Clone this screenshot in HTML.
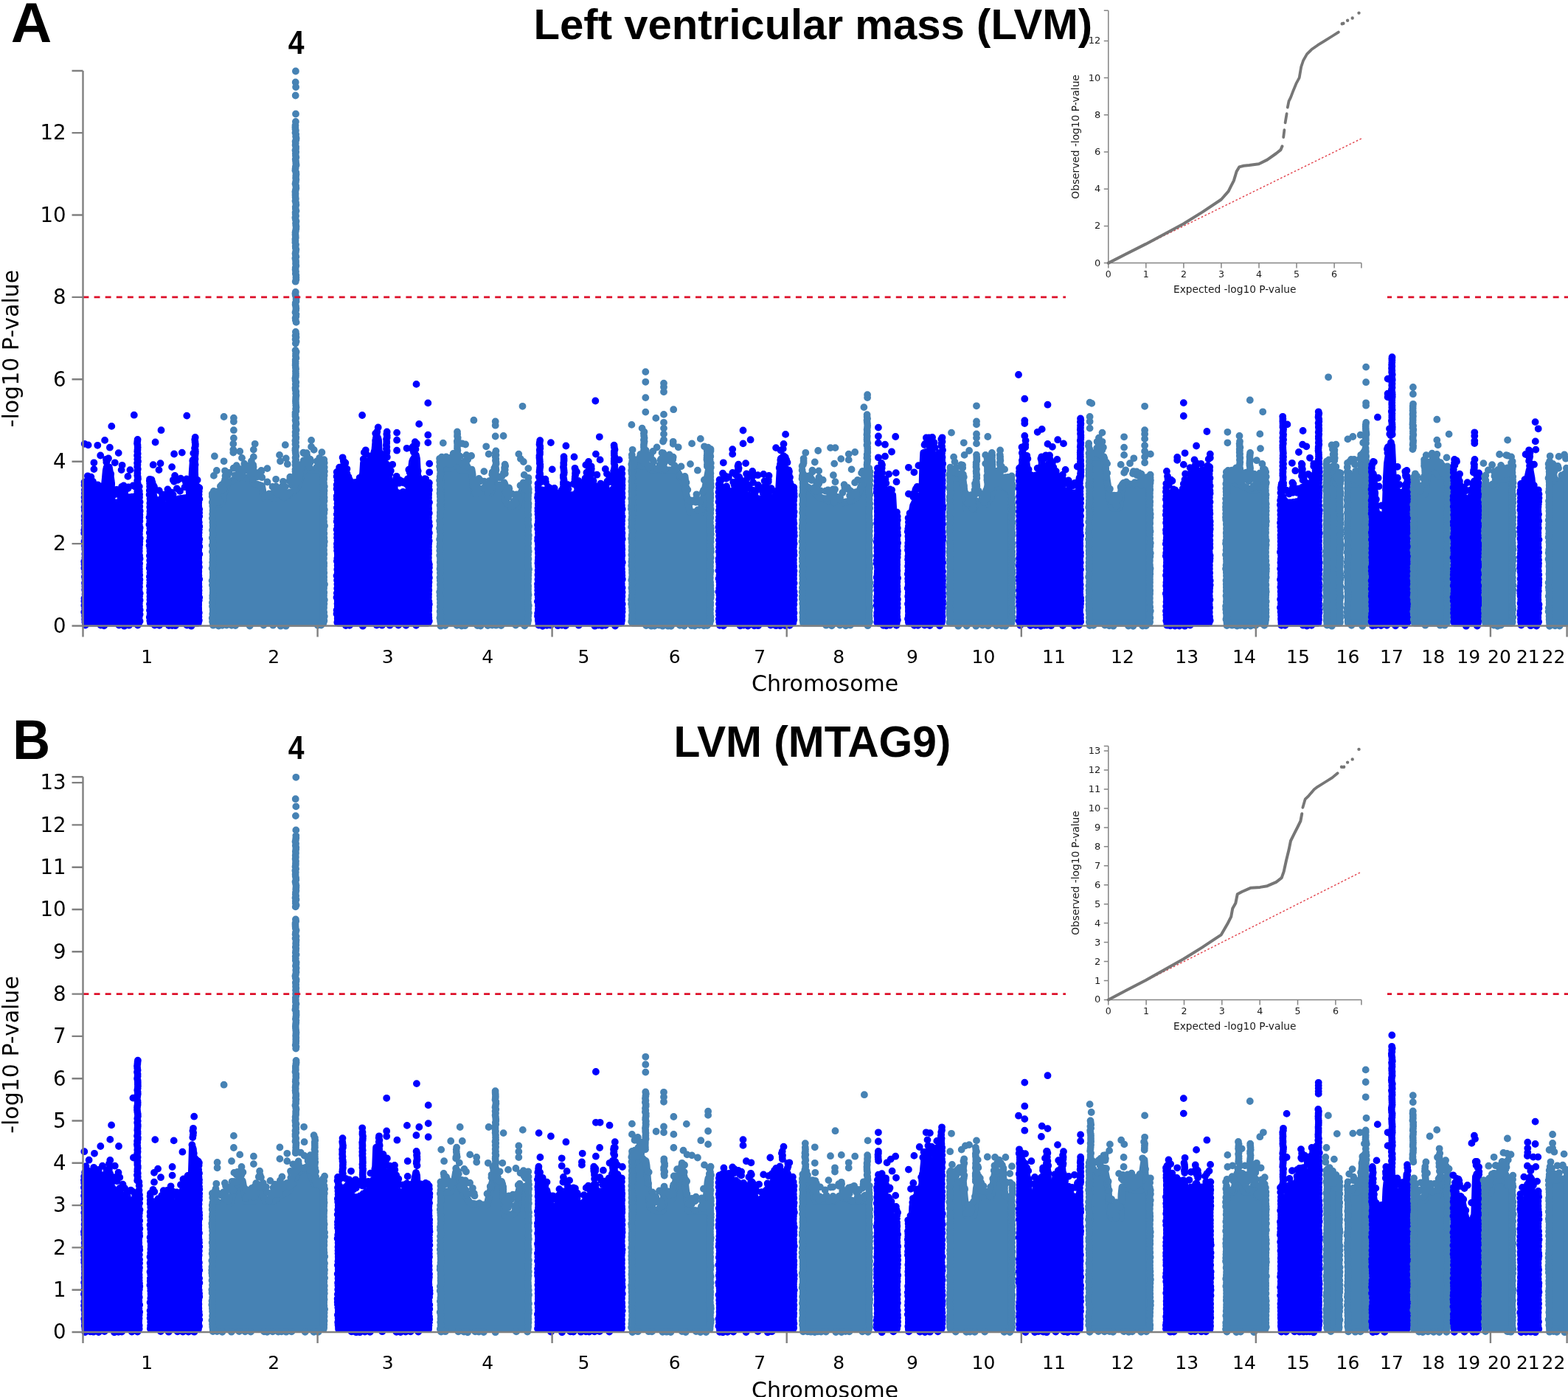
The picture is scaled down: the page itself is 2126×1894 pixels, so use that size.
<!DOCTYPE html>
<html lang="en"><head><meta charset="utf-8"><title>Left ventricular mass (LVM) GWAS Manhattan plots</title>
<style>html,body{margin:0;padding:0;background:#fff}body{width:2126px;height:1894px;overflow:hidden}svg{display:block}</style>
</head><body>
<svg width="2126" height="1894" viewBox="0 0 2126 1894">
<rect width="2126" height="1894" fill="#fff"/>
<g><path d="M115.8 844.6L115.8 666.5L116.8 666.8L117.8 667.1L118.8 667.3L119.8 667.6L120.8 667.9L121.8 668.2L122.8 668.5L123.8 668.8L124.8 669.1L125.8 669.3L126.8 669.6L127.8 669.9L128.8 670.2L129.8 670.5L130.8 670.5L131.8 670.5L132.8 670.5L133.8 670.5L134.8 670.5L135.8 670.5L136.8 670.5L137.8 670.5L138.8 670.5L139.8 670.5L140.8 666.4L141.8 658.4L142.8 648.7L143.8 637.7L144.8 633.4L145.8 633.4L146.8 633.4L147.8 633.4L148.8 639.5L149.8 646.1L150.8 652.8L151.8 685.9L152.8 686.8L153.8 687.3L154.8 687.8L155.8 688L156.8 688L157.8 688L158.8 688L159.8 688L160.8 688L161.8 688L162.8 688L163.8 688L164.8 688L165.8 687.9L166.8 683.9L167.8 682L168.8 682L169.8 682L170.8 682L171.8 682L172.8 682L173.8 682L174.8 682L175.8 682L176.8 680.8L177.8 679.5L178.8 678.3L179.8 677L180.8 675.8L181.8 674.5L182.8 673.3L183.8 672.6L184.8 672.6L185.8 672.6L186.8 672.6L187.8 672.6L188.3 672.6L188.3 844.6Z" fill="#0000ff" stroke="#0000ff" stroke-width="9.8" stroke-linejoin="round"/><path d="M165.2 659.8h0M165.1 662.2h0M165.5 664.7h0M166.1 667.2h0M165.8 669.8h0M165.6 672.2h0M165.4 674.4h0M168.9 675.7h0M129.5 663h0M183.5 660.1h0M175.1 674.1h0M151.7 683.6h0M144.3 626.5h0M165.6 687.7h0M140.6 664.1h0M167 678.8h0M145.1 624.3h0M119.7 655.4h0M120.9 664.3h0M134.3 658.8h0M121.9 666h0M178.9 673.6h0M136.2 659.9h0M137 662.9h0M127.2 662h0M134.9 669.9h0M186.3 666.2h0M133.5 670h0M138.2 661.5h0M115.8 657.9h0M150.2 642.5h0M130.3 663.5h0M116.1 656.3h0M122.3 659.9h0M118.8 653.7h0M137.8 659.7h0M158.2 681.4h0M170.2 663.7h0M167.7 658.4h0M144 622.7h0M187.2 658.8h0M168.3 663.9h0M118.9 645.3h0M180.4 658.4h0M169 660.6h0M125.9 652.6h0M152.3 664.5h0M174.1 660.3h0M158.1 663.9h0M165.3 669.1h0M132.4 657.3h0M125.4 654h0M123.4 646.6h0M156.3 670.1h0M161.2 669.3h0M151.2 655.9h0M173.6 662.1h0M152.2 669.7h0M163.6 674.7h0M169.2 667.6h0M121.2 653.5h0M114.6 653.5h0M114.6 657.7h0M114.9 664.1h0M114.9 668.7h0M114.6 674.3h0M114.7 679.6h0M115.4 683.4h0M114.6 687.6h0M114.8 692h0M115.5 695.6h0M114.7 699.9h0M114.7 705.5h0M114.9 709.8h0M115 714.7h0M114.4 718.6h0M114.3 722.7h0M115.5 729h0M114.5 733.9h0M115 740.3h0M115.3 744.6h0M115.3 750.9h0M115.4 756.2h0M114.3 761.2h0M114.5 765.1h0M114.4 770.2h0M115.3 775.8h0M114.9 782h0M115.6 785.5h0M115 790.5h0M115.4 794.9h0M115.2 799.4h0M115.6 805.5h0M114.5 811.2h0M114.4 815.1h0M114.4 820.7h0M115.1 825.1h0M114.3 829.8h0M115.1 835h0M115.2 839.8h0M115.4 843.5h0M188.8 659.6h0M188.8 665.9h0M189.1 670.2h0M189 674.2h0M189.6 680.6h0M189.3 686.6h0M189.7 692.8h0M189.4 697.9h0M189.4 701.6h0M189.4 706.4h0M188.8 711.9h0M189.7 715.5h0M189.1 719.4h0M188.9 723.9h0M189.7 729.7h0M189.3 733.9h0M189.2 738.3h0M188.7 743h0M188.7 747h0M189.1 753.2h0M189.6 757.4h0M189.1 763.9h0M188.7 767.8h0M188.9 771.6h0M188.8 775.3h0M189.2 779.6h0M189.4 785.8h0M189 790.5h0M189 795.6h0M188.5 800.1h0M189.7 804.4h0M189.1 808.3h0M189.6 813.7h0M188.8 817.8h0M189 822.1h0M189.7 826.9h0M189.6 833h0M188.5 836.5h0M189.6 842.2h0M115.8 847.5h0M136.5 847.6h0M141.1 848.4h0M161.3 847.6h0M168.5 848.7h0M175 847.7h0M186.8 847.6h0M186.6 595.9h0M186.3 598.4h0M186 601.1h0M186.5 603.5h0M186.7 606.6h0M186.5 609.7h0M186.3 612h0M186.7 615.1h0M186.1 617.5h0M186.7 620.1h0M186.3 622.6h0M187 625.4h0M186.1 627.7h0M186.5 630.1h0M186.2 632.9h0M186.8 635.9h0M186.2 638.5h0M186.4 641.6h0M186.3 644.6h0M186.8 646.9h0M187 649.2h0M186.2 651.8h0M186.5 654.1h0M187 656.9h0M186.4 659.1h0M114.7 601.8h0M119.6 603.4h0M132.3 603.8h0M142.1 596.9h0M148.9 606.7h0M151.3 577.9h0M181.8 562.7h0M160.7 614.1h0M127.4 627.3h0M127.4 636.1h0M155.8 627.3h0M165.6 630.8h0M164.6 637.1h0M176.4 637.1h0M173.4 645.9h0M136.2 617.5h0M147 621.4h0" stroke="#0000ff" stroke-width="9.8" stroke-linecap="round" fill="none"/></g>
<g><path d="M203.9 844.6L203.9 662.8L204.9 663.4L205.9 666.1L206.9 668.7L207.9 671.4L208.9 674.1L209.9 676.7L210.9 679.2L211.9 681.2L212.9 683.2L213.9 685.2L214.9 686.2L215.9 686.2L216.9 686.2L217.9 686.2L218.9 686.2L219.9 686.2L220.9 686.2L221.9 686.2L222.9 686.2L223.9 686.2L224.9 685.9L225.9 685.2L226.9 684.4L227.9 683.7L228.9 682.9L229.9 682.2L230.9 681.4L231.9 680.7L232.9 680.2L233.9 679.8L234.9 679.4L235.9 679L236.9 678.6L237.9 678.2L238.9 677.8L239.9 677.4L240.9 677L241.9 676.6L242.9 676.4L243.9 676.2L244.9 676.1L245.9 675.9L246.9 675.8L247.9 675.7L248.9 675.5L249.9 675.4L250.9 675.2L251.9 675.1L252.9 674.9L253.9 674.8L254.9 674.7L255.9 674.1L256.9 670.1L257.9 666.1L258.9 662.1L259.9 655.3L260.9 637.3L261.9 623.6L262.9 623.6L263.9 636.5L264.9 662.5L265.9 674.5L266.9 674.5L267.9 674.5L268.9 674.5L268.9 844.6Z" fill="#0000ff" stroke="#0000ff" stroke-width="9.8" stroke-linejoin="round"/><path d="M267.2 662.5h0M207.2 656.9h0M229.4 681.1h0M261.3 624.5h0M268.7 673.6h0M225.3 674.2h0M264.7 658.9h0M205.9 661.4h0M228.5 674.6h0M225.4 673.9h0M204.1 652.7h0M226.7 683.8h0M211.9 680.7h0M217.4 677.2h0M257.3 665.6h0M232 667.4h0M234.6 670.6h0M263.6 625.2h0M227.6 682.6h0M205.8 657.8h0M256.6 666.8h0M206.5 653.9h0M207.9 670.3h0M220.6 682.6h0M262.3 614.4h0M221.6 685.6h0M244 665.9h0M250.5 660.4h0M221.8 673.1h0M253 649.5h0M245.1 648.7h0M205.5 650.4h0M234.8 650.7h0M265.9 659.1h0M220.2 670.4h0M236 652.8h0M215.8 665.1h0M251.9 653.4h0M254.1 657.1h0M225.2 670.6h0M227.4 663.5h0M209 660h0M252.8 660.5h0M208.1 658.2h0M239.8 662.4h0M267.6 650.8h0M268.1 660h0M209.3 661.9h0M203 649.8h0M203.1 655.4h0M203.1 659.6h0M202.8 665h0M202.6 670.7h0M203.5 676.2h0M203.3 682.2h0M203.2 687.4h0M203.4 693.2h0M203.4 697.4h0M202.5 701.4h0M203.2 706.6h0M202.4 711.3h0M203.4 716.3h0M202.8 722.2h0M203.5 728.7h0M202.6 733.6h0M202.5 739.6h0M203.3 743.3h0M203.4 747.1h0M202.9 753.5h0M203.2 759.8h0M203.1 765.9h0M202.7 770.2h0M203.5 776.5h0M202.9 781.8h0M203.2 786h0M203.4 789.9h0M202.9 794.2h0M203.4 799.6h0M203.2 803.2h0M203.4 808.7h0M203.4 813.1h0M203 819h0M203.5 822.7h0M203 827.4h0M203.6 832.8h0M202.8 836.8h0M203.3 841.5h0M270.3 661.5h0M269.8 666h0M269.6 670.5h0M270.4 676.6h0M269.3 681.2h0M269.3 686.9h0M270.2 690.4h0M270.1 695.2h0M270.2 699.9h0M269.3 704.8h0M269.8 708.3h0M270.3 713.8h0M269.9 717.5h0M269.7 722.1h0M269.4 726.1h0M270.3 731.1h0M269.7 735h0M270.3 740.9h0M269.2 745h0M270.3 751.3h0M269.1 756.3h0M269.6 762.5h0M269.9 768.7h0M269.3 774.7h0M269.4 780.6h0M270.2 785.3h0M269.3 791.3h0M269.6 795.4h0M269.6 800.5h0M269.4 804.4h0M270.2 810h0M269.8 813.7h0M269.1 819.4h0M269.2 825.4h0M269.8 830.7h0M269.5 836.1h0M269.8 840.9h0M209.7 847.5h0M216.1 847.8h0M229 848.1h0M233.5 848.1h0M237.8 848.2h0M253.4 847.6h0M259.4 848.7h0M264.7 593h0M264.2 596h0M264.5 599.2h0M264.9 602.3h0M264.8 604.5h0M264 607.6h0M264.7 610h0M264.9 612.2h0M264.8 614.6h0M264.5 616.7h0M264.2 619.8h0M264.5 622.2h0M264 624.5h0M264.1 626.8h0M264.6 629.9h0M264.1 633h0M264.1 635.9h0M218.5 583.2h0M210.6 599.5h0M253.3 563.6h0M236.1 615.5h0M246.8 613.6h0M207.7 630.2h0M217.5 628.2h0M233.1 633.1h0M215.5 637.1h0M237.1 644.9h0M202.8 651.7h0M241 650.8h0" stroke="#0000ff" stroke-width="9.8" stroke-linecap="round" fill="none"/></g>
<g><path d="M289 844.6L289 682.4L290 682.4L291 682.4L292 682.4L293 682.4L294 682.4L295 682.4L296 682.4L297 682.4L298 682.4L299 682.4L300 682.4L301 680.8L302 674.8L303 669.8L304 667.2L305 664.5L306 661.8L307 659.2L308 656.5L309 654.7L310 654.2L311 653.7L312 653.2L313 652.7L314 652.2L315 651.7L316 651.2L317 650.7L318 650.2L319 649.7L320 649.2L321 649L322 648.9L323 648.8L324 648.7L325 648.6L326 648.5L327 648.4L328 648.3L329 648.2L330 648.1L331 648L332 647.9L333 647.8L334 647.7L335 647.6L336 647.5L337 647.4L338 647.3L339 647.2L340 647.1L341 647.1L342 650.1L343 653.1L344 655.1L345 655.4L346 655.7L347 656.1L348 656.4L349 656.7L350 657.1L351 657.4L352 657.7L353 658.1L354 658.4L355 658.7L356 664L357 672L358 674.5L359 674.5L360 674.5L361 674.5L362 674.5L363 674.5L364 674.5L365 674.5L366 674.5L367 674.5L368 674.4L369 674.3L370 674.1L371 673.9L372 673.8L373 673.9L374 674.2L375 674.5L376 674.5L377 674.5L378 674.5L379 674.5L380 674.5L381 674.5L382 674.5L383 674.5L384 674.5L385 674.5L386 673.9L387 673.3L388 672.7L389 672.1L390 671.5L391 670.9L392 670.3L393 669.7L394 669.1L395 668.5L396 667.7L397 667L398 666.2L399 665.5L400 664.7L401 664L402 663.2L403 661.5L404 658.5L405 655.5L406 652.5L407 649.5L408 646.5L409 643.5L410 640.5L411 638.8L412 638.1L413 637.3L414 636.6L415 635.8L416 635.4L417 635.6L418 635.9L419 636.1L420 636.4L421 636.6L422 636.9L423 637.1L424 637.3L425 637.3L426 637.3L427 637.3L428 637.3L429 637.3L430 637.3L431 637.3L432 637.3L433 637.3L434 637.3L435 637.1L436 636.8L437 636.6L438 636.3L438.5 636.2L438.5 844.6Z" fill="#4682b4" stroke="#4682b4" stroke-width="9.8" stroke-linejoin="round"/><path d="M343.2 630.3h0M343.6 632.9h0M343.2 635.8h0M342.5 639h0M383.2 666h0M408.3 634.7h0M437.1 630.6h0M342.9 649.8h0M355.2 647.2h0M400.2 651.4h0M411.6 628h0M384.6 674.3h0M376.6 669.8h0M335.8 633.6h0M294.1 670.5h0M381.1 666.5h0M365.7 673h0M308.8 644.3h0M386.7 659.9h0M289.4 673.3h0M304.9 655.5h0M322.6 643h0M377.1 663.4h0M382.3 667.1h0M309.2 653.9h0M325.5 636.7h0M303.4 663.4h0M419.3 633.2h0M349.1 646.4h0M290.8 677.4h0M373.1 664.8h0M385.6 666.4h0M429.1 633.6h0M326.2 647.2h0M295.6 675.8h0M349.7 646.2h0M297.8 679.3h0M290.9 676.1h0M429.7 625.3h0M318.9 644.3h0M364.8 669.5h0M410.6 627.7h0M335.3 637.8h0M296.3 680.8h0M406.1 648.5h0M290 680.2h0M400.4 656.8h0M399.9 657h0M322.8 636.3h0M323.8 635.3h0M339.2 643.7h0M393 667.5h0M395.4 657.8h0M371.8 665.9h0M406.9 642.8h0M328.7 643.3h0M433.3 626.3h0M420.6 622.7h0M328 637.6h0M400.3 663.9h0M400.6 654.9h0M420.6 627.1h0M324.8 647.3h0M383.3 670.2h0M388.5 672.1h0M359.2 672.3h0M393.3 646.7h0M354.4 639.1h0M374.3 659.5h0M320.7 631.2h0M300.7 657.3h0M310.7 640.9h0M305 638.3h0M340.6 633.1h0M293.3 669.2h0M392.6 652h0M393.2 650h0M298.9 664.9h0M343.4 633.1h0M411.6 614.4h0M298.9 659.2h0M425.7 609.9h0M305.1 650.3h0M305.8 650h0M415.8 614.1h0M383.9 652.8h0M383.5 659.8h0M304 653.6h0M402.3 649.1h0M336.8 631.7h0M292.2 667.9h0M331.3 628.7h0M344.1 640.1h0M433.2 620.8h0M416.3 617.7h0M293.7 666.7h0M354.3 638h0M340.9 628h0M369.5 659.9h0M417.9 622.4h0M411.6 624.5h0M289.2 668.2h0M403 629.4h0M289.7 666h0M362.5 653.5h0M316.6 634.6h0M340.9 625.2h0M328 620.9h0M331.5 633.8h0M393.6 652.9h0M305.5 645.1h0M301.1 660.1h0M393.3 649h0M382.9 659.3h0M349 641.2h0M287.7 669.4h0M287.7 673.1h0M288.6 676.7h0M287.7 681h0M288.3 686h0M288.5 692.1h0M288.2 697h0M287.9 702.8h0M288.4 708.2h0M288.6 712.7h0M288 718.7h0M288.6 724.5h0M287.8 729.3h0M288.7 734.5h0M287.7 739.4h0M288.6 743.6h0M287.9 748h0M288.6 754.1h0M288.5 758h0M288.2 762.5h0M288.4 766.5h0M287.6 770.6h0M288.7 776.2h0M288.7 782.6h0M287.6 787.3h0M287.9 793.2h0M288.6 798h0M288.7 803.4h0M288.3 807.5h0M288.3 811.1h0M287.9 817h0M288 822h0M288.7 826.9h0M288.3 832.2h0M287.7 837.9h0M288.1 842.7h0M439.3 623.2h0M439.7 627.4h0M439.7 633.5h0M439.9 639.1h0M439.6 644.6h0M439.1 649.5h0M438.9 654.9h0M439.8 659.6h0M439.6 665.3h0M439.3 669.5h0M439.6 674.4h0M439.6 679.1h0M439 685.4h0M439.8 690.9h0M439.4 695.6h0M438.8 702h0M439 707.1h0M440 713h0M438.9 718h0M439.4 723.2h0M439.4 728.9h0M439.8 734.3h0M439.3 739.4h0M439 745.7h0M439.3 751.3h0M438.9 757.1h0M439.2 763.5h0M439.1 767.2h0M438.8 771.9h0M439.3 776.6h0M439.2 782.2h0M439 786.5h0M440 792.2h0M439 797.3h0M439.3 803.2h0M438.9 807.4h0M439.8 813.2h0M439.4 818.6h0M439 823.8h0M439.2 830.2h0M439.8 835.6h0M439.4 841.5h0M289 847.7h0M296.4 848.6h0M301.4 847.8h0M307.2 847.5h0M314 847.8h0M319.2 848.1h0M338.7 848.6h0M357.4 847.5h0M370.2 847.7h0M380.5 848.7h0M387.7 848.7h0M430.8 847.8h0M435.4 847.6h0M303.6 565h0M316.9 566.6h0M316.9 571.5h0M316.9 583.2h0M316.9 594h0M316.3 601.8h0M316.3 609.6h0M316.3 613.6h0M325.2 612h0M290.9 618.5h0M303.6 625.3h0M289.9 644.9h0M293.8 638h0M345.7 601.8h0M343.8 609.6h0M343.8 619.4h0M362.4 635.1h0M386.8 603.2h0M379 616.9h0M380 625.3h0M387.8 621.4h0M389.8 629.2h0M422.1 596.9h0M422.1 605.7h0M411.3 613.6h0M436.4 613.2h0M436.8 623.3h0M436.8 636.1h0M374.1 649.8h0M400.9 96.5h0M400.7 111.5h0M401.1 118h0M400.7 129.5h0M401 154.5h0M400.9 165h0M400.5 170h0M400.4 172.5h0M400.5 174.9h0M400.9 177h0M400.5 179.9h0M401.2 182.1h0M401.1 185h0M401.6 187.4h0M401.4 189.5h0M400.6 191.8h0M400.8 193.9h0M400.6 196.7h0M401.2 199.3h0M401.1 201.7h0M400.5 203.7h0M401.2 205.9h0M400.8 208.3h0M400.9 210.9h0M401.4 213.2h0M400.7 215.9h0M401 218.5h0M401.3 221.4h0M401.6 223.7h0M400.9 225.8h0M400.6 228.5h0M400.4 231h0M401.3 233.7h0M401.5 236.3h0M401.2 238.6h0M401.1 241.2h0M401.4 243.6h0M401 246.6h0M400.5 249.2h0M401.2 251.9h0M401.4 254.9h0M400.9 257.2h0M400.4 259.9h0M400.6 262.4h0M400.5 264.5h0M400.6 267.2h0M400.9 269.5h0M400.5 272.4h0M401.1 274.8h0M401.4 277.7h0M400.7 280.6h0M400.8 283h0M401.5 285.9h0M400.6 288h0M400.7 290.2h0M401.1 292.7h0M400.4 295h0M400.8 297.4h0M401.5 300h0M401 302.7h0M401.2 305.3h0M401.5 307.3h0M401.4 310.1h0M400.9 312.9h0M400.5 315.3h0M400.5 317.9h0M400.7 320h0M400.8 322.2h0M400.4 324.2h0M400.5 326.4h0M400.4 328.7h0M401.1 331.6h0M400.7 333.8h0M400.8 336.1h0M401.4 338.2h0M401 341.2h0M400.5 343.7h0M400.8 345.8h0M401.4 348.1h0M400.4 350.2h0M401 353.2h0M401.1 355.3h0M401 357.4h0M401.4 360.3h0M400.7 363h0M400.6 365.4h0M401 368.2h0M400.8 371h0M401.4 373.2h0M401.4 376.2h0M401.4 379h0M400.7 381.7h0M400.8 396h0M400.4 398h0M400.7 400.3h0M401.5 403h0M401.5 405.4h0M401.5 408.4h0M400.7 410.8h0M400.6 413h0M401.1 415.2h0M401.4 418.1h0M401.2 420.6h0M400.5 423.4h0M401.5 426.1h0M401.3 428.9h0M400.6 431.3h0M400.8 434.1h0M401.6 436.9h0M400.9 450h0M401.3 452.9h0M400.6 455.1h0M401.5 457.3h0M400.6 460.1h0M401.6 462.9h0M400.8 465.6h0M400.6 475h0M401.6 477h0M401 479.7h0M400.9 482.6h0M401.4 485.5h0M400.7 487.7h0M400.7 490h0M400.7 492.6h0M400.6 495h0M400.8 497.9h0M401.1 500.3h0M400.9 503.3h0M401 506.2h0M401 508.7h0M400.9 510.7h0M400.4 512.9h0M400.6 515.7h0M401.3 518.2h0M400.8 520.7h0M401.1 523.3h0M400.5 526h0M400.7 528.6h0M401.3 530.9h0M401.1 533.4h0M401.5 536.1h0M401.1 538.6h0M401 541.1h0M400.9 543.8h0M401 546.3h0M401.2 549.3h0M401.5 552.1h0M401.1 554.4h0M401.4 557.3h0M400.5 559.5h0M400.5 561.9h0M400.5 564.2h0M401.3 566.8h0M400.6 569.7h0M401.2 572.4h0M401.5 574.6h0M400.7 577.5h0M400.9 580.5h0M401.6 583h0M400.6 585.8h0M401 588.3h0M400.6 590.6h0M401.3 592.9h0M401.1 594.9h0M400.4 597.4h0M401.1 599.7h0M400.5 602.2h0M401.3 605.2h0M400.5 608.2h0M400.4 610.4h0M400.7 613.2h0M400.9 615.3h0M401.4 618.3h0M400.6 620.5h0M401.1 623.4h0M400.5 626.1h0M401.2 628.2h0M400.5 630.6h0M401.2 633.6h0M400.5 636.4h0M400.5 639.2h0M400.9 642.1h0M401.1 644.4h0M400.7 647.3h0M401 649.5h0" stroke="#4682b4" stroke-width="9.8" stroke-linecap="round" fill="none"/></g>
<g><path d="M458 844.6L458 653L459 653L460 653L461 653L462 653L463 653L464 651L465 648.6L466 646.2L467 644.1L468 645L469 645.9L470 646.8L471 647.7L472 648.6L473 649.5L474 650.6L475 653.4L476 656.2L477 659L478 661.8L479 664.6L480 667.4L481 667.4L482 667.4L483 667.4L484 667.4L485 667.4L486 667.4L487 667.4L488 667.4L489 667.4L490 667.4L491 659.4L492 643.4L493 627.4L494 626.7L495 626.4L496 626.1L497 625.7L498 625.4L499 625.1L500 624.7L501 624.4L502 624L503 623.6L504 623.2L505 622.8L506 622.4L507 622L508 614.1L509 603.1L510 593.3L511 593.3L512 593.3L513 596.5L514 618.5L515 622.5L516 623.2L517 624L518 624.7L519 625.5L520 626.2L521 627L522 627.7L523 628.5L524 629.2L525 633.1L526 640.4L527 647.8L528 655.1L529 658.8L530 659.8L531 660.8L532 661.8L533 662.8L534 663.8L535 664.8L536 665.8L537 666.8L538 667.8L539 668.6L540 668.6L541 668.6L542 668.6L543 668.6L544 668.6L545 668.6L546 668.6L547 668.6L548 668.6L549 668.6L550 668.6L551 668.6L552 668.6L553 668.6L554 668.4L555 659.9L556 651.4L557 642.9L558 634.4L559 625.9L560 623.2L561 621.7L562 620.2L563 618.7L564 617.2L565 621.9L566 641.9L567 661.9L568 668.5L569 668.5L570 668.5L571 668.5L572 668.5L573 668.5L574 668.5L575 668.5L576 668.5L577 668.5L578 668.4L579 668.1L580 667.8L580.5 667.6L580.5 844.6Z" fill="#0000ff" stroke="#0000ff" stroke-width="9.8" stroke-linejoin="round"/><path d="M465.7 624.7h0M466.2 627.5h0M466.7 630.4h0M466.7 632.6h0M564.8 601.1h0M560.9 613h0M509.3 597h0M467.2 639h0M535.9 652.2h0M532.7 657.8h0M572.1 659.1h0M578.2 661.4h0M517.3 622.9h0M462.1 649h0M534.6 655h0M563.5 609.1h0M516.1 616.6h0M552.4 657.5h0M511.3 585.2h0M525.8 638h0M493.8 624.3h0M507.4 612.6h0M491.3 644.5h0M577.4 663.7h0M555 650.6h0M496.8 615.9h0M529.8 654.6h0M554 655h0M546.5 667h0M524.8 619.8h0M494.8 612.5h0M481.2 666.3h0M532.5 657.5h0M554.6 662.9h0M532.9 657.4h0M534.8 660.5h0M531 656.3h0M484 662.7h0M514.1 615.2h0M470.4 635.8h0M462.5 649.8h0M569.9 663.7h0M503.2 621.1h0M554.3 658.1h0M489.6 657.6h0M509.6 588h0M510.7 588.3h0M572.4 655.3h0M527.5 638h0M472.5 646.4h0M528.4 657.1h0M512.7 579.5h0M505.4 616.9h0M572.8 668.2h0M516.2 615h0M470.5 642.3h0M484 653.6h0M459.9 640h0M541.7 654.9h0M576.3 655h0M564.5 602.9h0M460.1 633.6h0M487.6 647.8h0M480.9 654.1h0M552.8 649.3h0M562.8 599.2h0M468.3 627.5h0M544.9 652.5h0M572.2 654h0M576.1 649.2h0M459.4 639.9h0M537.7 645.8h0M467.7 630.1h0M547.3 654.6h0M563.4 601.6h0M465.3 632.2h0M528.4 642.4h0M540.9 654.8h0M555.6 640.4h0M537 648.8h0M509.2 587.6h0M554.3 636.7h0M554.1 651.3h0M493.8 613.4h0M577.3 649.4h0M559.3 608.9h0M532.2 629.8h0M559.8 605.6h0M495.8 610.3h0M566.8 646.5h0M541.9 651h0M567.7 647.3h0M492.7 622.4h0M490.2 651.7h0M529.8 638.3h0M566.7 638.6h0M456.7 640h0M456.6 645.9h0M457.4 651.1h0M456.7 657.2h0M456.6 662.7h0M457.7 667.3h0M456.7 672.4h0M456.8 676.6h0M457.5 682.8h0M456.9 688.2h0M457.5 693.1h0M456.8 697.3h0M457.2 703.2h0M456.7 707h0M457.5 712.8h0M456.6 718h0M457.1 724.2h0M457 729.1h0M457.5 733.2h0M456.9 737.2h0M457 741.8h0M457.1 746.5h0M457.7 750.5h0M457.3 756.9h0M456.9 760.8h0M457.6 766.6h0M457.3 771.9h0M457.7 777h0M456.5 780.6h0M457.1 786.7h0M457.4 791.9h0M457.2 797.7h0M456.8 804.1h0M456.5 810h0M457.7 814.3h0M457.5 818.4h0M457.7 822.1h0M456.6 827.3h0M456.5 832.2h0M457.7 838.4h0M457.3 843.7h0M581.9 654.6h0M581.4 658.9h0M581.9 664.3h0M581.2 669.9h0M580.9 674.7h0M582 681.1h0M580.7 685.3h0M581.1 689.5h0M581.8 695.7h0M580.7 701.7h0M581.6 707.6h0M582 713h0M580.9 716.7h0M581.9 722.5h0M581.1 728h0M581.7 733.3h0M581.1 737.1h0M580.8 741.4h0M580.9 746.3h0M580.9 750.5h0M580.7 756.1h0M580.9 761.7h0M581.9 765.3h0M581.9 769.5h0M581.8 775.6h0M581.3 779.5h0M581.9 783.3h0M581.5 789.3h0M581.1 794.2h0M581.3 800.1h0M580.9 805.5h0M580.7 809.7h0M581.4 815.3h0M581.8 819.3h0M581.2 823.6h0M581 827.5h0M581.1 833.6h0M581.3 837.6h0M581.8 842h0M468.9 848.1h0M474 847.8h0M491.9 848.7h0M510.7 847.5h0M518 847.7h0M528.6 847.7h0M540.2 847.6h0M550.5 847.8h0M564.2 847.8h0M524.7 585.5h0M524.3 588.5h0M524.7 590.6h0M524.7 593.1h0M524 595.5h0M524.2 598.5h0M524.2 600.7h0M523.8 603.4h0M524.3 606h0M523.9 608.6h0M524.6 611.5h0M524.1 614.5h0M564.5 520.9h0M580.3 546.4h0M491.1 563h0M568.2 574.9h0M538.1 586.6h0M538.1 596.7h0M538.1 610.7h0M580.3 589.7h0M580.3 600.1h0M582.2 628.6h0M582.2 640.3h0M551.6 607.8h0M464.6 620.3h0" stroke="#0000ff" stroke-width="9.8" stroke-linecap="round" fill="none"/></g>
<g><path d="M597.5 844.6L597.5 634.8L598.5 634.8L599.5 634.8L600.5 634.8L601.5 634.8L602.5 634.8L603.5 634.8L604.5 634.8L605.5 634.8L606.5 634.8L607.5 634.8L608.5 634.8L609.5 634.8L610.5 634.8L611.5 634.4L612.5 633.7L613.5 632.9L614.5 632.2L615.5 631.4L616.5 630.7L617.5 629.9L618.5 629.2L619.5 628.4L620.5 627.7L621.5 629.9L622.5 632.5L623.5 635.2L624.5 637.4L625.5 637.4L626.5 637.4L627.5 637.4L628.5 637.4L629.5 637.4L630.5 637.4L631.5 637.4L632.5 637.4L633.5 637.4L634.5 637.4L635.5 637.2L636.5 637.1L637.5 636.9L638.5 636.7L639.5 636.6L640.5 642.6L641.5 655.6L642.5 668.6L643.5 668.6L644.5 668.6L645.5 668.6L646.5 668.6L647.5 668.6L648.5 668.6L649.5 668.6L650.5 668.6L651.5 668.6L652.5 668.6L653.5 668.6L654.5 668.6L655.5 668.6L656.5 668.6L657.5 668.6L658.5 668.6L659.5 668.6L660.5 668.6L661.5 668.6L662.5 668.6L663.5 668.6L664.5 668.6L665.5 668.5L666.5 665.5L667.5 662.5L668.5 659.5L669.5 656.9L670.5 657.4L671.5 657.8L672.5 658L673.5 658L674.5 658L675.5 658L676.5 658L677.5 658L678.5 658L679.5 658L680.5 658L681.5 658L682.5 657.6L683.5 654.3L684.5 656.5L685.5 679.2L686.5 680.4L687.5 681.6L688.5 682.8L689.5 684L690.5 685.2L691.5 686.4L692.5 686.4L693.5 686.4L694.5 686.4L695.5 686.4L696.5 686.4L697.5 686.4L698.5 686.4L699.5 686.4L700.5 686.4L701.5 686.4L702.5 683.9L703.5 679.9L704.5 675.9L705.5 671.9L706.5 667.9L707.5 665.6L708.5 664.9L709.5 664.3L710.5 663.6L711.5 662.9L712.5 662.3L713.5 661.6L714.5 660.9L715.5 660.8L715.5 844.6Z" fill="#4682b4" stroke="#4682b4" stroke-width="9.8" stroke-linejoin="round"/><path d="M667.6 640.1h0M667.2 643.2h0M668.4 646.5h0M667.8 649.3h0M684.6 629.6h0M685.2 631.8h0M684.1 634.3h0M684.2 636.6h0M683.9 639.8h0M684.8 642.1h0M599.6 629.2h0M665.6 661.8h0M680.5 645.5h0M700.1 682.4h0M602.9 622.6h0M655.8 661.6h0M630.5 625.1h0M645.4 656.5h0M667.4 660.5h0M614.9 625.8h0M685.6 667.5h0M695 685.5h0M643.4 660.4h0M696.6 679.7h0M644.2 667.7h0M689.2 674.1h0M625.9 628.1h0M648.9 668.3h0M692.5 685.1h0M693.7 684.2h0M603.9 628.1h0M710.6 662.7h0M627 629.3h0M672.2 649.1h0M660.2 655.5h0M648.6 661.6h0M600 622.8h0M712 659.5h0M708.1 660.1h0M693 684.7h0M701.9 672.3h0M673.2 647.8h0M677.6 647.9h0M661.5 667.5h0M670.8 647.1h0M658.9 660.6h0M709.7 654.3h0M633.6 632.5h0M611.7 628.8h0M710.4 656.8h0M629.2 629.9h0M660.5 656.6h0M612.2 621.9h0M632.2 629.1h0M631.6 626.8h0M607.9 628.5h0M696.6 680.9h0M664.8 663.7h0M621.3 624.5h0M651.9 651.6h0M669.9 641h0M634.2 623h0M623.7 618.6h0M642.8 651.1h0M598.9 619.7h0M699.2 672h0M663.2 652.2h0M631.1 602.5h0M632.4 617h0M616.3 617.7h0M700.4 670.5h0M604.9 619.4h0M649.4 648.9h0M610.4 620.6h0M710.7 643.9h0M615.8 616.4h0M639.1 618h0M670.3 634.7h0M694.4 669.7h0M684.7 636.7h0M687.2 664.7h0M690.2 665.4h0M705.5 658.2h0M700.3 673.3h0M687.9 664.8h0M656.3 639.1h0M665 652.8h0M690 661.3h0M669.2 642.6h0M650.9 652.5h0M682.9 641.2h0M643.6 651.5h0M642.9 653.6h0M690.4 662.7h0M656.5 652.6h0M619.3 614h0M614.6 614.9h0M666.2 653.5h0M596.1 621.8h0M596.2 626.3h0M596.1 632.3h0M596.8 636.4h0M597.3 642.7h0M596.6 646.3h0M596.1 651.3h0M596.6 657.1h0M596.7 663.6h0M596.5 668.7h0M596.9 673.3h0M596.9 678.6h0M596.5 685h0M597.2 690h0M596.8 694.7h0M596.6 699.8h0M596.1 706h0M596.8 710.9h0M596 716.3h0M596.7 720.8h0M597.1 726.8h0M596.1 731.2h0M596.7 737.2h0M596.2 741.1h0M596.3 746.6h0M596.2 753.1h0M597.1 757.9h0M596.7 762.2h0M597.1 767.2h0M596.5 771.3h0M596.9 776.6h0M596.5 783.1h0M596.8 786.7h0M596.9 792.6h0M597.3 798.1h0M596.2 802.6h0M596.5 807.8h0M596.7 811.9h0M597 817.1h0M596.7 822.5h0M596.6 829h0M597.2 833.7h0M596.4 837.7h0M597.2 841.5h0M716.4 647.8h0M716.5 653.7h0M715.8 659.7h0M716.7 663.2h0M716.7 667.7h0M716 672.2h0M715.9 676.5h0M716.5 682.7h0M716.3 687.3h0M715.8 691.9h0M716.5 698.1h0M716.3 704.5h0M716.1 709.9h0M717 713.5h0M716.2 719.6h0M716.8 725.7h0M716.5 730.2h0M716.4 736.5h0M716.1 742.9h0M716.7 747.6h0M716.1 751.7h0M716.4 757.8h0M716.1 763.7h0M716.2 767.7h0M717 771.8h0M716.5 776.2h0M716.4 780h0M716.3 784.7h0M715.9 788.4h0M716.2 794.4h0M716 798.6h0M716 802.9h0M716.6 806.5h0M715.9 811.1h0M715.9 816.7h0M716.8 821h0M716.3 824.9h0M716.8 830.9h0M716.2 834.9h0M716.2 840.5h0M597.5 848.7h0M603.6 848.1h0M619.5 847.8h0M625.9 848.6h0M630.4 848.2h0M647.3 848h0M651.6 848.6h0M661.4 848h0M667.4 847.6h0M672.6 847.7h0M679.5 848h0M699.2 847.5h0M711.3 848.4h0M620 585.5h0M620.2 588.5h0M620 591.3h0M620.7 593.4h0M620.5 596.3h0M619.8 598.3h0M620 600.5h0M620.2 602.9h0M620.1 605h0M620 607.7h0M620.4 610.7h0M620.1 613.6h0M672.4 611.5h0M671.7 613.9h0M672.5 616.9h0M671.7 619.2h0M672.3 622.2h0M671.9 624.3h0M672.5 626.4h0M672.6 628.7h0M671.8 631.6h0M672.1 634.4h0M672.5 637.3h0M671.8 639.7h0M672.1 642.8h0M708.5 550.8h0M642.4 569.7h0M671.7 571.5h0M671.7 576.7h0M671.7 591.5h0M682.6 591h0M600.8 600.6h0M659.2 605.3h0M662.6 615.6h0M703.3 615.6h0M705.9 622.1h0M709.8 626h0M716.3 635.1h0M626.8 601.4h0" stroke="#4682b4" stroke-width="9.8" stroke-linecap="round" fill="none"/></g>
<g><path d="M730.4 844.6L730.4 668.6L731.4 668.6L732.4 668.6L733.4 668.6L734.4 668.6L735.4 668.6L736.4 668.6L737.4 668.6L738.4 668.6L739.4 668.6L740.4 668.6L741.4 668.6L742.4 668.6L743.4 670.5L744.4 672.5L745.4 674.5L746.4 676.5L747.4 678.5L748.4 680.5L749.4 681.5L750.4 681.5L751.4 681.5L752.4 681.5L753.4 681.5L754.4 681.5L755.4 681.5L756.4 681.5L757.4 681.5L758.4 681.5L759.4 680.6L760.4 678.6L761.4 676.6L762.4 674.6L763.4 672.6L764.4 670.6L765.4 670.4L766.4 670.6L767.4 670.7L768.4 670.9L769.4 671.1L770.4 671.1L771.4 671.1L772.4 671.1L773.4 671.1L774.4 671.1L775.4 671.1L776.4 671.1L777.4 671.1L778.4 671.1L779.4 671.1L780.4 671L781.4 670.7L782.4 670.5L783.4 670.2L784.4 670L785.4 669.7L786.4 669.5L787.4 669.2L788.4 669L789.4 668.7L790.4 667.8L791.4 665.5L792.4 663.2L793.4 660.9L794.4 658.7L795.4 656.4L796.4 654.1L797.4 651.8L798.4 649.5L799.4 650.5L800.4 655L801.4 659.5L802.4 664L803.4 668.5L804.4 668.5L805.4 668.5L806.4 668.5L807.4 668.5L808.4 668.5L809.4 668.5L810.4 668.5L811.4 668.5L812.4 668.5L813.4 668.5L814.4 668.4L815.4 668.2L816.4 668.1L817.4 667.9L818.4 667.7L819.4 667.6L820.4 667.4L821.4 667.2L822.4 667.1L823.4 666.9L824.4 666.7L825.4 666.6L826.4 666.4L827.4 666.2L828.4 666.1L829.4 665.4L830.4 664.2L831.4 662.9L832.4 661.6L833.4 660.3L834.4 659.1L835.4 657.8L836.4 656.5L837.4 655.2L838.4 654L839.4 652.7L840.4 651.4L841.4 650.2L842.4 648.9L842.4 844.6Z" fill="#0000ff" stroke="#0000ff" stroke-width="9.8" stroke-linejoin="round"/><path d="M801.6 632.3h0M801.8 635.4h0M801.3 638.3h0M801.6 640.6h0M801.4 643.3h0M744.7 670.1h0M735.3 664.4h0M820.6 657h0M791.6 665.1h0M801.8 655.3h0M758.3 668.3h0M770.4 662.9h0M752.9 671.8h0M745.7 671.3h0M805.4 657.8h0M757.4 674.7h0M780.2 670.1h0M769.7 661.3h0M829.5 653.4h0M793.5 651.6h0M821.7 660.8h0M815.5 656.6h0M805 662.9h0M782 667.3h0M823.5 654.5h0M762.8 664.6h0M753.5 668.3h0M761.8 664.4h0M808.9 660.8h0M743 660h0M782.9 661.4h0M749.2 668.5h0M731.6 668.4h0M814.4 655.6h0M810.7 668.2h0M793.5 648.5h0M785.1 661.8h0M751.6 675.1h0M731.3 667.4h0M802.6 658.8h0M835.1 653.6h0M758.5 670.9h0M745.9 661.8h0M817.1 665.7h0M763.6 661.2h0M801.8 659.6h0M834.2 647.4h0M818.2 665.3h0M813.5 659.1h0M751 679h0M766.2 661.7h0M792.1 655.5h0M823.5 652.5h0M735 651.4h0M800.7 635.7h0M809.4 643.7h0M836.2 640.1h0M786.3 655.6h0M763.9 654.2h0M739.4 649.7h0M748.7 665.5h0M839 639.9h0M734.8 652.7h0M751.7 662h0M730.7 646.4h0M826.2 645.7h0M778 656.4h0M804.5 651.9h0M777.5 656h0M779.5 652.6h0M822.9 642.3h0M748.8 666.7h0M780 654h0M769.4 657h0M739.9 653.6h0M781.9 639.8h0M832.1 638.6h0M839.5 623.4h0M799.8 631.4h0M737.1 649.9h0M798.6 634.7h0M794.3 630.4h0M784.2 651.8h0M763.9 656.5h0M829.5 652.3h0M751.5 662.8h0M780.5 657.5h0M804.3 653.2h0M795.4 640.7h0M729.5 655.6h0M729.7 660.7h0M729.9 664.6h0M729.5 670.8h0M729 674.6h0M730 678.9h0M729.8 684h0M729.4 688.9h0M729.4 693.1h0M729.5 696.9h0M730.1 702.2h0M730.1 706.9h0M729 711.7h0M729.2 716.9h0M730 722.7h0M729.2 729.1h0M729.1 732.9h0M729.9 737.6h0M729.4 744h0M730 749.8h0M730.1 755.7h0M729.7 759.9h0M729.4 763.4h0M729.8 767.6h0M729.6 773.2h0M729.4 779.3h0M729.4 785.5h0M729 791.7h0M729.2 795.7h0M729.2 800.2h0M729.1 805.8h0M729.7 809.6h0M728.9 815.4h0M730.1 821h0M730 826.3h0M729.1 831.5h0M729 835.3h0M729.8 840.8h0M843.1 635.9h0M843.3 641.9h0M842.6 645.7h0M843.6 649.6h0M843.3 653.6h0M843.5 658h0M842.8 662.6h0M843.3 668.8h0M843.6 674.3h0M842.6 680.7h0M842.8 685.2h0M843.7 690.2h0M842.6 696.1h0M843.6 700.2h0M843.1 705.7h0M842.8 710.6h0M843.1 716.7h0M843.4 722.8h0M843 726.5h0M843.7 730.7h0M842.6 735.9h0M843 739.9h0M843.3 744.8h0M843 749.5h0M843.3 753h0M842.6 757.5h0M843.8 762.4h0M842.8 766h0M842.9 771.5h0M843.2 775.9h0M843.3 780.2h0M843.8 785.2h0M842.6 791.7h0M843.6 796.9h0M843.6 803h0M843.4 808.4h0M842.9 813h0M843.7 818.9h0M843.5 825.2h0M843.6 829.6h0M843.2 835.3h0M843 840.7h0M730.4 847.6h0M735.7 848.8h0M741.6 847.8h0M746.6 847.7h0M756.4 848.2h0M761.6 847.6h0M766.8 848.4h0M784.7 847.7h0M806.5 848.7h0M811.6 847.5h0M816.2 848.4h0M821.1 847.8h0M834.1 848.5h0M732.2 597.2h0M731.7 600.2h0M731.5 602.4h0M732.2 605h0M732.3 607.8h0M731.7 610.1h0M732 613h0M732 615.5h0M731.4 617.9h0M731.4 620.4h0M731.7 623.1h0M731.9 625.7h0M731.8 628h0M732.3 630h0M732.3 632.7h0M732 634.8h0M731.7 637.6h0M731.5 639.7h0M732.1 641.9h0M732.2 644h0M731.9 646.5h0M731.9 649.2h0M732 652h0M732.1 654.4h0M764.5 619.2h0M764.6 622.2h0M764.6 624.5h0M764.2 627.7h0M764.3 630h0M763.9 633.2h0M764.3 635.2h0M764.6 638h0M764.8 640.4h0M764.5 642.7h0M763.8 644.8h0M763.8 646.9h0M764.3 649.5h0M764.7 651.8h0M763.9 654.2h0M764.5 656.4h0M779.5 634.8h0M780.1 636.8h0M780.3 639.1h0M780 641.7h0M780.1 644.1h0M779.7 646.7h0M779.5 649.8h0M779.4 652.7h0M779.7 655.4h0M832.6 603.7h0M832.9 606.3h0M833.5 609.4h0M832.8 612.2h0M832.8 614.5h0M832.8 617h0M833.3 619.3h0M832.8 622h0M832.7 625.2h0M832.7 627.9h0M833.4 631h0M833.3 633.3h0M832.8 636.3h0M833 638.7h0M832.7 641.7h0M833.1 644.5h0M833.1 647.1h0M807.3 543.5h0M812.8 592.3h0M746.9 600.1h0M767.4 604.5h0M778.5 619.5h0M748.7 636.4h0M807.9 615.6h0M813.6 623.4h0M820.8 635.9h0M843.4 650.7h0M843.4 662.3h0M798 626h0" stroke="#0000ff" stroke-width="9.8" stroke-linecap="round" fill="none"/></g>
<g><path d="M857.5 844.6L857.5 629.6L858.5 629.7L859.5 629.9L860.5 630L861.5 630.2L862.5 630.3L863.5 630.4L864.5 630.6L865.5 630.7L866.5 630.9L867.5 631L868.5 631.2L869.5 631.3L870.5 631.4L871.5 631.6L872.5 631.7L873.5 631.9L874.5 632L875.5 632.2L876.5 632.5L877.5 633L878.5 633.5L879.5 634L880.5 634.5L881.5 635L882.5 635.5L883.5 636L884.5 636.5L885.5 637L886.5 637.3L887.5 637.3L888.5 637.3L889.5 637.3L890.5 637.3L891.5 637.3L892.5 637.3L893.5 637.3L894.5 637.3L895.5 637.3L896.5 637.3L897.5 635.8L898.5 634.3L899.5 632.8L900.5 634.5L901.5 636.5L902.5 637.4L903.5 637.4L904.5 637.4L905.5 637.4L906.5 637.4L907.5 637.4L908.5 637.4L909.5 637.4L910.5 637.4L911.5 637.4L912.5 637.4L913.5 637.4L914.5 637.4L915.5 637.4L916.5 637.4L917.5 637.4L918.5 639.3L919.5 641.3L920.5 643.3L921.5 645.3L922.5 647.3L923.5 649.3L924.5 651.3L925.5 653.3L926.5 655.3L927.5 657.3L928.5 660.9L929.5 665.5L930.5 670.2L931.5 674.9L932.5 679.5L933.5 684.2L934.5 688.9L935.5 693.5L936.5 694.5L937.5 694.5L938.5 694.5L939.5 694.5L940.5 694.5L941.5 694.5L942.5 694.5L943.5 694.5L944.5 694.5L945.5 694.5L946.5 694.5L947.5 694.5L948.5 694.5L949.5 694.5L950.5 694.5L951.5 690.4L952.5 683.8L953.5 677.1L954.5 670.4L955.5 664.8L956.5 659.6L957.5 654.4L958.5 649.2L959.5 644L960.5 638.8L961.5 634.3L962.5 631.8L962.5 844.6Z" fill="#4682b4" stroke="#4682b4" stroke-width="9.8" stroke-linejoin="round"/><path d="M899.3 614.2h0M899.5 617.5h0M963.5 608.9h0M963.5 611.3h0M962.7 614.7h0M962.4 616.9h0M858.5 628.5h0M873.3 628.2h0M867.7 619.4h0M929.2 650.5h0M893.1 636.2h0M932.7 677.9h0M960.3 625.3h0M882.1 632.3h0M929.9 654.4h0M910.5 626.7h0M902.7 624.9h0M859.6 629.7h0M890.7 635.6h0M870.1 624.2h0M871.7 623.7h0M876.3 628.1h0M873 628.1h0M910.1 625h0M894.6 630.2h0M953.9 664.7h0M880.1 633.8h0M950.2 690.7h0M886.1 625.7h0M885.3 623.9h0M862 623.4h0M900.3 628.3h0M895.6 623.4h0M929.7 663h0M914.6 631.1h0M930 667.6h0M949.3 690.5h0M899.4 623.2h0M901.5 636.1h0M898.1 626.4h0M900.5 622.5h0M962.3 617.8h0M921.3 644.3h0M884.2 630.8h0M897.1 625.9h0M878.3 621.1h0M946 691.5h0M952.9 667.1h0M930.4 660.8h0M925.3 647h0M890.6 606.5h0M857.6 609.8h0M947.1 677.9h0M919.7 606.3h0M882.1 617.3h0M935.5 678.2h0M932.3 664h0M912.7 619.7h0M928.6 645.9h0M923.5 632.4h0M880.9 617h0M885.3 612h0M907.2 618h0M912.3 621.2h0M880.7 620.7h0M954.9 650.7h0M912.5 620.7h0M942.9 680.1h0M875.6 610.5h0M905.8 619.3h0M944.4 670.3h0M948.6 681.3h0M897.5 613.9h0M943.3 680.8h0M873.6 617.4h0M868.3 616h0M941.8 677.8h0M905 624h0M899 598.5h0M930.5 654.2h0M907.7 616.4h0M937.2 680.7h0M928.9 647.9h0M912.2 623.1h0M896.4 622.2h0M856.8 616.6h0M857 620.2h0M857.2 625.4h0M856.3 629.4h0M856.9 633.8h0M856.2 638h0M856.5 641.8h0M857 647.8h0M856.3 652.6h0M856.8 658h0M856.7 661.6h0M856.4 666.2h0M856.8 670.6h0M856.2 676h0M856.8 680.6h0M856.1 685.8h0M856 689.9h0M856.8 695.5h0M856.9 701h0M856.3 704.7h0M856.6 709.4h0M856.1 714.4h0M857.3 720.1h0M856.7 725.4h0M856.2 730.3h0M856.7 735h0M856.7 741.2h0M856.6 746.2h0M856.4 752.2h0M856.8 757.9h0M856.4 761.5h0M856.3 766.7h0M857.1 772.5h0M857.2 776.6h0M857.2 782.6h0M856.3 786.4h0M857.2 791.6h0M856.4 797.1h0M857.2 802h0M856.7 807.6h0M856 812.9h0M856.1 818.8h0M856.8 822.8h0M857.3 827.8h0M856.9 834.3h0M856.9 838.6h0M856.2 842.8h0M963.3 618.8h0M962.7 623.5h0M963.8 627.9h0M963.8 633.8h0M962.9 638.1h0M963.4 641.8h0M963.3 646.4h0M963.4 651.3h0M963.7 655.9h0M963.9 660h0M962.7 665.2h0M963.4 669.7h0M963.4 674.4h0M963 678.9h0M963.1 684.7h0M963.7 690.4h0M963.3 695.7h0M963.3 702h0M962.8 708.1h0M963.5 712.9h0M963.8 716.5h0M963.5 720.3h0M963.9 724.3h0M963.7 729.5h0M963.6 734.5h0M963.1 740h0M963.8 744.1h0M963.9 748.1h0M962.8 752.2h0M963.7 756h0M963.2 762.3h0M963 767.8h0M963.6 774h0M962.8 778h0M962.7 783.6h0M963.1 789.6h0M963.4 793.8h0M963.4 798.2h0M963.9 802.2h0M963.8 806.7h0M963.7 810.6h0M963.2 817.1h0M963.2 820.7h0M963 826.1h0M962.8 831.2h0M963.6 836.1h0M963.6 840.9h0M876.1 848h0M883.1 848.7h0M887.4 848.6h0M893.8 847.6h0M898.4 848.7h0M905.8 848.7h0M909.9 848.8h0M921.9 847.9h0M927.7 848.5h0M937.6 848.2h0M942 848.5h0M948.4 847.5h0M954.4 848.3h0M959 848h0M873.4 585.5h0M872.9 587.7h0M873.1 590.8h0M873.6 593.8h0M872.9 596.4h0M873.6 598.5h0M873.2 600.7h0M872.9 603.3h0M872.9 605.9h0M873.2 608.5h0M872.9 611h0M872.9 613.4h0M873 615.6h0M873.2 618.6h0M958.4 608.9h0M958.8 612h0M958.9 614.9h0M958.6 617.8h0M958.5 620.7h0M958.4 623h0M958.9 625.5h0M959.2 627.8h0M958.9 629.9h0M958.9 632.2h0M875.3 504.1h0M875.3 517.8h0M875.3 539.1h0M875.3 558.6h0M900 519.6h0M900 524.8h0M900 531.3h0M913.2 555.2h0M889.3 566.9h0M900 561.9h0M900 572.8h0M900 580.6h0M900 588.4h0M900 596.2h0M856.4 575.9h0M870.6 580.6h0M912.7 598.8h0M912.7 601.9h0M938.1 601.4h0M949.8 594.9h0M955 605.3h0M960.1 606.6h0M936 629.1h0M945.9 637.7h0" stroke="#4682b4" stroke-width="9.8" stroke-linecap="round" fill="none"/></g>
<g><path d="M975.9 844.6L975.9 663.4L976.9 663.4L977.9 663.4L978.9 663.4L979.9 663.4L980.9 663.4L981.9 663.4L982.9 663.4L983.9 663.4L984.9 663.4L985.9 663.4L986.9 664.4L987.9 665.7L988.9 667.1L989.9 668.4L990.9 668.4L991.9 668.4L992.9 668.4L993.9 668.4L994.9 668.4L995.9 668.4L996.9 668.4L997.9 668.4L998.9 668.4L999.9 668.4L1000.9 651.1L1001.9 646.2L1002.9 648.6L1003.9 651L1004.9 653.4L1005.9 655.8L1006.9 658.2L1007.9 664.2L1008.9 670.2L1009.9 673.8L1010.9 673.9L1011.9 674.1L1012.9 674.2L1013.9 674.4L1014.9 674.5L1015.9 674.7L1016.9 674.8L1017.9 674.9L1018.9 675.1L1019.9 675.2L1020.9 675.4L1021.9 675.5L1022.9 675.7L1023.9 675.8L1024.9 675.9L1025.9 676.1L1026.9 676.2L1027.9 676.3L1028.9 676.3L1029.9 676.3L1030.9 676.3L1031.9 676.3L1032.9 676.3L1033.9 676.3L1034.9 676.3L1035.9 676.3L1036.9 676.3L1037.9 675.7L1038.9 673.2L1039.9 670.7L1040.9 668.2L1041.9 671.1L1042.9 677.1L1043.9 678.2L1044.9 678.2L1045.9 678.2L1046.9 678.2L1047.9 678.2L1048.9 678.2L1049.9 678.2L1050.9 678.2L1051.9 678.2L1052.9 678.2L1053.9 676.2L1054.9 672.2L1055.9 666.9L1056.9 649.9L1057.9 632.9L1058.9 624.4L1059.9 624.2L1060.9 624L1061.9 625.1L1062.9 631.1L1063.9 637.1L1064.9 638.4L1065.9 639.4L1066.9 640.4L1067.9 641.4L1068.9 642.4L1069.9 651.6L1070.9 663.6L1071.9 673.7L1072.9 673.7L1073.9 673.7L1074.9 673.7L1075.4 673.7L1075.4 844.6Z" fill="#0000ff" stroke="#0000ff" stroke-width="9.8" stroke-linejoin="round"/><path d="M1001.2 629.6h0M1000.5 631.9h0M1001.6 634.8h0M1001.1 637.1h0M1041.8 650.4h0M1041.8 653h0M1067.5 627h0M1069.5 637.4h0M1016.4 662h0M1000.3 657.4h0M1043.4 666.3h0M1010.2 661.8h0M995.6 657.5h0M1008.8 669.9h0M1075.1 670.8h0M1023.6 668.7h0M1053.4 676.9h0M1050.7 673.1h0M995.7 663.1h0M1060 621.2h0M985.1 659.4h0M1010.6 662.1h0M1072 669.2h0M1050.1 666.1h0M1058.3 623.6h0M1065.9 635.8h0M1058.7 621.6h0M1034.6 668.4h0M1058 629.9h0M1062.5 618.2h0M1071.5 663h0M1070 639.2h0M1072.3 670.8h0M1001 648.8h0M999 657.2h0M1021.5 664.8h0M1024.9 674.7h0M1044.1 674.1h0M1014.9 671.5h0M1054.9 667.7h0M1069.6 643.2h0M1016.3 662h0M1040.8 665.9h0M1009.7 668.1h0M1059.1 621.5h0M976.3 656.2h0M977.5 650.9h0M1056.7 634.2h0M1036.1 660.2h0M1009.3 659h0M1011.1 651.6h0M1037.5 661.6h0M984.6 648.8h0M1045.7 662.2h0M1041.7 649.9h0M987.9 647h0M980 641.7h0M994.2 653.8h0M1071.2 654.4h0M998.2 644.4h0M1036.6 652.1h0M1015.1 658.1h0M1071 647.1h0M1074.3 659.7h0M1058.5 610.6h0M1028.4 663.3h0M993.3 640.9h0M1021.1 654.1h0M1000.9 635.9h0M985.9 646.3h0M1061.7 608.4h0M1013.4 648.1h0M1064.8 619.9h0M983.4 645.5h0M1020.1 646.4h0M1011.9 655.7h0M1038.8 657.8h0M1027.9 657.7h0M1066.2 623.4h0M1012.1 642.4h0M975.6 650.4h0M974.8 656.4h0M975.1 661.5h0M974.5 667.3h0M974.7 673h0M975.3 676.6h0M974.5 680.5h0M975.5 686.7h0M974.9 691.9h0M975.2 695.6h0M974.9 701.3h0M974.7 705.7h0M975 710h0M974.4 714.8h0M974.6 720.2h0M975.2 725.8h0M974.8 732.2h0M975.3 737.7h0M974.9 741.7h0M974.7 747.7h0M975.5 752.2h0M974.6 757.3h0M974.7 761.3h0M975.3 765.3h0M975.3 768.9h0M974.4 773.6h0M975.5 780h0M974.5 784.4h0M975.3 788.5h0M975.6 793.3h0M975.2 797.6h0M974.4 802.3h0M975.4 806.6h0M975.1 812.8h0M974.9 818.8h0M975.3 824.6h0M974.7 828.6h0M975 833.5h0M974.7 839h0M975.2 843.3h0M1076.3 660.7h0M1076.4 665.1h0M1076.6 669.4h0M1076.7 673h0M1076.1 678.2h0M1075.9 684.5h0M1075.7 688.8h0M1076.6 693.9h0M1076.1 699.4h0M1075.7 705.4h0M1076.4 709.8h0M1076.4 716.2h0M1076.6 721.8h0M1076.8 726.4h0M1076 732.2h0M1076.6 736.9h0M1075.8 741.4h0M1076.3 747.5h0M1076.5 752.6h0M1075.8 758.8h0M1075.7 763.3h0M1076.2 768h0M1076.5 774.1h0M1076.1 779.3h0M1076 784.5h0M1076.6 790.6h0M1075.8 796.6h0M1076.6 802.1h0M1076.8 807.1h0M1076.6 813.3h0M1076.4 819.3h0M1075.8 825.4h0M1076.5 831h0M1076 836.4h0M1076.4 840.1h0M975.9 847.8h0M980.8 848.4h0M1003.7 848.3h0M1008.3 847.6h0M1014.1 848.5h0M1022.7 848.3h0M1028 848.2h0M1045 847.5h0M1052.1 848.2h0M1057.8 848.3h0M1064.7 848h0M1070.7 847.8h0M1007.5 583.5h0M1017.6 596.2h0M1007.5 601.4h0M1065.1 588.9h0M993.2 609.1h0M993.2 615.6h0M980.8 627.3h0M1011.1 628.1h0M1020.2 639h0M1027.5 644.2h0M1035.2 642.9h0M1042.5 644.9h0M1052.1 607.1h0M1062.5 601.9h0" stroke="#0000ff" stroke-width="9.8" stroke-linecap="round" fill="none"/></g>
<g><path d="M1089 844.6L1089 645L1090 651L1091 657L1092 658.6L1093 659.2L1094 659.8L1095 660.4L1096 660.9L1097 661.5L1098 662.1L1099 662.6L1100 663.2L1101 664.1L1102 665.1L1103 666.1L1104 667.1L1105 668.1L1106 669.1L1107 670.1L1108 671.1L1109 672.1L1110 673.1L1111 673.9L1112 674.2L1113 674.6L1114 675L1115 675.4L1116 675.7L1117 676.1L1118 676.5L1119 676.9L1120 677.2L1121 677.6L1122 678L1123 678.4L1124 678.7L1125 679.1L1126 679.5L1127 679.9L1128 680.2L1129 680.6L1130 681L1131 681.4L1132 681.5L1133 681.5L1134 681.5L1135 681.5L1136 681.5L1137 681.5L1138 681.5L1139 681.5L1140 681.5L1141 681.5L1142 681.4L1143 681.2L1144 681L1145 680.8L1146 680.6L1147 680.4L1148 680.2L1149 680L1150 679.8L1151 679.6L1152 679.4L1153 679.2L1154 679L1155 678.5L1156 677.8L1157 677.2L1158 676.5L1159 675.8L1160 675.2L1161 674.5L1162 673.8L1163 671.5L1164 668.8L1165 666.2L1166 663.5L1167 660.8L1168 658.2L1169 655.5L1170 652.9L1171 651.9L1172 650.9L1173 649.9L1174 648.9L1175 647.9L1176 647.8L1177 647.8L1178 647.8L1178 844.6Z" fill="#4682b4" stroke="#4682b4" stroke-width="9.8" stroke-linejoin="round"/><path d="M1089.6 621.8h0M1089.6 625h0M1089.6 627.6h0M1088.9 629.9h0M1129.4 676.4h0M1152.1 671.8h0M1119.4 665.7h0M1124.9 669.1h0M1106.3 665.9h0M1134.9 673.6h0M1106.6 665.4h0M1106.5 659.3h0M1138.9 677.3h0M1175.6 644.3h0M1173.4 648.3h0M1153.3 675.2h0M1094.6 648.9h0M1090.2 649.1h0M1153.3 673.9h0M1112.5 665.4h0M1103.6 661.4h0M1177.2 638.1h0M1092.9 647.7h0M1120.6 676h0M1160.6 667.2h0M1098.1 649.6h0M1102.7 662.5h0M1130.9 681.2h0M1170.1 650.1h0M1131.4 679h0M1100.4 651.1h0M1139.1 674.6h0M1107.6 660.1h0M1090.9 655.7h0M1152.2 678.6h0M1176.3 639.9h0M1154.2 670.4h0M1161.3 672h0M1100.9 650.3h0M1108.1 665.3h0M1122.7 664.3h0M1162.9 650.8h0M1130.3 668h0M1168.1 641.3h0M1095.3 645.7h0M1144.6 657.1h0M1132.1 663.4h0M1107.3 656.2h0M1169.6 638.8h0M1098.3 644.9h0M1100.2 649.1h0M1129.6 663.4h0M1145.6 661.6h0M1128.1 666.9h0M1153.5 665.8h0M1130.9 665.8h0M1148.9 660.8h0M1110.3 655.4h0M1150.6 663.5h0M1101.6 639.6h0M1142.3 668h0M1110.2 638.4h0M1109.4 657.1h0M1159.1 654.2h0M1145.4 660.9h0M1092.4 645.4h0M1175.9 626.7h0M1092.4 645.7h0M1110.4 647.2h0M1108.5 653h0M1087.6 632h0M1087.6 637.4h0M1088.6 641.7h0M1087.8 645.3h0M1087.5 649.1h0M1088.6 654.7h0M1088.6 660.6h0M1088.7 665.7h0M1087.6 671.5h0M1088.8 677.8h0M1088.1 683.8h0M1088.2 689.8h0M1088 695.2h0M1088.7 701.1h0M1088.1 704.7h0M1088.3 709.1h0M1087.8 712.6h0M1087.7 716.2h0M1088.2 722.1h0M1088 726h0M1088.2 730.1h0M1087.5 733.9h0M1088.3 739.1h0M1087.9 742.9h0M1087.7 748.9h0M1088.3 752.7h0M1087.8 757.1h0M1088 761.1h0M1087.8 767.5h0M1088.7 771h0M1087.9 774.9h0M1088.1 780.2h0M1088.3 785h0M1088 790.4h0M1087.9 796.6h0M1087.6 802.5h0M1087.9 808.5h0M1087.9 812.1h0M1088.2 818.2h0M1088.6 824.3h0M1088.2 830.6h0M1088.5 836.2h0M1088.4 840.6h0M1178.3 634.8h0M1179.5 639.6h0M1179.4 645.1h0M1179.3 650.9h0M1179.2 657.4h0M1178.5 661.7h0M1178.2 666.4h0M1179.4 670.6h0M1178.6 676.9h0M1179.2 682.7h0M1179.2 688.9h0M1178.3 694h0M1178.6 699.9h0M1178.7 705.3h0M1179.5 710.4h0M1178.9 714.4h0M1178.9 719.9h0M1178.7 726.2h0M1179.1 732.4h0M1178.3 738.8h0M1178.6 742.9h0M1178.2 749.2h0M1179.1 753.4h0M1178.4 759.9h0M1179.1 764.7h0M1179.2 770.3h0M1178.5 776.1h0M1178.2 780.3h0M1178.5 785.9h0M1179.5 790.2h0M1179 795.6h0M1179 801.1h0M1178.6 806.7h0M1178.3 810.4h0M1178.7 813.9h0M1178.4 817.8h0M1179.5 822.8h0M1178.6 828.4h0M1178.4 834.2h0M1178.6 838h0M1179.1 842.7h0M1120.1 847.7h0M1127.7 848.4h0M1138.8 847.6h0M1146.7 848.3h0M1153 847.6h0M1176.6 848.2h0M1175.6 562.2h0M1175.6 565.1h0M1176.1 567.6h0M1175.5 569.8h0M1175.7 572.1h0M1176 574.5h0M1176.2 577.1h0M1176 579.2h0M1175.6 582.2h0M1175.8 584.2h0M1175.8 586.3h0M1175.4 589.2h0M1175.8 591.3h0M1175.6 593.6h0M1175.5 596.1h0M1175.7 598.2h0M1176.3 600.7h0M1175.4 603.4h0M1176.1 605.7h0M1176.2 608.3h0M1176.2 611.5h0M1176.3 613.6h0M1175.6 616.3h0M1176.2 618.5h0M1175.4 620.7h0M1176.3 623h0M1176.1 625.6h0M1175.8 627.7h0M1175.5 630.1h0M1175.7 632.8h0M1176.1 535.2h0M1176.1 539.1h0M1171.4 552.1h0M1109.2 611h0M1126 607.1h0M1132.5 607.1h0M1092.3 613.8h0M1104.8 626.5h0M1131.2 628.6h0M1140.3 622.1h0M1150.7 615.6h0M1159.2 613h0M1150.7 623.4h0M1154.6 636.4h0M1101.4 637.7h0M1115.7 650.7h0M1129.9 644.2h0M1132.5 653.2h0" stroke="#4682b4" stroke-width="9.8" stroke-linecap="round" fill="none"/></g>
<g><path d="M1190.2 844.6L1190.2 647.8L1191.2 647.8L1192.2 647.8L1193.2 647.8L1194.2 647.8L1195.2 647.8L1196.2 647.8L1197.2 652.7L1198.2 658L1199.2 663.4L1200.2 668.6L1201.2 668.8L1202.2 669.1L1203.2 669.3L1204.2 669.6L1205.2 669.8L1206.2 670.1L1207.2 670.3L1208.2 670.6L1209.2 670.8L1210.2 671.1L1211.2 689.3L1212.2 707.5L1213.2 707.5L1214.2 707.5L1215.2 707.5L1215.7 707.5L1215.7 844.6Z" fill="#0000ff" stroke="#0000ff" stroke-width="9.8" stroke-linejoin="round"/><path d="M1215.3 700.2h0M1194.8 634h0M1206.8 663.4h0M1190.8 640.4h0M1209.1 664.3h0M1196.1 640.8h0M1205.6 665.1h0M1193.9 645.1h0M1214.3 703.8h0M1212 698.6h0M1213.2 693.5h0M1196 630.2h0M1213.2 694h0M1195.7 634.6h0M1201.4 655.1h0M1195.1 627.9h0M1205.1 642.8h0M1200.4 650h0M1190 634.8h0M1189.7 641.1h0M1189.3 646.1h0M1189.3 652.4h0M1189.2 658.9h0M1188.9 663h0M1188.7 667.2h0M1189.7 672h0M1189.6 678.4h0M1189.5 683.1h0M1189.9 688.6h0M1189.8 693.3h0M1190 699.2h0M1189.6 704.6h0M1189.2 709.4h0M1189.8 715.1h0M1189.8 719.3h0M1189.8 725.7h0M1189.3 729.6h0M1188.8 734.8h0M1189.7 738.5h0M1189.2 742.5h0M1189.4 747.3h0M1189.1 753.5h0M1188.7 759.6h0M1188.8 763.9h0M1189.9 768.6h0M1189.8 774.9h0M1189.6 778.4h0M1188.7 782.8h0M1189.4 788.9h0M1188.9 794h0M1189.1 799.9h0M1189.8 804.9h0M1189.1 809.2h0M1188.9 814.4h0M1188.7 820.6h0M1189.9 824.7h0M1189.2 830.9h0M1189.1 834.9h0M1189.7 839.2h0M1189.3 843.8h0M1216 694.5h0M1216.7 700.2h0M1216.8 705.1h0M1215.9 711h0M1216.8 715.9h0M1216.7 721.6h0M1217.1 725.6h0M1216.2 731.5h0M1217.1 736.2h0M1216.4 740.4h0M1217 746.8h0M1216.8 751h0M1216.7 755.5h0M1216 761.3h0M1216.2 765.5h0M1215.9 769.8h0M1216.4 773.7h0M1216 778.5h0M1217.1 783.7h0M1216.3 788.9h0M1216.4 794.6h0M1216.5 798.6h0M1216.8 802.1h0M1216.4 806.1h0M1216.9 812.5h0M1216.7 818.5h0M1216.8 823.9h0M1216.1 830.3h0M1216.3 836.1h0M1216.9 840.4h0M1197.7 847.8h0M1201.7 848.4h0M1206.8 847.5h0M1215.5 847.8h0M1190.9 579.6h0M1190.9 591.5h0M1190.9 600.6h0M1200 602.7h0M1214.2 592h0M1209 612.5h0M1190.9 620.3h0M1200 618.7h0M1214.8 641.1h0M1215.5 653.2h0" stroke="#0000ff" stroke-width="9.8" stroke-linecap="round" fill="none"/></g>
<g><path d="M1232.2 844.6L1232.2 715.3L1233.2 715.3L1234.2 715.3L1235.2 715.3L1236.2 712.9L1237.2 690.9L1238.2 685.1L1239.2 683.1L1240.2 681.1L1241.2 679.1L1242.2 677.1L1243.2 675.9L1244.2 675.3L1245.2 674.6L1246.2 673.9L1247.2 673.3L1248.2 672.6L1249.2 671.9L1250.2 671.3L1251.2 634.2L1252.2 613.9L1253.2 613.6L1254.2 613.3L1255.2 613.1L1256.2 612.8L1257.2 612.5L1258.2 614.1L1259.2 616.8L1260.2 619.4L1261.2 621.8L1262.2 621.8L1263.2 621.8L1264.2 621.8L1265.2 621.8L1266.2 621.8L1267.2 621.8L1268.2 621.8L1269.2 621.8L1270.2 621.8L1271.2 621.8L1272.2 621.1L1273.2 620.5L1274.2 619.8L1275.2 619.1L1276.2 618.5L1276.7 618.1L1276.7 844.6Z" fill="#0000ff" stroke="#0000ff" stroke-width="9.8" stroke-linejoin="round"/><path d="M1277.5 593.3h0M1276.3 595.5h0M1277.5 598.8h0M1276.6 601.2h0M1276.6 604h0M1253.5 603.1h0M1234.7 702.4h0M1239.4 670.4h0M1260 615.2h0M1243.9 672.7h0M1264.6 612.6h0M1254.1 602h0M1273.5 614h0M1234.5 703.4h0M1263 613.2h0M1264.1 611h0M1267.7 619h0M1236.4 707.1h0M1240.7 676h0M1268 618.9h0M1242.5 663.6h0M1261.7 615.7h0M1238.4 673.8h0M1258.1 600.5h0M1260.4 605h0M1243.7 659.8h0M1255.9 593.5h0M1233.6 695.8h0M1242 662.4h0M1260.7 601.9h0M1259.6 593.5h0M1241.3 664.2h0M1261.7 607.3h0M1239.2 668.8h0M1266.5 600h0M1264.1 592.9h0M1267.6 606.9h0M1231.6 702.3h0M1231.9 707.9h0M1231.9 713.2h0M1231.3 716.9h0M1230.8 720.8h0M1231.4 727h0M1231.9 731.1h0M1231.3 736.1h0M1231.1 740.7h0M1231 745.8h0M1231.9 749.6h0M1231.4 754.2h0M1231.1 758.5h0M1231.6 762.7h0M1231.1 767.6h0M1231.5 773.4h0M1230.8 778.2h0M1231.2 784.6h0M1231.4 788.4h0M1231.6 793.8h0M1230.7 797.4h0M1231.8 803.6h0M1231.2 808.5h0M1231.9 812.9h0M1231 818.7h0M1231.9 823.5h0M1231.9 828.2h0M1231.9 834.6h0M1231 838.9h0M1231.9 842.8h0M1277.1 605.1h0M1278 610.2h0M1277.1 614.2h0M1277.5 620h0M1277.1 624.5h0M1278.2 628.8h0M1277.2 632.6h0M1278.1 638.3h0M1277.5 644.6h0M1277.7 650.9h0M1277.5 655.3h0M1277.9 660.9h0M1277.2 664.8h0M1277 671.2h0M1277.3 677.1h0M1277.2 681.4h0M1278.2 686.3h0M1278 690.2h0M1277.1 694.7h0M1277.4 700.4h0M1277.5 704.5h0M1278 710.5h0M1276.9 715.7h0M1277.7 721.5h0M1278.1 727.7h0M1278 732.2h0M1277.3 738.1h0M1277.4 742.7h0M1277.4 747.3h0M1277.2 751.1h0M1277.4 757.3h0M1278.1 762.7h0M1277.2 768.5h0M1278 774.8h0M1277.9 781.2h0M1278 787h0M1277.8 791.3h0M1278 795.9h0M1277.6 799.8h0M1278 804.3h0M1278 808.9h0M1278 814.9h0M1278.1 818.8h0M1277.8 824.5h0M1277 830h0M1277.6 836.1h0M1277.3 841h0M1239.7 847.9h0M1244.7 847.9h0M1253.7 847.6h0M1260.7 848.1h0M1274.1 848.3h0M1231.9 633.8h0M1239.4 640.3h0M1231.9 669.6h0M1245.4 631.2h0" stroke="#0000ff" stroke-width="9.8" stroke-linecap="round" fill="none"/></g>
<g><path d="M1288.8 844.6L1288.8 646.7L1289.8 646.8L1290.8 646.8L1291.8 646.9L1292.8 647L1293.8 647L1294.8 647.1L1295.8 647.2L1296.8 647.2L1297.8 647.3L1298.8 647.4L1299.8 647.4L1300.8 647.5L1301.8 647.6L1302.8 647.6L1303.8 647.7L1304.8 647.8L1305.8 652.1L1306.8 660.1L1307.8 668.1L1308.8 677.1L1309.8 686.1L1310.8 690.6L1311.8 690.6L1312.8 690.6L1313.8 690.6L1314.8 690.6L1315.8 690.6L1316.8 690.6L1317.8 690.6L1318.8 690.6L1319.8 690.6L1320.8 689.8L1321.8 683.8L1322.8 678.7L1323.8 679.9L1324.8 681.1L1325.8 682.3L1326.8 683.5L1327.8 684.1L1328.8 684.1L1329.8 684.1L1330.8 684.1L1331.8 684.1L1332.8 684.1L1333.8 684.1L1334.8 684.1L1335.8 684.1L1336.8 684.1L1337.8 683.3L1338.8 681.7L1339.8 680.1L1340.8 678.5L1341.8 676.9L1342.8 675.3L1343.8 673.7L1344.8 669.7L1345.8 665.7L1346.8 661.7L1347.8 658.2L1348.8 658.2L1349.8 658.2L1350.8 658.2L1351.8 658.2L1352.8 658.2L1353.8 658.2L1354.8 658.2L1355.8 658.2L1356.8 658.2L1357.8 658.5L1358.8 659L1359.8 659.5L1360.8 660L1361.8 660.5L1362.8 661L1363.8 661.5L1364.8 662L1365.8 662.5L1366.8 663L1367.8 663.4L1368.8 663.4L1369.8 663.4L1370.8 663.4L1371.3 663.4L1371.3 844.6Z" fill="#4682b4" stroke="#4682b4" stroke-width="9.8" stroke-linejoin="round"/><path d="M1322 655.8h0M1322.3 659.1h0M1322.5 661.7h0M1321.5 664.5h0M1322.5 667.4h0M1322 670.3h0M1361.4 655.6h0M1305.9 643.2h0M1318.7 690h0M1346.2 651.5h0M1364.2 648.2h0M1337.5 676.2h0M1348 650.2h0M1296.4 640.5h0M1356.4 655.2h0M1318.2 679.7h0M1350.2 655.4h0M1306.8 658.5h0M1370.6 655.4h0M1320.2 686.5h0M1365.5 651.1h0M1313.7 681.2h0M1349.2 646.8h0M1333.9 677.1h0M1343.9 661.7h0M1367.7 663.4h0M1335.1 681.2h0M1303.9 646.4h0M1334.3 680.7h0M1360.4 650.8h0M1365 650.9h0M1290.7 639.9h0M1362.9 659.6h0M1367.5 656.5h0M1365.7 656.3h0M1300.6 642.3h0M1355 650.1h0M1338.4 672.2h0M1311.5 682.4h0M1331.1 676.7h0M1296.4 634.2h0M1316.8 671.2h0M1350.5 643.8h0M1309.8 669.4h0M1303.2 630.1h0M1363.4 647.1h0M1337.1 664.7h0M1350.6 639h0M1347.4 645.1h0M1357.9 632.5h0M1293.1 619.6h0M1325.3 668.3h0M1294.5 626.1h0M1344.7 656h0M1326.7 665.4h0M1371.1 648.3h0M1352 643.8h0M1305.2 634.2h0M1322.6 660.9h0M1313.8 676.7h0M1306.8 646.7h0M1304.7 632.9h0M1330.4 670.1h0M1328.3 668.2h0M1369 647h0M1366.7 646.8h0M1305.1 630.6h0M1288.4 633.7h0M1288.5 637.7h0M1287.3 643.3h0M1288.1 648h0M1288.1 652.8h0M1288.1 658.4h0M1287.4 662.3h0M1288.6 667.5h0M1287.6 673.6h0M1287.7 678.2h0M1288 684.4h0M1288.2 689.2h0M1287.7 694.4h0M1287.3 700.1h0M1288.1 704h0M1287.5 710.1h0M1287.7 715.3h0M1287.3 719.9h0M1288 725h0M1288.4 729.1h0M1287.5 735.3h0M1288.1 738.8h0M1287.9 743.8h0M1287.4 748.4h0M1287.9 752.9h0M1287.7 759.2h0M1288.1 764.1h0M1287.8 768.8h0M1288.2 774.7h0M1288.1 779.3h0M1287.4 783.9h0M1288.2 789h0M1287.5 793.5h0M1287.7 797.4h0M1288.3 801h0M1287.5 804.7h0M1288.3 808.6h0M1288.2 812.3h0M1287.6 818h0M1287.3 824.2h0M1287.4 829.4h0M1287.4 833.2h0M1288.3 838h0M1287.4 843.7h0M1371.6 650.4h0M1372.4 656.5h0M1372.7 661.8h0M1371.5 665.4h0M1371.5 669.3h0M1372.3 674.9h0M1371.7 678.7h0M1372.3 682.8h0M1372.7 688.3h0M1372.7 692.9h0M1372 697.7h0M1371.8 701.9h0M1372.8 708.4h0M1371.7 714h0M1371.7 718h0M1372.4 722.6h0M1372.1 726.2h0M1371.5 731.8h0M1372.5 736.6h0M1372 741.8h0M1372.2 748h0M1372 752.5h0M1372.6 758.8h0M1372.2 765.1h0M1371.7 769h0M1372.4 773.6h0M1372.5 777.1h0M1372.1 783h0M1372.5 786.5h0M1372.3 791.3h0M1372.4 796.5h0M1372.7 801.2h0M1372.7 807.6h0M1371.9 812.9h0M1371.8 817.5h0M1372.5 823.8h0M1372.5 829.6h0M1372.4 836.1h0M1372.4 840.5h0M1299.3 848.7h0M1310.7 848.5h0M1323.3 848.7h0M1332.1 847.6h0M1339.6 848.4h0M1351.2 848.1h0M1358.1 848.4h0M1363.2 848.7h0M1324 616.6h0M1324.2 619.6h0M1324.3 622.2h0M1324.4 624.6h0M1323.6 627.2h0M1323.6 630.1h0M1323.5 632.9h0M1324 636.1h0M1323.6 639h0M1323.8 641.8h0M1324.3 644.1h0M1323.9 646.1h0M1324.3 648.2h0M1323.5 651.3h0M1323.9 653.8h0M1324.2 656.7h0M1324.4 659.1h0M1323.6 661.3h0M1323.6 664.3h0M1324 666.5h0M1344.9 614h0M1345.2 617.2h0M1345 620.1h0M1345 623.2h0M1345.4 626.3h0M1345.5 629.5h0M1345.3 632.2h0M1345.2 635.2h0M1345.7 637.4h0M1345.4 640.3h0M1345 643.2h0M1345.6 645.8h0M1345.7 648.9h0M1345.4 651.1h0M1345.1 653.8h0M1355.8 616.6h0M1356.1 619.2h0M1356 621.5h0M1356.4 624.2h0M1355.8 626.9h0M1356 630h0M1356.6 633.1h0M1356.2 635.3h0M1356 638.4h0M1356 641.1h0M1355.8 643.1h0M1338.5 621.8h0M1338.8 624.6h0M1338.9 627.7h0M1339.2 630.2h0M1338.8 632.9h0M1338.9 636h0M1338.9 638.4h0M1339.2 640.7h0M1339.2 643h0M1338.3 645.1h0M1338.5 647.8h0M1338.4 650.4h0M1338.9 653.4h0M1339.2 656.2h0M1338.9 659.4h0M1338.3 662.3h0M1338.7 664.3h0M1338.6 667.5h0M1290 586.6h0M1324 550.3h0M1324 571.5h0M1324 575.4h0M1324 588.4h0M1324 593.6h0M1324 601.4h0M1339.3 592h0M1306.8 600.3h0M1307.6 616.9h0M1314.1 611h0M1336.2 616.9h0M1336.2 628.6h0M1356.1 610.4h0M1362.1 636.4h0M1371.7 645.5h0" stroke="#4682b4" stroke-width="9.8" stroke-linecap="round" fill="none"/></g>
<g><path d="M1383.2 844.6L1383.2 647.8L1384.2 647.8L1385.2 647.8L1386.2 647.8L1387.2 643.2L1388.2 635.9L1389.2 628.5L1390.2 621.7L1391.2 624.7L1392.2 632.7L1393.2 640.7L1394.2 648.7L1395.2 656.7L1396.2 662.9L1397.2 662.9L1398.2 662.9L1399.2 662.9L1400.2 662.9L1401.2 662.9L1402.2 662.9L1403.2 662.9L1404.2 662.9L1405.2 662.9L1406.2 662.9L1407.2 659.9L1408.2 656.9L1409.2 653.9L1410.2 650.9L1411.2 647.9L1412.2 644.9L1413.2 641.9L1414.2 638.9L1415.2 635.9L1416.2 634.7L1417.2 635.1L1418.2 635.7L1419.2 636.3L1420.2 636.9L1421.2 637.5L1422.2 638.1L1423.2 638.7L1424.2 639.3L1425.2 639.9L1426.2 640.5L1427.2 641.1L1428.2 641.7L1429.2 642.3L1430.2 644.4L1431.2 648.4L1432.2 652.4L1433.2 656.4L1434.2 660.4L1435.2 663.4L1436.2 663.7L1437.2 663.9L1438.2 664.2L1439.2 664.4L1440.2 664.7L1441.2 664.9L1442.2 665.2L1443.2 665.4L1444.2 665.7L1445.2 665.9L1446.2 666.4L1447.2 666.9L1448.2 667.4L1449.2 667.9L1450.2 668.4L1451.2 668.4L1452.2 668.4L1453.2 668.4L1454.2 668.4L1455.2 668.4L1456.2 668.4L1457.2 668.4L1458.2 668.4L1459.2 668.4L1460.2 668.4L1461.2 667.5L1462.2 666L1463.2 664.5L1463.7 663.8L1463.7 844.6Z" fill="#0000ff" stroke="#0000ff" stroke-width="9.8" stroke-linejoin="round"/><path d="M1385.5 606.3h0M1386.8 609h0M1386.6 611.9h0M1385.8 614.1h0M1386.7 616.6h0M1386.8 618.9h0M1386.7 621.4h0M1385.9 624.2h0M1386.1 627.6h0M1385.6 630.6h0M1386.9 633.8h0M1412.3 619.3h0M1411.4 621.8h0M1412.2 624.5h0M1412.6 627.8h0M1412.1 631.2h0M1463.6 647.8h0M1427.6 632.4h0M1455.6 658h0M1394.6 640.9h0M1395.2 651h0M1447.7 655.4h0M1423.7 633h0M1428.3 633.5h0M1426.9 627.3h0M1387.9 631.4h0M1402.2 659.4h0M1402.7 660.4h0M1402.6 650.1h0M1421.6 629.2h0M1410.2 647.6h0M1401.1 658.2h0M1450.4 660.7h0M1423.7 637.9h0M1431.8 638.9h0M1388.8 619.3h0M1409.9 639.6h0M1435.4 655.4h0M1408 650h0M1458.6 657.8h0M1395.6 651h0M1409.3 652.6h0M1440 656.7h0M1396.6 649.5h0M1393 638.6h0M1435.4 651.6h0M1433.5 645.2h0M1424 630h0M1391.4 621.1h0M1440.9 658h0M1396.7 644.3h0M1418.1 617.3h0M1390.6 597.2h0M1383.5 633.5h0M1415.3 621.7h0M1390.3 602.9h0M1463.2 649.5h0M1404.6 644.3h0M1401.1 647.3h0M1438.6 648.5h0M1395.7 647.4h0M1426.9 605.8h0M1457.2 654.9h0M1423.6 622.6h0M1398.8 644.3h0M1423.1 617.4h0M1406.7 634.8h0M1448.8 651.4h0M1394.6 636.4h0M1393.4 621.9h0M1439.3 647.1h0M1461.8 653.5h0M1440.8 643.7h0M1392.3 617.8h0M1387.5 622.2h0M1441.4 649.8h0M1382.1 634.8h0M1382.1 639.4h0M1381.7 643.7h0M1383 648.5h0M1382 652.3h0M1382.2 658.4h0M1381.9 662.4h0M1382.8 668h0M1382.1 672.7h0M1382.9 676.2h0M1381.9 680.7h0M1382.6 687.2h0M1382 693.5h0M1382.2 699.6h0M1382.2 706h0M1382.3 712.3h0M1382.3 716.4h0M1382.6 721.3h0M1382.3 726h0M1382.7 731.2h0M1382.3 735.6h0M1382.4 740.6h0M1382.7 746.1h0M1382.6 751.2h0M1382.1 757h0M1382.3 762.8h0M1381.8 767.1h0M1382.5 772.1h0M1382.5 776.5h0M1381.9 782.1h0M1382 787h0M1382.4 791.2h0M1382.6 795.8h0M1382 800.3h0M1382.7 806h0M1382 810.2h0M1382.1 815.7h0M1382.1 821.1h0M1382.9 825.4h0M1382.9 830h0M1382.3 836.4h0M1381.7 841.9h0M1464.2 650.8h0M1464 655.3h0M1464.8 661.2h0M1464.4 666.1h0M1464.5 670.4h0M1465.1 676.1h0M1465 682.1h0M1464.4 686.9h0M1465.2 691.4h0M1464.1 695.4h0M1465.1 699.8h0M1464.3 705.8h0M1465 711.9h0M1464.1 716.7h0M1464.4 722.5h0M1465.1 726.3h0M1464.4 731.2h0M1464.2 736.4h0M1464.4 740h0M1463.9 744.6h0M1464.9 749.3h0M1464.8 753.8h0M1464.1 759.1h0M1464.8 762.7h0M1464.3 768h0M1465 772.1h0M1464.2 778.4h0M1464.6 783.6h0M1463.9 788.1h0M1464.7 792.6h0M1464.6 797.9h0M1464.2 801.7h0M1464.4 806.2h0M1465.1 810.8h0M1465.2 814.6h0M1465 818.8h0M1464.7 823.1h0M1463.9 827.7h0M1464.9 833.6h0M1464.9 837.9h0M1465.2 842.8h0M1383.2 847.8h0M1397.1 848h0M1404.3 847.8h0M1411.3 848.8h0M1415.6 847.8h0M1419.6 847.6h0M1425.1 848.2h0M1441 848.1h0M1456.8 848.3h0M1463 847.6h0M1465 567.4h0M1465.3 569.5h0M1464.9 572.1h0M1465.4 574.5h0M1465 576.9h0M1465 580.1h0M1464.8 582.6h0M1465.3 585.4h0M1465 587.9h0M1465.4 590.2h0M1465.4 592.7h0M1465.3 595.2h0M1464.8 597.2h0M1465.3 600.4h0M1465.1 603.2h0M1464.8 605.7h0M1465.2 607.9h0M1464.9 610.8h0M1464.7 613.5h0M1464.8 616.3h0M1464.9 618.9h0M1464.7 621.6h0M1465.2 624.1h0M1464.9 626.3h0M1465.1 629.1h0M1465.4 631.8h0M1464.8 634.5h0M1465.4 637.1h0M1465.4 639.7h0M1465 642.2h0M1465.4 645.3h0M1464.7 648.1h0M1390.2 606.3h0M1381 508h0M1389.3 540.7h0M1420.5 548.7h0M1389.3 570.2h0M1389.3 574.1h0M1389.3 591h0M1406.7 585.8h0M1412.7 581.9h0M1420.5 601.9h0M1434.2 596.2h0M1442 601.4h0M1433.4 622.9h0M1444.6 636.9h0M1460.7 632.5h0" stroke="#0000ff" stroke-width="9.8" stroke-linecap="round" fill="none"/></g>
<g><path d="M1477.5 844.6L1477.5 614.1L1478.5 614.3L1479.5 616.3L1480.5 618.3L1481.5 619.3L1482.5 619.3L1483.5 619.3L1484.5 619.3L1485.5 619.3L1486.5 619.3L1487.5 619.3L1488.5 619.3L1489.5 619.3L1490.5 619.3L1491.5 619.3L1492.5 619.3L1493.5 619.3L1494.5 619.3L1495.5 619.3L1496.5 619.3L1497.5 626.2L1498.5 633.5L1499.5 640.9L1500.5 648.2L1501.5 654.8L1502.5 661.5L1503.5 668.2L1504.5 674.4L1505.5 678.4L1506.5 682.4L1507.5 686.4L1508.5 688.4L1509.5 688.4L1510.5 688.4L1511.5 688.4L1512.5 688.4L1513.5 688.4L1514.5 688.4L1515.5 688.4L1516.5 688.4L1517.5 688.4L1518.5 686.1L1519.5 674.1L1520.5 662.1L1521.5 657.3L1522.5 655.9L1523.5 654.7L1524.5 654.9L1525.5 655.1L1526.5 655.3L1527.5 655.5L1528.5 655.7L1529.5 655.9L1530.5 656.1L1531.5 656.3L1532.5 656.5L1533.5 656.7L1534.5 656.9L1535.5 657.1L1536.5 657.3L1537.5 657.5L1538.5 657.7L1539.5 657.9L1540.5 658.1L1541.5 658.1L1542.5 658.1L1543.5 658.1L1544.5 658.1L1545.5 658.1L1546.5 658.1L1547.5 658.1L1548.5 658.1L1549.5 658.1L1550.5 658.1L1551.5 658L1552.5 657.8L1553.5 657.6L1554.5 657.4L1555.5 657.2L1556.5 657L1557.5 656.8L1558.5 656.6L1558.5 844.6Z" fill="#4682b4" stroke="#4682b4" stroke-width="9.8" stroke-linejoin="round"/><path d="M1556.2 653.3h0M1499.1 635h0M1491.8 616.9h0M1519.6 660.3h0M1549.6 650.3h0M1544.7 653.8h0M1520.6 660.1h0M1493.9 617.8h0M1504.9 662.8h0M1504.7 663.3h0M1483.3 614h0M1487.2 607.5h0M1501.2 641.4h0M1552 656.6h0M1547.9 658h0M1513.1 685.5h0M1500.2 647.1h0M1543.1 654.4h0M1495.9 606.5h0M1552.4 651.5h0M1527.1 653.5h0M1489.1 615.1h0M1515 685.4h0M1514.4 677.1h0M1554.9 647.2h0M1537.8 655.3h0M1497.5 621.9h0M1509.5 677.5h0M1495.1 618.6h0M1507.3 679.5h0M1518.1 674.8h0M1538.5 654.2h0M1548.4 649.1h0M1494.4 610.1h0M1536.8 639.1h0M1510.3 671.7h0M1489.9 593.7h0M1515.7 671.9h0M1541.2 644h0M1536 642.1h0M1543.3 644.7h0M1499.8 626.5h0M1516.5 673h0M1524.3 640.7h0M1512.9 675.4h0M1542.1 643.7h0M1544.7 641.1h0M1526.2 637.3h0M1487.6 598.8h0M1501.1 628.6h0M1541.1 639.5h0M1543.5 642.3h0M1532 628.2h0M1492.8 605.7h0M1510.8 671.8h0M1489.5 605h0M1547.6 642.7h0M1489.5 605.3h0M1524.2 640.9h0M1515.9 671.5h0M1513.1 671.9h0M1476.2 601.1h0M1476 604.6h0M1477.2 608.7h0M1476.5 614.5h0M1477 619.6h0M1476.9 625.5h0M1477 631.2h0M1476.4 636.4h0M1476.6 641h0M1476.4 644.7h0M1477.1 650.3h0M1476.3 655.4h0M1476.2 659.2h0M1477.2 665.3h0M1477.1 669.6h0M1477.1 673.8h0M1476.9 678.8h0M1476.7 683.2h0M1476.2 687.8h0M1477.1 693.5h0M1477.2 697.7h0M1477.1 702.1h0M1476.2 707.7h0M1477 714.2h0M1476.3 717.8h0M1476 722.6h0M1476.8 727.2h0M1476 731h0M1476.7 736h0M1476.3 740.8h0M1476.6 746.8h0M1476.7 750.8h0M1476.7 757h0M1476.5 762.5h0M1476.5 767.4h0M1476.5 771.6h0M1477.1 777.7h0M1476.1 782.3h0M1477.2 788.8h0M1476.4 794.1h0M1476.6 800.2h0M1476.9 804.1h0M1476.3 809.7h0M1476.4 813.8h0M1476.4 819.3h0M1476.7 822.8h0M1476.5 827.3h0M1477.1 831.8h0M1476.9 837.3h0M1476.9 843.2h0M1559.7 643.6h0M1559.6 647.5h0M1559.9 651.2h0M1559.6 654.7h0M1558.9 659.3h0M1559.3 664h0M1558.8 668.8h0M1559 673.8h0M1559.2 680.2h0M1558.9 685h0M1559.1 691.5h0M1559.7 696.9h0M1559.6 701.6h0M1558.8 705.9h0M1559.2 709.5h0M1558.9 715.7h0M1559.6 720.5h0M1558.9 724.8h0M1559.2 729.9h0M1559.8 736.2h0M1559.4 740.4h0M1558.7 745.1h0M1559.8 750h0M1559.4 754.4h0M1558.7 760h0M1558.8 766.3h0M1559.6 770.7h0M1559.1 774.3h0M1559.3 778.1h0M1558.8 781.7h0M1558.8 785.8h0M1558.9 789.6h0M1558.8 794.7h0M1559.2 800.6h0M1559 804.9h0M1558.7 810.9h0M1558.8 816.6h0M1559.2 823h0M1559.8 828.3h0M1558.7 832.1h0M1559.4 837.6h0M1559 843.3h0M1477.5 848.1h0M1482.6 847.9h0M1498 847.6h0M1504 848.4h0M1509.5 848.7h0M1530 848.6h0M1536.4 848.8h0M1549.2 848.6h0M1553.9 848.3h0M1477.6 545.6h0M1480.2 546.9h0M1477.6 565h0M1477.6 571.5h0M1477.6 580.6h0M1552.1 550.8h0M1494.5 586.6h0M1552.1 583.2h0M1552.1 588.4h0M1552.1 594.9h0M1552.1 604h0M1524.1 592.3h0M1524.1 606.6h0M1524.1 616.9h0M1537.3 621.3h0M1559.9 615.6h0M1519.7 629.9h0M1494.5 598.8h0M1552.1 611.7h0M1552.1 619.5h0M1552.1 627.3h0" stroke="#4682b4" stroke-width="9.8" stroke-linecap="round" fill="none"/></g>
<g><path d="M1582.3 844.6L1582.3 668.6L1583.3 668.6L1584.3 668.6L1585.3 668.6L1586.3 668.6L1587.3 668.6L1588.3 671.4L1589.3 674.4L1590.3 677.4L1591.3 680.4L1592.3 683.4L1593.3 683.4L1594.3 683.4L1595.3 683.4L1596.3 683.4L1597.3 683.4L1598.3 683.4L1599.3 683.4L1600.3 683.4L1601.3 683.4L1602.3 683.4L1603.3 679L1604.3 672.4L1605.3 665.7L1606.3 659L1607.3 657.9L1608.3 657.5L1609.3 657.1L1610.3 656.8L1611.3 656.4L1612.3 656L1613.3 655.7L1614.3 655.3L1615.3 655L1616.3 654.6L1617.3 654.2L1618.3 653.9L1619.3 653.5L1620.3 653.1L1621.3 651.5L1622.3 649L1623.3 647.8L1624.3 647.8L1625.3 647.8L1626.3 647.8L1627.3 647.8L1628.3 647.8L1629.3 647.8L1630.3 647.8L1631.3 647.8L1632.3 647.6L1633.3 647.4L1634.3 647.2L1635.3 647L1636.3 646.8L1637.3 646.6L1638.3 646.4L1639.3 646.2L1639.3 844.6Z" fill="#0000ff" stroke="#0000ff" stroke-width="9.8" stroke-linejoin="round"/><path d="M1621.5 627.2h0M1620.9 630.3h0M1621 633.3h0M1621.7 636h0M1584.7 657.2h0M1637 638.1h0M1606.5 650.3h0M1621.9 646.6h0M1619.3 645.1h0M1614.7 648.3h0M1593 682.7h0M1637.3 643.4h0M1638.8 638.8h0M1630.1 637.1h0M1624.6 643.8h0M1635.8 644.5h0M1632.4 637.3h0M1627.1 640.4h0M1600.1 674.6h0M1627.8 645.6h0M1630.4 643.1h0M1592 670.1h0M1614.6 644.1h0M1601.4 670.8h0M1591.1 676.5h0M1595 681.3h0M1601 681.3h0M1599.5 668.9h0M1604.8 656h0M1607.1 642.5h0M1583 645.7h0M1603.6 662.7h0M1637 632.4h0M1596.7 670.3h0M1587.9 650.7h0M1615.4 638.4h0M1596.3 668.7h0M1637.6 631.1h0M1638.7 622.4h0M1589.4 652h0M1583.5 649.3h0M1628.4 628.8h0M1613.6 634.1h0M1591.1 663.5h0M1597.4 667.9h0M1593.2 664.3h0M1581.3 655.6h0M1581.2 661.4h0M1580.9 666.7h0M1581.3 672.6h0M1580.9 677.1h0M1581.9 681.7h0M1581.1 686.2h0M1581.2 692.5h0M1580.8 698h0M1581.5 703.8h0M1581.1 708.7h0M1581.9 713.2h0M1581 718.5h0M1581.2 722.8h0M1581.9 729h0M1581.4 732.9h0M1580.8 737.4h0M1581.5 743.9h0M1581.2 749.7h0M1580.8 753.8h0M1582 757.8h0M1582 762.6h0M1581.5 767.6h0M1581.5 773.9h0M1581 780h0M1581.8 785.2h0M1581.4 789.7h0M1581.2 794.3h0M1581.6 799.4h0M1580.8 804.7h0M1581.6 808.8h0M1581.9 812.3h0M1581.5 816h0M1581.2 822h0M1581 828.4h0M1581.3 833.7h0M1581.6 837.2h0M1581.3 841.5h0M1640.2 633.2h0M1640.1 637.8h0M1639.6 642.5h0M1640.5 648.2h0M1639.6 653.5h0M1640.6 658.8h0M1640.4 665.2h0M1640.6 668.9h0M1639.8 674.4h0M1640.5 680.6h0M1639.8 686.8h0M1640 692h0M1640.4 696.4h0M1639.9 701.8h0M1640.7 706.9h0M1640.6 712.1h0M1640.7 717.3h0M1640.1 720.9h0M1640.4 726.1h0M1640.3 732.5h0M1640.3 737.4h0M1640.4 742.5h0M1639.5 748.8h0M1640.6 753.3h0M1640.5 757h0M1640.3 760.6h0M1639.8 766.5h0M1639.8 771.1h0M1640.1 776.7h0M1639.9 782h0M1640.7 787.3h0M1640.7 793.1h0M1640.1 797.4h0M1639.9 802h0M1639.7 808h0M1640.5 813.1h0M1639.5 819.4h0M1640.1 823.7h0M1639.7 830.1h0M1640 836.1h0M1640.7 841.2h0M1582.3 847.7h0M1586.8 848.4h0M1593.1 848.5h0M1599.1 848.6h0M1606.4 848.7h0M1613.7 847.5h0M1604.8 546.1h0M1604.8 564h0M1636.4 585h0M1622.1 604.5h0M1606.6 614.3h0M1640.8 615.6h0M1640.8 620.8h0M1596.2 620h0M1596.2 623.9h0M1581.9 639h0M1604.8 629.9h0M1619.5 623.4h0" stroke="#0000ff" stroke-width="9.8" stroke-linecap="round" fill="none"/></g>
<g><path d="M1663.5 844.6L1663.5 653L1664.5 653L1665.5 653L1666.5 653L1667.5 653L1668.5 653L1669.5 653L1670.5 653L1671.5 653.4L1672.5 653.8L1673.5 654.2L1674.5 654.6L1675.5 655L1676.5 655.4L1677.5 655.8L1678.5 656.2L1679.5 656.6L1680.5 657L1681.5 657.4L1682.5 657.8L1683.5 658.3L1684.5 658.7L1685.5 659.1L1686.5 659.6L1687.5 660L1688.5 660.5L1689.5 660.9L1690.5 661.4L1691.5 661.8L1692.5 662.3L1693.5 662.7L1694.5 663.1L1695.5 663.4L1696.5 663.4L1697.5 663.4L1698.5 663.4L1699.5 663.4L1700.5 663.4L1701.5 663.4L1702.5 663.4L1703.5 663.4L1704.5 663.4L1705.5 662.8L1706.5 661.7L1707.5 660.5L1708.5 659.4L1709.5 658.2L1710.5 657.1L1711.5 655.9L1712.5 654.8L1713.5 653.7L1714.5 653L1715.5 653L1715.5 844.6Z" fill="#4682b4" stroke="#4682b4" stroke-width="9.8" stroke-linejoin="round"/><path d="M1714.7 643.6h0M1706.8 660h0M1679.8 652.4h0M1699 661.2h0M1692.9 652.3h0M1676.5 649h0M1670.5 651.1h0M1709.7 647.6h0M1699.7 658.8h0M1669.8 649.9h0M1703.3 653.7h0M1668.6 642.9h0M1703.6 655.9h0M1705.9 650.5h0M1669 643.9h0M1709.2 646.5h0M1667.3 649.5h0M1668.2 648.3h0M1667.8 642.4h0M1698 661.6h0M1684.7 651.2h0M1665.1 637.9h0M1676 634.5h0M1700.6 642.7h0M1691.1 642.6h0M1670.1 637.6h0M1678.7 641.6h0M1701.9 649.2h0M1680.4 642.4h0M1708.4 641.3h0M1688.5 645.1h0M1711.4 628.9h0M1686.8 642.6h0M1708.3 644.9h0M1676.9 642.1h0M1689.6 640.6h0M1671.6 637.6h0M1715 636.7h0M1662.8 640h0M1662.1 646h0M1663.1 650.6h0M1662.3 656h0M1662.4 662.3h0M1662.6 666.7h0M1662.7 671.1h0M1662.1 676h0M1662.1 682.2h0M1662 687.2h0M1662.1 691.1h0M1662.1 696.5h0M1662 701.2h0M1662.2 704.8h0M1662.8 710.8h0M1663 716.8h0M1662.7 722.5h0M1663 727.2h0M1662.3 733.1h0M1662 736.9h0M1662.8 741.1h0M1662.5 745.8h0M1662 752h0M1662.8 757.4h0M1663.2 761.2h0M1662.5 766.3h0M1662 771.1h0M1662.8 775.9h0M1663 780.6h0M1662.5 786.9h0M1662.7 792.1h0M1662.8 796.3h0M1662.7 801.3h0M1662.5 807.7h0M1663.2 811.8h0M1662.8 815.8h0M1662.1 821.7h0M1662.2 825.9h0M1662.6 830.7h0M1663.2 835.8h0M1662.4 839.5h0M1716.2 640h0M1716.7 646.2h0M1715.7 650.7h0M1716.5 655.8h0M1715.7 660h0M1715.7 664.9h0M1716.5 670.7h0M1716.2 675h0M1715.9 679.2h0M1716.7 683.2h0M1716.6 688.1h0M1716.7 692.6h0M1716.5 697.9h0M1716.4 702.6h0M1716.9 706.7h0M1716.4 712.2h0M1715.8 717.6h0M1716 722.1h0M1715.7 728.1h0M1716.8 733h0M1716.6 738.8h0M1716 743.2h0M1716 748.8h0M1716.1 754.5h0M1716.4 760.3h0M1716.9 766.2h0M1716.9 770.9h0M1716.8 774.4h0M1716.4 778h0M1716.7 782.7h0M1715.9 787.1h0M1716.4 793h0M1716.3 798.7h0M1716.7 802.3h0M1716.3 806.5h0M1716 810h0M1716.7 815.5h0M1716.2 820.9h0M1716.5 826.6h0M1716.4 830.7h0M1716.6 836h0M1716.1 840.1h0M1663.5 848h0M1670.4 847.7h0M1677.3 848.5h0M1681.9 847.8h0M1688 848.6h0M1695.7 848.5h0M1702.5 847.8h0M1714.3 847.9h0M1681 598.5h0M1680.6 601.6h0M1680.8 604.6h0M1681.4 606.6h0M1680.7 608.9h0M1680.9 611h0M1680.7 613.2h0M1681.1 615.5h0M1680.8 618h0M1681.3 620.7h0M1680.9 623.5h0M1681.3 626.6h0M1681 629.3h0M1680.7 631.7h0M1681.1 634.8h0M1681.5 636.9h0M1680.6 639.9h0M1680.8 642.8h0M1695.1 614h0M1694.8 616.5h0M1694.5 619.3h0M1694.7 622h0M1694.5 625.2h0M1694.3 628h0M1694.4 630.4h0M1694.8 632.6h0M1695.1 634.8h0M1694.9 636.9h0M1694.4 639.9h0M1695 642.2h0M1695.2 644.7h0M1694.7 647.1h0M1694.6 650.3h0M1694.8 542.5h0M1712.2 558.3h0M1664.4 585.8h0M1664.4 600.3h0M1708.3 588.4h0M1709 608.1h0M1703.9 624.2h0M1712.9 635.1h0M1716.8 654.5h0M1680.5 591h0" stroke="#4682b4" stroke-width="9.8" stroke-linecap="round" fill="none"/></g>
<g><path d="M1737.4 844.6L1737.4 676L1738.4 677L1739.4 678L1740.4 679L1741.4 680L1742.4 681L1743.4 681.5L1744.4 681.5L1745.4 681.5L1746.4 681.5L1747.4 681.5L1748.4 681.5L1749.4 681.5L1750.4 681.5L1751.4 681.5L1752.4 681.5L1753.4 680.9L1754.4 680.9L1755.4 680.9L1756.4 680.9L1757.4 680.9L1758.4 680.9L1759.4 680.9L1760.4 680.9L1761.4 680.9L1762.4 680.9L1763.4 680.9L1764.4 670.9L1765.4 660.9L1766.4 663L1767.4 663L1768.4 663L1769.4 663L1770.4 663L1771.4 663L1772.4 663L1773.4 663L1774.4 663L1775.4 663L1776.4 663L1777.4 659L1778.4 655L1779.4 651L1780.4 647.8L1781.4 647.8L1782.4 647.8L1783.4 647.8L1784.4 647.8L1785.4 647.8L1786.4 647.8L1787.4 647.8L1787.4 844.6Z" fill="#0000ff" stroke="#0000ff" stroke-width="9.8" stroke-linejoin="round"/><path d="M1737.8 655.6h0M1737.4 658h0M1736.8 661.3h0M1753.5 656.2h0M1753.3 659.3h0M1753.8 661.6h0M1753.5 663.9h0M1752.9 667h0M1765.5 629.6h0M1765 632.7h0M1765.5 636h0M1765.6 639.2h0M1765.4 642.4h0M1765 645.2h0M1741.4 678h0M1771.3 655h0M1786.1 647.1h0M1785.2 635h0M1772.6 659.2h0M1767.7 649.2h0M1783.6 639.9h0M1767.1 660.4h0M1751.2 667.9h0M1783.6 637.6h0M1739.5 665.9h0M1787.1 644.2h0M1747.9 669.5h0M1782.3 643.1h0M1766.5 650.9h0M1758.1 680.2h0M1737.6 667.8h0M1740.2 678.9h0M1742.6 680.3h0M1779.5 647.3h0M1739.5 673.7h0M1762 664.6h0M1744.7 664.9h0M1777.5 645.3h0M1781.2 632.1h0M1750.7 667.1h0M1760.4 662.7h0M1765.9 636h0M1763 664.4h0M1786.8 633.6h0M1738.2 662h0M1753.1 667.8h0M1758.3 667.8h0M1783.4 631.5h0M1781.3 628.8h0M1773.9 642.9h0M1752.5 661.9h0M1736.9 663h0M1736.4 668.1h0M1737 674h0M1736.1 678.5h0M1735.9 684.4h0M1736.9 688.3h0M1736.3 692.1h0M1736.4 697.8h0M1736.5 703.6h0M1736 708.8h0M1736.3 714.3h0M1736.6 719.5h0M1736.5 725.3h0M1736.6 729.2h0M1736.6 734h0M1736.7 739.1h0M1736.6 743.8h0M1735.9 748.4h0M1737.2 752.2h0M1736.7 757.9h0M1736.4 762.7h0M1736.9 767.3h0M1736.1 770.9h0M1736.8 777.2h0M1736.8 782.1h0M1736 785.8h0M1736.9 791.8h0M1736.3 796h0M1736.6 801.9h0M1736.9 806.6h0M1736.1 812.5h0M1737 818.5h0M1735.9 823.8h0M1736.6 829.5h0M1737.1 833.4h0M1737.1 839.1h0M1788.5 634.8h0M1788.8 639.7h0M1788.4 646h0M1788.4 649.8h0M1787.9 654.6h0M1788.5 660.9h0M1787.9 664.7h0M1788.3 669.3h0M1788.2 673.7h0M1787.8 679.7h0M1788 685.3h0M1788.8 691.7h0M1788.4 696.2h0M1788.1 700h0M1788.4 705.4h0M1787.6 709.9h0M1788.3 713.8h0M1788 717.8h0M1788.8 723.1h0M1787.9 728.2h0M1788 733.4h0M1787.8 739.3h0M1788.2 743.6h0M1787.8 749.8h0M1787.8 753.9h0M1788 758h0M1788.6 762.7h0M1788.2 767.4h0M1788.6 772.1h0M1788.1 778.3h0M1787.9 784.6h0M1788.3 791h0M1788.1 796.5h0M1787.8 800.9h0M1788.1 807h0M1788.2 812.6h0M1787.9 817.7h0M1788 821.7h0M1788.3 827.3h0M1788.5 830.8h0M1787.7 835.6h0M1787.9 839.8h0M1737.4 847.9h0M1742.4 847.9h0M1766.9 847.7h0M1772 848.6h0M1778.3 847.8h0M1739.2 564.8h0M1739.4 567.9h0M1739.3 571h0M1739.5 573.7h0M1739.5 576.8h0M1739.4 578.9h0M1740.1 581.9h0M1739.8 584.7h0M1739.4 587h0M1740.1 589.1h0M1739.8 591.2h0M1739.3 593.6h0M1740.1 596.1h0M1739.3 598.4h0M1739.8 601.2h0M1739.3 603.8h0M1739.3 606.8h0M1739.4 609h0M1739.6 611.6h0M1739.9 614.3h0M1739.6 617.4h0M1740 619.4h0M1739.5 621.4h0M1739.8 623.6h0M1739.3 626.6h0M1740 628.9h0M1739.3 631.7h0M1740 634.6h0M1739.3 637.1h0M1739.5 639.8h0M1739.3 642h0M1739.3 644.5h0M1739.7 646.9h0M1739.6 649.6h0M1739.2 652.6h0M1740.1 655h0M1740.1 658h0M1739.7 660.9h0M1739.7 663.9h0M1787.7 558.3h0M1788.3 560.4h0M1787.8 562.8h0M1787.5 565.4h0M1788.2 568.3h0M1788.3 571.2h0M1787.6 573.6h0M1788.1 576.5h0M1787.8 579h0M1788.2 581.1h0M1788.2 583.7h0M1787.7 586.1h0M1788.2 588.7h0M1787.8 591.8h0M1787.8 594.6h0M1788.2 597.6h0M1787.8 600.3h0M1788.3 602.6h0M1787.7 605.6h0M1787.6 607.7h0M1787.5 610.9h0M1787.9 613.8h0M1788 616.5h0M1788 619h0M1788.3 621.1h0M1787.6 623.2h0M1788.1 626h0M1788.1 629h0M1787.5 632.1h0M1787.6 634.1h0M1745.4 575.4h0M1766.6 584h0M1766.1 602.7h0M1771.3 605.3h0M1760.9 613h0M1776 620.8h0M1751.9 627.8h0M1756.3 638.2h0M1764.8 628.6h0M1752.4 654.5h0M1787.9 572.8h0" stroke="#0000ff" stroke-width="9.8" stroke-linecap="round" fill="none"/></g>
<g><path d="M1799.3 844.6L1799.3 638.5L1800.3 638.5L1801.3 638.5L1802.3 638.5L1803.3 638.5L1804.3 638.5L1805.3 638.5L1806.3 638.5L1807.3 638.5L1808.3 638.5L1809.3 637.3L1810.3 647.3L1811.3 654.5L1812.3 654.5L1813.3 654.5L1814.3 654.5L1815.3 654.5L1816.3 654.5L1816.3 844.6Z" fill="#4682b4" stroke="#4682b4" stroke-width="9.8" stroke-linejoin="round"/><path d="M1808.5 607.3h0M1809.4 610.1h0M1809.1 612.5h0M1809.4 615.8h0M1809 618.5h0M1809.7 621h0M1809.3 624.2h0M1811.7 647.3h0M1812.9 645.6h0M1814.3 650.1h0M1806.9 632.3h0M1813 647.9h0M1815.6 640.6h0M1814.5 650.5h0M1807.6 616h0M1801.8 623.4h0M1811.4 632.8h0M1805.6 603.5h0M1810.3 634.1h0M1798.9 625.5h0M1798.3 629.2h0M1798.7 633.7h0M1799 638.5h0M1798 644.7h0M1798.5 649.9h0M1798.3 654.3h0M1797.8 658.9h0M1798.1 665.2h0M1799 671.2h0M1798.6 675.1h0M1798.5 679h0M1798 685.4h0M1798.8 691.8h0M1799.1 696h0M1799 700.3h0M1798.7 705.4h0M1798.4 710.9h0M1798.7 716.2h0M1798.2 721.9h0M1798.5 727.5h0M1798.7 732.4h0M1798.5 736.1h0M1798.8 741.4h0M1797.9 747.5h0M1798 753.5h0M1798.9 758.5h0M1798.1 762.8h0M1798.9 769.3h0M1798.6 772.8h0M1798.3 777.3h0M1798 781.2h0M1797.9 785.7h0M1798.7 790.2h0M1797.8 794.2h0M1798 799.5h0M1798.4 803.2h0M1797.8 808.9h0M1799 815.2h0M1797.8 819.8h0M1797.8 824.9h0M1799.1 829.2h0M1798.7 835.5h0M1798.6 840.7h0M1817.7 641.5h0M1817.6 647.8h0M1817.6 652.1h0M1817 655.6h0M1816.8 662h0M1817.2 666.6h0M1817.4 670.8h0M1816.6 676.2h0M1816.6 682.5h0M1816.9 688.1h0M1816.6 692h0M1817.5 698.5h0M1817.5 703.4h0M1817.7 709.8h0M1816.8 714.9h0M1817.8 720h0M1817.4 725.6h0M1817 731.7h0M1817.6 736.8h0M1817.6 740.9h0M1817.2 744.5h0M1816.7 749.7h0M1817.1 756h0M1817 760.1h0M1817 765.3h0M1816.6 768.8h0M1816.7 774.5h0M1817.5 778.8h0M1817.6 784.8h0M1816.5 788.9h0M1817.3 794.6h0M1816.5 799.2h0M1816.8 804h0M1817.8 809.3h0M1816.6 813.4h0M1816.6 819h0M1817.1 823.2h0M1816.9 829.6h0M1817.1 834.1h0M1817 838.1h0M1816.9 843.7h0M1799.3 847.6h0M1805.8 848.7h0M1801.1 511.3h0M1811.4 602.7h0M1806.9 609.1h0" stroke="#4682b4" stroke-width="9.8" stroke-linecap="round" fill="none"/></g>
<g><path d="M1827.9 844.6L1827.9 640.8L1828.9 640.8L1829.9 642.8L1830.9 646.3L1831.9 649.8L1832.9 653.3L1833.9 656.8L1834.9 656.8L1835.9 656.8L1836.9 656.8L1837.9 656.8L1838.9 656.8L1839.9 656.8L1840.9 656.8L1841.9 656.8L1842.9 656.8L1843.9 656.8L1844.9 639.8L1845.9 622.8L1846.9 616.8L1847.9 615.2L1848.9 613.6L1849.9 612L1850.9 610.4L1851.4 609.6L1851.4 844.6Z" fill="#4682b4" stroke="#4682b4" stroke-width="9.8" stroke-linejoin="round"/><path d="M1836.6 644.6h0M1842.2 653.4h0M1839 649.4h0M1844 651.3h0M1837.8 645.4h0M1838.8 650.5h0M1848.9 613.5h0M1840.9 647.4h0M1833.1 648.1h0M1845.2 616.8h0M1844.1 621.8h0M1837.1 629.8h0M1838.1 638.5h0M1848.2 600.2h0M1836 623h0M1829.4 626.2h0M1827 627.8h0M1826.8 633.5h0M1826.8 639.8h0M1827.6 643.3h0M1827.1 646.9h0M1827 650.5h0M1827.4 655.9h0M1827.1 661.9h0M1827.2 668.3h0M1827 673.7h0M1826.6 678h0M1827.3 681.5h0M1826.5 685.9h0M1827.6 690.9h0M1826.9 695.3h0M1827.5 701.3h0M1827.1 707.1h0M1827.1 712.2h0M1826.4 717h0M1826.5 723.3h0M1826.7 729h0M1827.6 732.9h0M1826.8 738.9h0M1827.3 744.3h0M1826.5 748.6h0M1827.6 753.7h0M1827.2 758.2h0M1826.4 761.9h0M1826.6 768.1h0M1827.1 771.6h0M1826.7 775.4h0M1826.6 781.4h0M1827.5 787.3h0M1827.5 790.8h0M1826.6 796.8h0M1827.4 801.9h0M1827.5 807.9h0M1827.7 812.4h0M1827.1 818.9h0M1826.6 824.7h0M1826.4 829.9h0M1826.5 835.7h0M1827.6 842.1h0M1851.9 596.6h0M1852 601h0M1851.6 607.5h0M1851.7 612.3h0M1852.2 618.8h0M1852.2 624.4h0M1852 630.2h0M1852.5 634.9h0M1852.7 640.5h0M1852.7 645h0M1852.3 650.7h0M1852.3 655.4h0M1851.7 659.1h0M1851.7 663.6h0M1852.5 667.2h0M1852.4 672.9h0M1852.5 677h0M1852.4 683h0M1852.3 687.2h0M1851.9 691.9h0M1852.7 695.8h0M1852.8 701.2h0M1851.9 705.2h0M1851.6 710.3h0M1852.3 714.7h0M1852.7 719.6h0M1852.4 724.9h0M1852.6 730.1h0M1851.6 734.7h0M1852.6 741.1h0M1851.7 745h0M1852.4 749.2h0M1851.6 753.1h0M1851.6 758.1h0M1852.1 762.3h0M1851.6 766.5h0M1851.9 770.7h0M1852.1 775.2h0M1852 779.8h0M1852.6 783.4h0M1852.2 789.1h0M1851.9 792.6h0M1852.2 798.8h0M1852.6 802.9h0M1851.7 809.1h0M1852.3 814.1h0M1852 817.9h0M1852.4 823.3h0M1852.4 828.7h0M1851.6 833.3h0M1852.6 836.8h0M1852.7 842.9h0M1832.5 847.8h0M1847.3 848.7h0M1852.2 572.9h0M1851.8 575.7h0M1851.7 578.2h0M1851.8 581.1h0M1851.9 583.3h0M1852.3 586.1h0M1852.5 588.7h0M1851.8 591.6h0M1851.8 594.2h0M1851.8 596.5h0M1852.1 497.6h0M1852.1 518.2h0M1852.1 546.3h0M1852.1 549.7h0M1827.4 595.4h0M1834.3 592h0M1844.6 589.7h0M1832 622.9h0" stroke="#4682b4" stroke-width="9.8" stroke-linecap="round" fill="none"/></g>
<g><path d="M1861 844.6L1861 643L1862 643L1863 653.9L1864 672.9L1865 688L1866 693.3L1867 698.7L1868 704L1869 704L1870 704L1871 704L1872 704L1873 704L1874 704L1875 704L1876 704L1877 704L1878 704L1879 677.3L1880 645.3L1881 627.9L1882 621.4L1883 614.9L1884 608.4L1885 603.7L1886 603.9L1887 604.1L1888 624.8L1889 659.5L1890 661.1L1891 662.7L1892 664.3L1893 665.9L1894 667.5L1895 667.8L1896 667.8L1897 667.8L1898 667.8L1899 667.8L1900 667.8L1901 667.8L1902 667.8L1903 667.8L1904 667.8L1905 665.3L1906 660.3L1907 659L1907.5 659L1907.5 844.6Z" fill="#0000ff" stroke="#0000ff" stroke-width="9.8" stroke-linejoin="round"/><path d="M1877.3 702.4h0M1891.5 650.7h0M1871.2 698.3h0M1885.6 590.2h0M1865.4 684.6h0M1889 646.6h0M1896.9 657.2h0M1888.4 642.2h0M1876.8 703.2h0M1879.4 653.3h0M1886.1 601.7h0M1906.9 655.8h0M1886 599.9h0M1890.7 661.3h0M1906.1 657h0M1871.1 698h0M1881.4 613.9h0M1897.3 656.9h0M1894 660.4h0M1880.9 608.8h0M1894.7 632.8h0M1907.4 638h0M1873.3 685.5h0M1884 581.3h0M1881.8 606.2h0M1862.2 626.9h0M1885.8 589.1h0M1865.9 677h0M1864.3 668.5h0M1881.6 609.5h0M1884.3 588.4h0M1879.1 663.6h0M1861.9 625.9h0M1906.1 645.7h0M1860.3 630h0M1859.8 634.5h0M1859.8 639.5h0M1860.6 643h0M1860.3 647.1h0M1860.3 651.8h0M1860.2 658.2h0M1859.5 663.4h0M1860 668.9h0M1860.4 674.8h0M1859.6 678.5h0M1860 683.6h0M1859.8 687.3h0M1860 691.9h0M1859.6 696.2h0M1860.4 700.8h0M1860.5 707h0M1860.2 711.3h0M1860.6 717.8h0M1859.8 721.9h0M1860.3 725.6h0M1859.9 731.5h0M1860.6 737.4h0M1860.3 743.5h0M1860.2 749.5h0M1860.2 755.6h0M1860.6 759.9h0M1860.7 764.9h0M1859.7 768.9h0M1859.7 774.1h0M1860.2 778.1h0M1860.7 783h0M1859.6 787.3h0M1860.1 792.9h0M1859.7 798.3h0M1860 804.6h0M1859.7 808.3h0M1860.5 812.3h0M1860.1 816.2h0M1860.2 821.4h0M1860.6 826.3h0M1860.1 832h0M1859.7 836.4h0M1859.6 842.7h0M1907.8 646h0M1908.3 650.7h0M1908.7 655h0M1907.9 661.2h0M1909 666.2h0M1908.3 672.4h0M1908.3 676.2h0M1908.7 681.2h0M1908.1 685.3h0M1907.7 691.8h0M1907.8 697.1h0M1908.3 702.8h0M1908 709.1h0M1908 715.3h0M1907.8 718.9h0M1908.2 722.6h0M1908.2 729h0M1907.7 734.7h0M1908.4 739.7h0M1908.5 743.5h0M1908.1 748.4h0M1908.6 754.4h0M1907.8 758.2h0M1908 761.9h0M1909 767.3h0M1908.8 773.7h0M1908.7 777.6h0M1908.3 783.4h0M1908.5 789.8h0M1908 793.7h0M1908.5 797.6h0M1908.8 803h0M1907.7 806.5h0M1908 812.9h0M1908.8 817.2h0M1908.7 821h0M1908.4 827.2h0M1907.7 832.5h0M1908.5 837.9h0M1908.4 843.7h0M1861 848.3h0M1865.3 847.8h0M1872.5 848h0M1880.4 847.8h0M1892.1 848.3h0M1904.8 847.9h0M1887.5 484.2h0M1887.3 486.2h0M1887.4 488.6h0M1887.3 491.6h0M1887.1 494.4h0M1887.3 496.7h0M1887 499.3h0M1887.3 502.2h0M1887.1 504.6h0M1887.7 507.7h0M1887.1 510.8h0M1887.4 512.9h0M1887.7 514.9h0M1887.2 517.7h0M1887.5 520.2h0M1887.2 522.4h0M1887.5 525.4h0M1886.9 528.1h0M1887.1 530.3h0M1887.5 532.4h0M1887.7 535.1h0M1887.7 537.7h0M1887.3 540.3h0M1887.3 542.6h0M1887.3 545.8h0M1887.2 547.8h0M1887.4 550h0M1887.3 552.6h0M1887.6 555.7h0M1886.8 557.8h0M1887.4 560.7h0M1887.3 563.4h0M1887.3 565.5h0M1887.4 568.5h0M1886.9 570.5h0M1887.4 573.6h0M1887.5 575.8h0M1887.7 578.9h0M1887.6 581.7h0M1887.3 583.8h0M1887.2 586.8h0M1887.7 589h0M1905.3 639.2h0M1905.9 641.3h0M1905.9 644.4h0M1867.9 565.7h0M1881.6 513.6h0M1881.6 533.7h0M1881.6 538.3h0M1862.9 626.3h0M1868.6 648h0M1869.7 659.4h0M1894.9 648h0" stroke="#0000ff" stroke-width="9.8" stroke-linecap="round" fill="none"/></g>
<g><path d="M1917.7 844.6L1917.7 660L1918.7 662.5L1919.7 665L1920.7 667.5L1921.7 670L1922.7 670L1923.7 670L1924.7 670L1925.7 670L1926.7 670L1927.7 670L1928.7 670L1929.7 670L1930.7 670L1931.7 670L1932.7 664.3L1933.7 656.8L1934.7 649.3L1935.7 641.8L1936.7 638.4L1937.7 638.4L1938.7 638.4L1939.7 638.4L1940.7 638.4L1941.7 638.2L1942.7 637.8L1943.7 637.4L1944.7 637L1945.7 638L1946.7 639.2L1947.7 640.5L1948.7 641.7L1949.7 643L1950.7 644.2L1951.7 645.3L1952.7 645.3L1953.7 645.3L1954.7 645.3L1955.7 645.3L1956.7 645.3L1957.7 645.3L1958.7 645.3L1959.7 645.3L1960.7 645.3L1961.7 645.3L1961.7 844.6Z" fill="#4682b4" stroke="#4682b4" stroke-width="9.8" stroke-linejoin="round"/><path d="M1931.1 623.3h0M1931.2 626.2h0M1931.2 628.8h0M1931.1 631.6h0M1931.9 634.5h0M1932.1 637.8h0M1932.2 640.1h0M1932.3 643h0M1931.1 645.8h0M1931.2 648.8h0M1931.7 652.2h0M1931.7 655.5h0M1946.9 621h0M1946.6 624h0M1936.2 634.4h0M1927.7 658.3h0M1939 633.6h0M1920.6 657.3h0M1960.4 635.1h0M1951.6 635.6h0M1921.5 662.9h0M1955.9 642.2h0M1919.8 660.9h0M1945 630.1h0M1946.9 632.5h0M1925.7 665.8h0M1923.4 660.4h0M1955.2 639.3h0M1940.2 634.3h0M1939.4 629.8h0M1942 624.3h0M1933.2 647.1h0M1961.5 620.4h0M1946.5 625.4h0M1955.3 630.7h0M1953.1 627.1h0M1944.3 617.4h0M1929.5 648.1h0M1941.6 618.1h0M1954.6 630.9h0M1935.8 626.5h0M1921.1 645.4h0M1947.9 624.1h0M1941.7 614.6h0M1920.8 652.3h0M1947.9 623.6h0M1916.8 647h0M1917.2 651.3h0M1917 656.8h0M1916.3 663.1h0M1917.1 669.6h0M1917.4 674.6h0M1917.4 679.2h0M1916.2 684.2h0M1917 690h0M1916.3 694.3h0M1916.4 698h0M1917.4 704h0M1916.6 710.4h0M1916.9 715h0M1916.8 720.4h0M1916.3 726.5h0M1917.5 730.9h0M1916.6 736.8h0M1917.4 742.3h0M1916.3 746h0M1916.9 750.6h0M1917.2 757h0M1917.4 762.4h0M1916.5 767.6h0M1916.5 771.6h0M1916.4 778h0M1916.3 783.8h0M1916.8 789.5h0M1916.4 795.5h0M1916.6 800.8h0M1917 804.9h0M1916.4 809.4h0M1917.1 815.2h0M1917.4 821.7h0M1917.1 825.4h0M1916.3 829.1h0M1917 833.7h0M1916.8 839.7h0M1962.5 632.3h0M1963.1 637.2h0M1962.6 641.5h0M1962.1 646.5h0M1962.5 650.4h0M1962.4 656.3h0M1963.1 660h0M1963 663.9h0M1962.7 667.5h0M1962.2 671.5h0M1962.9 676.2h0M1962.4 681h0M1962.6 685.8h0M1963.1 690.1h0M1962.1 694.2h0M1962.3 699.3h0M1961.9 705h0M1962.4 710.5h0M1962.3 716.8h0M1962.3 721.6h0M1962.3 726.7h0M1962.4 732.2h0M1962.3 737.8h0M1962.6 742.7h0M1962.7 748.3h0M1962 753.1h0M1962.1 757h0M1962.1 761h0M1962.3 766.5h0M1962.2 772.7h0M1962.1 777h0M1962.8 780.9h0M1962.2 786.1h0M1962.8 792.1h0M1962.7 796.9h0M1962.5 802.3h0M1962.4 806.1h0M1962.4 812.4h0M1962 817.9h0M1963 823.7h0M1962.4 828.3h0M1962.2 833.3h0M1962.1 837.5h0M1962.5 843h0M1932.5 847.7h0M1952.6 847.7h0M1958.8 847.7h0M1916 547.8h0M1915.7 550.8h0M1915.7 553.5h0M1915.6 556.5h0M1915.9 559.3h0M1915.5 561.7h0M1915.9 564.2h0M1915.6 567.2h0M1915.7 569.5h0M1915.6 572.4h0M1915.4 575.2h0M1916.1 577.3h0M1915.5 579.9h0M1916.3 582.4h0M1915.9 584.9h0M1915.9 587.4h0M1916.3 589.5h0M1915.7 592.2h0M1915.6 594.5h0M1916.2 597.6h0M1916 600.1h0M1915.6 602.7h0M1916.1 604.8h0M1916 607h0M1915.4 609h0M1915.9 525h0M1915.9 534.2h0M1948.3 568.7h0M1964.6 588.6h0M1948.3 596.6h0M1949.7 603.4h0M1948.3 616h0M1933.7 617.1h0M1918.9 642.3h0" stroke="#4682b4" stroke-width="9.8" stroke-linecap="round" fill="none"/></g>
<g><path d="M1971.9 844.6L1971.9 645L1972.9 646L1973.9 647L1974.9 648L1975.9 649L1976.9 650.3L1977.9 653.3L1978.9 656.3L1979.9 659.3L1980.9 662.3L1981.9 665.9L1982.9 669.9L1983.9 673.9L1984.9 677.9L1985.9 681.9L1986.9 681.9L1987.9 681.9L1988.9 681.9L1989.9 681.9L1990.9 681.9L1991.9 681.9L1992.9 681.9L1993.9 681.9L1994.9 681.9L1995.9 681.9L1996.9 671.2L1997.9 660.6L1998.9 652.3L1999.9 654.5L2000.9 654.5L2001.9 654.5L2002.9 654.5L2003.9 654.5L2003.9 844.6Z" fill="#0000ff" stroke="#0000ff" stroke-width="9.8" stroke-linejoin="round"/><path d="M1972 627.8h0M1972.4 630.7h0M1998.4 627.9h0M1999 630.1h0M1998.9 632.9h0M1998.8 635.1h0M1998 637.9h0M1997.8 640.6h0M1978.9 652.2h0M1977.4 647.5h0M1991.6 677.9h0M2002.3 644.6h0M1993.7 673.5h0M2000.5 652h0M1996.3 671h0M1980.2 659.5h0M2002.9 653.8h0M1982.7 667.4h0M1993.6 679.7h0M1997.5 658.3h0M1984.5 673h0M1992.8 665h0M1999.8 641.3h0M1972.3 629.4h0M1975 625.8h0M1974.7 624.4h0M1979.1 642.6h0M1996 663.2h0M1985 660.4h0M1989.6 654.1h0M1988.1 665h0M1971.1 632h0M1970.8 636.8h0M1970.8 640.6h0M1970.7 646.9h0M1971.2 652h0M1971.5 655.8h0M1970.5 660.9h0M1971.4 667h0M1970.6 672.8h0M1970.5 677.7h0M1971.2 681.8h0M1970.7 686.8h0M1971.3 691.7h0M1971.1 697.8h0M1971.4 702.5h0M1970.7 707.5h0M1970.8 712.1h0M1971.6 717h0M1971.3 723.4h0M1970.4 728.6h0M1971.6 732.7h0M1971.5 736.8h0M1971 742.9h0M1971.3 746.5h0M1971.4 751.5h0M1970.5 755.9h0M1971.4 760.8h0M1971.5 766.1h0M1970.8 771.1h0M1970.9 774.9h0M1970.7 779.3h0M1970.5 784.7h0M1971.4 790h0M1970.7 794h0M1971.6 800h0M1971.3 804.7h0M1970.5 809.6h0M1970.7 814.8h0M1971.3 820.6h0M1971.2 826h0M1971 830.9h0M1971.4 836.4h0M1971.4 842.4h0M2005.2 641.5h0M2004.5 647.9h0M2004.1 654.3h0M2004.3 660.6h0M2005 664.3h0M2005 668.2h0M2004.2 671.8h0M2004.2 676.3h0M2004.5 681.2h0M2004.7 687h0M2005.2 693.4h0M2005.2 697.4h0M2004.8 703.6h0M2004.3 708.6h0M2004.3 713.1h0M2004.9 717.2h0M2005.1 721.7h0M2005.1 726.9h0M2005.2 730.6h0M2004.9 735.7h0M2005 739.9h0M2005 744.6h0M2004.2 749.9h0M2005 754.3h0M2004.9 757.8h0M2005 762.9h0M2004.7 767.4h0M2005 772.4h0M2004.7 776.1h0M2004.8 780.4h0M2004.3 784.6h0M2005.2 788.8h0M2005.2 793.4h0M2004.4 799.1h0M2004.1 804.3h0M2004.9 810.6h0M2004.7 814.4h0M2004.9 819.4h0M2005.2 823.8h0M2004.2 829.1h0M2005.2 835.1h0M2005 839.5h0M1987.9 848.7h0M2002.9 848.5h0M1999.3 586.3h0M1999.3 590.9h0M1999.3 597.7h0M1999.3 601.1h0M1972.1 622.9h0M1999.5 622.9h0" stroke="#0000ff" stroke-width="9.8" stroke-linecap="round" fill="none"/></g>
<g><path d="M2014.1 844.6L2014.1 659L2015.1 659L2016.1 659L2017.1 659L2018.1 659L2019.1 659L2020.1 659L2021.1 659L2022.1 659L2023.1 659L2024.1 659L2025.1 659L2026.1 659L2027.1 659L2028.1 657.9L2029.1 653.9L2030.1 649.9L2031.1 649.9L2032.1 649.9L2033.1 649.9L2034.1 649.9L2035.1 649.9L2036.1 649.9L2037.1 649.9L2038.1 649.9L2039.1 649.9L2040.1 649.9L2041.1 649.9L2042.1 647L2043.1 642L2044.1 638.5L2045.1 638.5L2046.1 638.5L2047.1 638.5L2048.1 638.5L2049.1 638.5L2050.1 638.5L2050.1 844.6Z" fill="#4682b4" stroke="#4682b4" stroke-width="9.8" stroke-linejoin="round"/><path d="M2028.6 648.9h0M2032.4 638.9h0M2023.5 656.9h0M2044.6 634.2h0M2038.9 643h0M2034.8 645.2h0M2014.4 651.3h0M2049.1 627.4h0M2031 637h0M2023.3 656.6h0M2015.3 656.2h0M2042.9 642.7h0M2023.4 658.1h0M2027.5 651.3h0M2048.4 632.1h0M2038.7 636.3h0M2014.3 644.5h0M2017.9 637.4h0M2023.1 630.2h0M2038.6 635.8h0M2039.7 635h0M2033.1 636.5h0M2044.1 617.7h0M2035.1 631h0M2026.4 645.4h0M2025.8 639.3h0M2013.2 646h0M2013.6 649.9h0M2013.9 654.9h0M2013.4 658.5h0M2012.8 662.4h0M2013 666.3h0M2013.5 672.2h0M2012.7 677.3h0M2013.4 682.7h0M2013.6 689.1h0M2013.5 695.4h0M2013.5 700.2h0M2012.8 705.7h0M2013.7 711.2h0M2013 717.7h0M2012.8 722.7h0M2013.2 726.5h0M2012.9 732.4h0M2013.9 737.9h0M2013.6 742.9h0M2013.4 748.2h0M2013.2 753.1h0M2012.8 758.3h0M2013.6 762.7h0M2013.8 766.7h0M2012.7 772.8h0M2013.5 776.6h0M2012.8 782.9h0M2012.7 789.3h0M2013.9 793.7h0M2013.3 797.9h0M2013.6 801.5h0M2013.1 806.4h0M2013.8 810.4h0M2013.8 814.9h0M2013.8 818.7h0M2012.8 824.6h0M2012.9 828.3h0M2013.1 834.3h0M2012.9 838.7h0M2013.9 842.4h0M2050.6 625.5h0M2051.3 631.7h0M2050.5 635.4h0M2050.5 640.8h0M2051.2 646.3h0M2051 650.5h0M2051.5 654.6h0M2051.2 660h0M2050.4 665.4h0M2051.4 671.5h0M2051.1 676.6h0M2051.3 681.6h0M2050.7 686.7h0M2050.6 691.7h0M2051 695.2h0M2051.3 701.3h0M2051 705.5h0M2051.1 710.7h0M2051 715.6h0M2051.5 721.2h0M2051.4 726.2h0M2050.5 731.7h0M2050.8 736h0M2051 740.6h0M2051.6 745h0M2050.8 750.7h0M2051.5 756.3h0M2051.2 760.3h0M2050.8 766.6h0M2051.4 772.8h0M2050.5 777.2h0M2050.9 783.1h0M2050.9 787.7h0M2051.5 793.4h0M2051.3 799.6h0M2050.8 803.7h0M2050.6 807.2h0M2050.6 811.7h0M2050.5 816.6h0M2050.9 822.1h0M2051.2 826.3h0M2050.4 830.8h0M2051.3 836.8h0M2050.7 843h0M2025.3 847.6h0M2030.5 848.8h0M2035.1 847.6h0M2044.1 596.6h0M2011.4 628.1h0M2033.1 616h0M2042.3 617.1h0M2049.1 619.4h0" stroke="#4682b4" stroke-width="9.8" stroke-linecap="round" fill="none"/></g>
<g><path d="M2062.6 844.6L2062.6 672.8L2063.6 672.8L2064.6 672.8L2065.6 672.8L2066.6 672.8L2067.6 672.8L2068.6 672.8L2069.6 672.8L2070.6 662.7L2071.6 646.2L2072.6 641.7L2073.6 637.2L2074.6 637.4L2075.6 642.9L2076.6 648.4L2077.6 659.1L2078.6 677.3L2079.6 677.3L2080.6 677.3L2081.6 677.3L2082.6 677.3L2083.6 677.3L2084.6 677.3L2085.1 677.3L2085.1 844.6Z" fill="#0000ff" stroke="#0000ff" stroke-width="9.8" stroke-linejoin="round"/><path d="M2074.4 614h0M2073.7 616.5h0M2074.2 618.7h0M2073.7 621h0M2083.3 674.4h0M2069 672.3h0M2066.2 660.7h0M2071.2 649h0M2064.8 669.8h0M2074.8 634.6h0M2070.2 659.3h0M2064.8 668.9h0M2074 631.6h0M2067.1 658.1h0M2067.4 650.2h0M2078.4 663.5h0M2078.9 664.1h0M2073.1 625h0M2079.8 658h0M2078 656h0M2062.3 659.8h0M2061.5 665.2h0M2061.3 668.7h0M2061.9 674.9h0M2061.6 680h0M2061.6 686.2h0M2061.4 691.3h0M2062.4 696.2h0M2061.9 701.4h0M2061.9 705.9h0M2062 710.1h0M2061.2 715.8h0M2061.3 720.7h0M2061.7 724.5h0M2061.4 730.3h0M2062.2 734.9h0M2061.6 741.3h0M2062 746.8h0M2061.7 750.6h0M2061.2 755.3h0M2061.4 760.8h0M2061.4 766h0M2061.1 769.9h0M2061.6 775.2h0M2062.3 779.2h0M2061.5 784.9h0M2062.1 790.4h0M2061.4 795.3h0M2061.2 800.7h0M2061.4 804.5h0M2061.6 808.1h0M2062.3 813.2h0M2061.5 817.9h0M2062.3 824h0M2061.4 829h0M2061.2 832.9h0M2062 839.2h0M2062.2 843.3h0M2085.8 664.3h0M2086.5 669.9h0M2086.5 675.1h0M2086.2 679.9h0M2085.8 683.4h0M2085.5 687h0M2085.4 692.9h0M2086 697.3h0M2085.3 702.4h0M2086.2 706.2h0M2085.4 710.9h0M2085.8 715.9h0M2085.4 722.4h0M2085.4 726.4h0M2086.5 731.6h0M2085.4 737.4h0M2085.8 742.5h0M2086.2 748.9h0M2085.6 754.2h0M2086 759.1h0M2086 763.7h0M2085.8 767.5h0M2085.8 773.9h0M2086.3 778.9h0M2086.3 784.9h0M2086.2 789.5h0M2086.1 793.6h0M2085.6 797.2h0M2085.8 801.2h0M2085.3 806.9h0M2085.4 813h0M2086.5 819.4h0M2086.4 824.7h0M2085.9 831.1h0M2085.3 837.1h0M2086.1 843h0M2062.6 847.6h0M2075.4 848.2h0M2083.3 848.6h0M2081.6 572.1h0M2085.7 581.3h0M2081.8 598.4h0M2082.3 609.6h0M2068.6 616h0M2073.1 610.3h0M2062.2 656h0M2080 629.7h0" stroke="#0000ff" stroke-width="9.8" stroke-linecap="round" fill="none"/></g>
<g><path d="M2101 844.6L2101 641.9L2102 645.9L2103 648L2104 648.7L2105 649.3L2106 650L2107 650.7L2108 651.3L2109 652L2110 652.1L2111 652.1L2112 652.1L2113 652.1L2114 652.1L2115 652.1L2116 652.1L2117 652.1L2118 652.1L2119 652.1L2120 651.8L2121 651.3L2122 650.8L2123 650.3L2124 649.9L2124 844.6Z" fill="#4682b4" stroke="#4682b4" stroke-width="9.8" stroke-linejoin="round"/><path d="M2101.1 625.5h0M2100.8 628.2h0M2103.9 635.7h0M2107.4 639.4h0M2121.7 642.1h0M2121.1 645.2h0M2121.7 649.6h0M2117.4 644.4h0M2106.6 644.2h0M2108.2 648.9h0M2102 640.8h0M2108.8 636.3h0M2113.5 618.9h0M2123.9 634.7h0M2123 621.7h0M2113.1 634.9h0M2105.5 628.9h0M2112.2 631.9h0M2099.6 628.9h0M2099.9 634.3h0M2100.6 639.4h0M2100.7 644.3h0M2099.5 648.3h0M2100.6 653h0M2100.7 657.8h0M2100.5 663.1h0M2100 667.3h0M2100.8 673.5h0M2100 679.2h0M2100.3 684.1h0M2100.3 687.7h0M2100.4 692.7h0M2100.4 699.2h0M2099.7 705.3h0M2100.2 711.1h0M2099.7 716.1h0M2100.5 720h0M2100.2 723.5h0M2099.6 728.4h0M2100.3 734.7h0M2100.7 739.7h0M2100.1 745.4h0M2099.7 749.4h0M2100.5 753.1h0M2099.5 758h0M2100.5 761.9h0M2100.4 767.8h0M2100.8 774.1h0M2100.4 778.3h0M2100.7 784.3h0M2099.6 789.9h0M2099.8 796.3h0M2100.2 799.9h0M2100.6 804.1h0M2099.8 808.3h0M2100.6 813.5h0M2100.7 817.9h0M2099.8 824.2h0M2099.6 829.1h0M2100.5 835.5h0M2100.6 839.8h0M2125 636.9h0M2125.2 642h0M2124.6 647h0M2125.4 652.5h0M2124.8 656.2h0M2125.2 660.1h0M2125.3 664.9h0M2125.4 670.4h0M2125 675.7h0M2125.2 682.1h0M2124.3 686.6h0M2124.3 692.9h0M2125.4 699.1h0M2125.4 704.6h0M2125.2 709.9h0M2124.5 715.2h0M2125.2 719h0M2124.4 723.8h0M2124.5 729h0M2125.3 733.3h0M2125.2 738.6h0M2124.8 744.6h0M2124.8 749.4h0M2125.2 754h0M2124.6 760.2h0M2124.5 765.8h0M2125.1 769.3h0M2124.6 775.2h0M2125.1 781.6h0M2125.2 786.1h0M2124.4 792.1h0M2124.8 798.4h0M2124.7 802.7h0M2124.9 807.8h0M2124.3 812.2h0M2125.1 817.6h0M2124.7 823.1h0M2124.2 829.2h0M2124.2 833.1h0M2124.9 838.3h0M2124.9 842.4h0M2101 848.8h0M2108.5 848.4h0M2114.6 848.6h0M2121.1 616.5h0M2101.7 618.3h0" stroke="#4682b4" stroke-width="9.8" stroke-linecap="round" fill="none"/></g>
<path d="M112.5 402.9H2126" stroke="#dd0f29" stroke-width="2.6" stroke-dasharray="7.9 7.2" fill="none"/>
<path d="M112.5 96V863.5M97.5 848.5H2126M97.5 96h15M97.5 737.1h15M97.5 625.7h15M97.5 514.3h15M97.5 402.9h15M97.5 291.5h15M97.5 180.1h15M430.6 848.5v15M748.6 848.5v15M1066.7 848.5v15M1384.8 848.5v15M1702.8 848.5v15M2020.9 848.5v15M2124.6 848.5v15" stroke="#808080" stroke-width="2.4" fill="none"/>
<text x="89.6" y="857.8" font-family='"DejaVu Sans", "Liberation Sans", sans-serif' font-size="27.6" font-weight="normal" text-anchor="end" fill="#000">0</text>
<text x="89.6" y="746.4" font-family='"DejaVu Sans", "Liberation Sans", sans-serif' font-size="27.6" font-weight="normal" text-anchor="end" fill="#000">2</text>
<text x="89.6" y="635" font-family='"DejaVu Sans", "Liberation Sans", sans-serif' font-size="27.6" font-weight="normal" text-anchor="end" fill="#000">4</text>
<text x="89.6" y="523.6" font-family='"DejaVu Sans", "Liberation Sans", sans-serif' font-size="27.6" font-weight="normal" text-anchor="end" fill="#000">6</text>
<text x="89.6" y="412.2" font-family='"DejaVu Sans", "Liberation Sans", sans-serif' font-size="27.6" font-weight="normal" text-anchor="end" fill="#000">8</text>
<text x="89.6" y="300.8" font-family='"DejaVu Sans", "Liberation Sans", sans-serif' font-size="27.6" font-weight="normal" text-anchor="end" fill="#000">10</text>
<text x="89.6" y="189.4" font-family='"DejaVu Sans", "Liberation Sans", sans-serif' font-size="27.6" font-weight="normal" text-anchor="end" fill="#000">12</text>
<text x="199.3" y="898.5" font-family='"DejaVu Sans", "Liberation Sans", sans-serif' font-size="25" font-weight="normal" text-anchor="middle" fill="#000">1</text>
<text x="371.2" y="898.5" font-family='"DejaVu Sans", "Liberation Sans", sans-serif' font-size="25" font-weight="normal" text-anchor="middle" fill="#000">2</text>
<text x="525.8" y="898.5" font-family='"DejaVu Sans", "Liberation Sans", sans-serif' font-size="25" font-weight="normal" text-anchor="middle" fill="#000">3</text>
<text x="661.3" y="898.5" font-family='"DejaVu Sans", "Liberation Sans", sans-serif' font-size="25" font-weight="normal" text-anchor="middle" fill="#000">4</text>
<text x="791.4" y="898.5" font-family='"DejaVu Sans", "Liberation Sans", sans-serif' font-size="25" font-weight="normal" text-anchor="middle" fill="#000">5</text>
<text x="914.8" y="898.5" font-family='"DejaVu Sans", "Liberation Sans", sans-serif' font-size="25" font-weight="normal" text-anchor="middle" fill="#000">6</text>
<text x="1030.2" y="898.5" font-family='"DejaVu Sans", "Liberation Sans", sans-serif' font-size="25" font-weight="normal" text-anchor="middle" fill="#000">7</text>
<text x="1137.2" y="898.5" font-family='"DejaVu Sans", "Liberation Sans", sans-serif' font-size="25" font-weight="normal" text-anchor="middle" fill="#000">8</text>
<text x="1236.9" y="898.5" font-family='"DejaVu Sans", "Liberation Sans", sans-serif' font-size="25" font-weight="normal" text-anchor="middle" fill="#000">9</text>
<text x="1333.5" y="898.5" font-family='"DejaVu Sans", "Liberation Sans", sans-serif' font-size="25" font-weight="normal" text-anchor="middle" fill="#000">10</text>
<text x="1428.9" y="898.5" font-family='"DejaVu Sans", "Liberation Sans", sans-serif' font-size="25" font-weight="normal" text-anchor="middle" fill="#000">11</text>
<text x="1522" y="898.5" font-family='"DejaVu Sans", "Liberation Sans", sans-serif' font-size="25" font-weight="normal" text-anchor="middle" fill="#000">12</text>
<text x="1609.2" y="898.5" font-family='"DejaVu Sans", "Liberation Sans", sans-serif' font-size="25" font-weight="normal" text-anchor="middle" fill="#000">13</text>
<text x="1687" y="898.5" font-family='"DejaVu Sans", "Liberation Sans", sans-serif' font-size="25" font-weight="normal" text-anchor="middle" fill="#000">14</text>
<text x="1760" y="898.5" font-family='"DejaVu Sans", "Liberation Sans", sans-serif' font-size="25" font-weight="normal" text-anchor="middle" fill="#000">15</text>
<text x="1827.5" y="898.5" font-family='"DejaVu Sans", "Liberation Sans", sans-serif' font-size="25" font-weight="normal" text-anchor="middle" fill="#000">16</text>
<text x="1886.9" y="898.5" font-family='"DejaVu Sans", "Liberation Sans", sans-serif' font-size="25" font-weight="normal" text-anchor="middle" fill="#000">17</text>
<text x="1943.2" y="898.5" font-family='"DejaVu Sans", "Liberation Sans", sans-serif' font-size="25" font-weight="normal" text-anchor="middle" fill="#000">18</text>
<text x="1991.2" y="898.5" font-family='"DejaVu Sans", "Liberation Sans", sans-serif' font-size="25" font-weight="normal" text-anchor="middle" fill="#000">19</text>
<text x="2032.9" y="898.5" font-family='"DejaVu Sans", "Liberation Sans", sans-serif' font-size="25" font-weight="normal" text-anchor="middle" fill="#000">20</text>
<text x="2071.8" y="898.5" font-family='"DejaVu Sans", "Liberation Sans", sans-serif' font-size="25" font-weight="normal" text-anchor="middle" fill="#000">21</text>
<text x="2106.5" y="898.5" font-family='"DejaVu Sans", "Liberation Sans", sans-serif' font-size="25" font-weight="normal" text-anchor="middle" fill="#000">22</text>
<text x="1118.6" y="937.1" font-family='"DejaVu Sans", "Liberation Sans", sans-serif' font-size="30" font-weight="normal" text-anchor="middle" fill="#000">Chromosome</text>
<text x="25" y="472.6" font-family='"DejaVu Sans", "Liberation Sans", sans-serif' font-size="30" font-weight="normal" text-anchor="middle" fill="#000" transform="rotate(-90 25 472.6)">-log10 P-value</text>
<g><path d="M115.4 1802.1L115.4 1602.5L116.4 1602.5L117.4 1602.5L118.4 1602.5L119.4 1602.5L120.4 1602.5L121.4 1602.5L122.4 1602.5L123.4 1602.5L124.4 1602.5L125.4 1602.5L126.4 1602.5L127.4 1602.5L128.4 1602.5L129.4 1602.5L130.4 1602.5L131.4 1602.5L132.4 1602.5L133.4 1602.5L134.4 1602.5L135.4 1602.5L136.4 1602.5L137.4 1602.5L138.4 1602.5L139.4 1601.8L140.4 1600.8L141.4 1599.8L142.4 1598.8L143.4 1597.8L144.4 1596.8L145.4 1595.8L146.4 1594.8L147.4 1597L148.4 1601.6L149.4 1606.3L150.4 1611L151.4 1613L152.4 1613.2L153.4 1613.4L154.4 1613.6L155.4 1613.9L156.4 1614.1L157.4 1614.3L158.4 1614.5L159.4 1614.8L160.4 1615L161.4 1615.2L162.4 1615.4L163.4 1618.2L164.4 1621.2L165.4 1624.2L166.4 1627.2L167.4 1630.2L168.4 1630.8L169.4 1630.8L170.4 1630.8L171.4 1630.8L172.4 1630.8L173.4 1630.8L174.4 1630.8L175.4 1630.8L176.4 1630.8L177.4 1630.8L178.4 1630.3L179.4 1629.3L180.4 1628.3L181.4 1627.3L182.4 1626.3L183.4 1624.3L184.4 1621.7L185.4 1619L186.4 1616.3L187.4 1615.4L187.9 1615.4L187.9 1802.1Z" fill="#0000ff" stroke="#0000ff" stroke-width="9.8" stroke-linejoin="round"/><path d="M164.6 1620.7h0M140.4 1592.9h0M144.5 1585.8h0M141.1 1597.4h0M129 1595.2h0M136 1596.6h0M171.4 1618.4h0M150.6 1601.5h0M162.2 1610.9h0M131.4 1591.7h0M137.4 1593.1h0M180.1 1627h0M172.8 1622.3h0M148.5 1590.5h0M148.7 1603.3h0M122 1594h0M129.5 1600.3h0M137.2 1595.3h0M119.1 1598.1h0M152.6 1610.5h0M167.7 1627.2h0M134.4 1592h0M158.7 1601.3h0M183.3 1620.4h0M151.2 1604h0M121 1596.2h0M171.4 1618.4h0M122.6 1598.1h0M149.4 1603.4h0M145.2 1595.6h0M178.6 1614.8h0M154.3 1596.2h0M148 1577.8h0M166.5 1605.7h0M133.7 1586h0M154.8 1596.4h0M116.5 1581.1h0M147.9 1585.4h0M177.4 1613.7h0M169.1 1611h0M160.5 1589.7h0M119.4 1587.4h0M127.2 1584.4h0M131.3 1589.3h0M125.3 1588.5h0M154.5 1597.6h0M149.1 1590.9h0M153.7 1599.1h0M122 1589.2h0M126.3 1586.9h0M127.5 1586.4h0M127.2 1582.8h0M178.9 1614.8h0M120.6 1572.7h0M115.1 1589.5h0M114.2 1594.9h0M114 1599.9h0M114.2 1603.8h0M114 1610h0M114.6 1616.1h0M114.1 1621.1h0M114.8 1625.8h0M114.9 1629.3h0M114 1633.3h0M114.7 1637.7h0M114.3 1644.1h0M115 1648.9h0M114.8 1653.5h0M114.6 1659.9h0M114.8 1666.3h0M114 1669.9h0M114.2 1673.6h0M114.8 1678.9h0M114.6 1684.9h0M114.5 1691.4h0M114 1697.7h0M114.3 1702.3h0M114.3 1708h0M114.3 1711.6h0M114.9 1717.4h0M115.1 1721.2h0M115 1726.3h0M114.6 1732.3h0M114.2 1738.8h0M114.9 1743.6h0M114.4 1748.4h0M114 1754.5h0M115.1 1759h0M114.3 1764.5h0M114.1 1769.9h0M114.4 1775.8h0M115 1781.8h0M114.3 1788.1h0M115 1791.9h0M114.8 1797.3h0M188.4 1602.4h0M188.7 1607.4h0M188.5 1613.7h0M189 1619.9h0M189.3 1625.1h0M189.1 1631.3h0M188.1 1636.4h0M188.9 1640.5h0M188.9 1644.4h0M188.6 1648.9h0M189.2 1654.9h0M188.7 1660.7h0M189.4 1665.8h0M188.9 1672h0M189.2 1675.8h0M188.2 1679.4h0M188.3 1684.9h0M189 1690.6h0M189.3 1694.6h0M188.9 1701.1h0M189.1 1707.6h0M189.1 1712.5h0M189 1718.8h0M188.6 1722.6h0M188.6 1728.2h0M188.7 1732.2h0M188.7 1736.1h0M189 1739.9h0M189.3 1744h0M188.9 1747.9h0M188.3 1753.3h0M188.8 1758.7h0M188.3 1764h0M189.2 1769h0M188.4 1774.3h0M189.2 1778.8h0M188.7 1782.5h0M188.6 1787.5h0M188.2 1791h0M188.7 1797h0M188.7 1801.4h0M115.4 1806.1h0M122.4 1805.4h0M126.7 1805.7h0M133.7 1806.1h0M141.7 1805.1h0M155 1806.3h0M160.6 1805.8h0M165.1 1805.5h0M178.8 1805.6h0M186.5 1805.5h0M186.9 1437.7h0M186.6 1439.7h0M186.4 1442.3h0M186 1445.3h0M186.2 1448h0M186.6 1450.9h0M186 1453.4h0M186.6 1456.3h0M186.6 1459h0M186.1 1462.2h0M186.7 1465h0M186.8 1467.3h0M186.8 1469.7h0M186.9 1472.4h0M186.7 1475.4h0M186.3 1477.9h0M186.7 1480.6h0M186.8 1483.1h0M186.4 1485.3h0M186.1 1487.5h0M185.9 1489.9h0M186.5 1492.6h0M186.7 1495h0M186.6 1497.7h0M186.2 1499.8h0M186 1501.8h0M186 1504.8h0M186.3 1507.5h0M186.8 1510.4h0M186.9 1513.3h0M186.3 1516.5h0M186.7 1519.7h0M186.2 1522h0M186.7 1524.7h0M186.8 1526.8h0M186.5 1529.6h0M186.3 1532.1h0M186.6 1534.6h0M186.6 1537.1h0M186 1540.1h0M186.8 1542.2h0M186.7 1544.4h0M186.1 1546.9h0M186.3 1548.9h0M185.9 1551.6h0M186.2 1553.6h0M186.6 1556.7h0M186.3 1559h0M186.6 1561.5h0M186.2 1563.8h0M186.1 1566.4h0M186.6 1569h0M185.9 1571.6h0M186.5 1574h0M186.3 1576.3h0M186.3 1578.9h0M186.8 1581.1h0M186.8 1583.2h0M186.4 1585.3h0M186.3 1588h0M186.8 1590.7h0M185.9 1593.1h0M186.8 1595.4h0M186.6 1598.1h0M186.2 1600.6h0M151.1 1525.4h0M149.3 1544.9h0M136.3 1554h0M161 1554h0M114.3 1561.2h0M128 1563.8h0M180.4 1488.6h0M180.9 1569.5h0M149.3 1572.9h0M138.9 1580.7h0M118.2 1588.5h0M128.5 1589.8h0M155.8 1580.7h0M162.3 1596.2h0M189.5 1640.3h0" stroke="#0000ff" stroke-width="9.8" stroke-linecap="round" fill="none"/></g>
<g><path d="M204.9 1802.1L204.9 1631L205.9 1631L206.9 1631L207.9 1631L208.9 1631L209.9 1631L210.9 1631L211.9 1631L212.9 1631L213.9 1631L214.9 1631L215.9 1631L216.9 1631L217.9 1631L218.9 1631L219.9 1631L220.9 1631L221.9 1631L222.9 1631L223.9 1631L224.9 1631L225.9 1631L226.9 1631L227.9 1631L228.9 1631L229.9 1631L230.9 1631L231.9 1631L232.9 1631L233.9 1631L234.9 1631L235.9 1631L236.9 1631L237.9 1631L238.9 1631L239.9 1631L240.9 1628.7L241.9 1626.3L242.9 1623.9L243.9 1621.5L244.9 1619.1L245.9 1616.7L246.9 1614.8L247.9 1613.4L248.9 1612.1L249.9 1610.8L250.9 1610.3L251.9 1610.3L252.9 1610.3L253.9 1610.3L254.9 1610.3L255.9 1610.3L256.9 1610.3L257.9 1610.3L258.9 1610.3L259.9 1588.4L260.9 1555.2L261.9 1558L262.9 1576L263.9 1589.5L264.9 1589.5L265.9 1589.5L266.9 1589.5L267.9 1589.5L268.9 1589.5L268.9 1802.1Z" fill="#0000ff" stroke="#0000ff" stroke-width="9.8" stroke-linejoin="round"/><path d="M262 1529.8h0M261.4 1533.1h0M262.1 1535.7h0M261.8 1539h0M261.3 1542.1h0M225.9 1626.7h0M223.9 1619.6h0M222.1 1627.1h0M250.5 1609h0M231.4 1617.9h0M256.6 1599.8h0M250.8 1603.1h0M233.3 1617.4h0M219.4 1627.5h0M234.3 1629.3h0M256.5 1603.7h0M267.8 1575.5h0M230.5 1624.5h0M208.3 1629.2h0M214.5 1625.1h0M222.2 1622.3h0M234.7 1621.1h0M215.8 1626.3h0M245 1606.2h0M267.2 1577h0M219.2 1620.9h0M228.2 1623.9h0M262.7 1563.5h0M241.6 1622.2h0M221.4 1622h0M233.4 1629.4h0M254.6 1594h0M209.3 1615.8h0M257.1 1594.4h0M229.9 1612.9h0M207.5 1612.8h0M248.8 1598.5h0M231.6 1608.3h0M221.7 1614.2h0M227 1614h0M229.9 1615.9h0M264.1 1570.6h0M268.8 1574.5h0M234.7 1615.7h0M260.4 1552.1h0M248.4 1598.8h0M239.6 1616.4h0M263.4 1569.8h0M265.9 1572.3h0M226.7 1614h0M264.5 1570.6h0M257.6 1593.1h0M203.9 1618h0M203.6 1621.9h0M203.8 1627.3h0M203.7 1631.8h0M204.3 1636.8h0M203.7 1643.3h0M203.6 1648.8h0M204.2 1654.4h0M203.5 1660.8h0M204.1 1666.3h0M204.6 1671.3h0M203.6 1677.5h0M204.1 1682.8h0M204.7 1688.7h0M204.4 1693.4h0M204.2 1698.7h0M203.5 1704h0M204.5 1708.8h0M203.6 1712.3h0M204.1 1717.2h0M204.5 1720.8h0M203.5 1724.3h0M204.3 1727.9h0M203.9 1732.9h0M203.8 1737h0M203.4 1742.4h0M204.3 1746.2h0M204.3 1750h0M204.6 1754.2h0M204.3 1760.1h0M203.6 1765.8h0M204.6 1771.7h0M203.6 1777h0M203.9 1782.4h0M203.6 1787.1h0M204.2 1792.3h0M204.1 1797.2h0M203.8 1801.3h0M269.9 1576.5h0M269.6 1580h0M269.2 1585.8h0M270 1590.8h0M269.5 1595.9h0M270 1599.5h0M269.9 1603.5h0M270 1608.6h0M270.3 1612.4h0M270.2 1618.1h0M270 1622.2h0M270 1626.8h0M269.6 1632.4h0M269.6 1638.8h0M270 1643.7h0M270.2 1647.6h0M270.2 1652.1h0M269.2 1656.1h0M269.4 1661.3h0M269.3 1666.2h0M270 1671.8h0M269.3 1677.4h0M269.8 1681h0M270 1684.8h0M270.3 1689.9h0M269.9 1695.9h0M269.7 1701.8h0M269.2 1706.2h0M269.9 1711.8h0M269.7 1717.2h0M270.3 1722.1h0M269.3 1726.7h0M270.1 1733.1h0M270.4 1739.3h0M269.3 1744.1h0M269.7 1749.1h0M270.1 1753.7h0M270.3 1758h0M269.4 1762.1h0M269.4 1768.1h0M269.4 1773.8h0M269.7 1778.5h0M270.1 1782.7h0M270.3 1789.1h0M269.1 1793h0M270 1797.9h0M217.9 1805.1h0M228.7 1805.7h0M240.7 1805.3h0M248 1805.6h0M255.5 1805.6h0M263.4 1805.7h0M263.2 1513.7h0M210.3 1545.1h0M235.7 1546.4h0M247.4 1561.7h0M233.6 1582h0M214.1 1584.6h0M209 1589.8h0M218 1596.2h0M233.6 1593.6h0M209 1602.7h0" stroke="#0000ff" stroke-width="9.8" stroke-linecap="round" fill="none"/></g>
<g><path d="M288.7 1802.1L288.7 1631L289.7 1631L290.7 1631L291.7 1631L292.7 1631L293.7 1631L294.7 1631L295.7 1631L296.7 1631L297.7 1631L298.7 1631L299.7 1631L300.7 1631L301.7 1631L302.7 1631L303.7 1631L304.7 1631L305.7 1631L306.7 1631L307.7 1631L308.7 1631L309.7 1631L310.7 1631L311.7 1631L312.7 1630.5L313.7 1626.5L314.7 1622.5L315.7 1618.5L316.7 1614.5L317.7 1610.5L318.7 1609L319.7 1607.7L320.7 1606.3L321.7 1605L322.7 1603.7L323.7 1602.3L324.7 1601L325.7 1599.9L326.7 1599.9L327.7 1599.9L328.7 1600.9L329.7 1606.4L330.7 1611.9L331.7 1617.4L332.7 1622.9L333.7 1628.4L334.7 1628.4L335.7 1628.4L336.7 1628.4L337.7 1628.4L338.7 1628.4L339.7 1628.4L340.7 1628.4L341.7 1628.4L342.7 1628.4L343.7 1628.4L344.7 1624.9L345.7 1621.4L346.7 1617.9L347.7 1614.4L348.7 1610.9L349.7 1609.8L350.7 1609.3L351.7 1609.6L352.7 1609.8L353.7 1610.1L354.7 1611.1L355.7 1614.6L356.7 1618.1L357.7 1621.6L358.7 1625.1L359.7 1628.4L360.7 1628.4L361.7 1628.4L362.7 1628.4L363.7 1628.4L364.7 1628.4L365.7 1628.4L366.7 1628.4L367.7 1628.4L368.7 1628.4L369.7 1628.4L370.7 1627.6L371.7 1626.9L372.7 1626.1L373.7 1625.4L374.7 1624.6L375.7 1623.9L376.7 1623.1L377.7 1622.4L378.7 1621.6L379.7 1620.9L380.7 1620.3L381.7 1619.8L382.7 1619.3L383.7 1618.8L384.7 1618.3L385.7 1617.8L386.7 1617.3L387.7 1616.8L388.7 1616.3L389.7 1615.8L390.7 1615L391.7 1613.5L392.7 1612L393.7 1610.5L394.7 1609L395.7 1607.4L396.7 1605L397.7 1602.7L398.7 1600.4L399.7 1598L400.7 1595.7L401.7 1593.4L402.7 1591L403.7 1589.3L404.7 1588.7L405.7 1588.1L406.7 1587.5L407.7 1586.9L408.7 1586.3L409.7 1585.7L410.7 1585.1L411.7 1584.5L412.7 1583.9L413.7 1583.3L414.7 1582.7L415.7 1582.1L416.7 1581.6L417.7 1581.9L418.7 1584.8L419.7 1587.7L420.7 1590.5L421.7 1593.4L422.7 1596.2L423.7 1599.1L424.7 1601.9L425.7 1604.8L426.7 1605.3L427.7 1605.6L428.7 1605.9L429.7 1606.2L430.7 1606.5L431.7 1606.7L432.7 1607L433.7 1607.3L434.7 1607.6L435.7 1607.7L436.7 1607.7L437.7 1607.7L438.7 1607.7L438.7 1802.1Z" fill="#4682b4" stroke="#4682b4" stroke-width="9.8" stroke-linejoin="round"/><path d="M420.7 1566.1h0M420.8 1569.1h0M421 1572.3h0M421 1575.3h0M347.2 1604.2h0M343.2 1619h0M290.8 1627.8h0M367.4 1621.1h0M394.3 1596.7h0M307.5 1627h0M294.8 1629.2h0M364.9 1627.9h0M417.5 1573.7h0M340.2 1620.5h0M404.1 1581.5h0M396.7 1604.9h0M401 1587.7h0M400 1589.8h0M375.8 1615.7h0M429 1605.9h0M373.9 1619.2h0M304.1 1624.9h0M428.1 1595.1h0M404.9 1578.3h0M395.7 1597.3h0M378 1618.8h0M293.5 1628.8h0M367.2 1617.8h0M334.8 1622.2h0M399.8 1586.5h0M299.2 1620.2h0M383.8 1610.4h0M403.1 1586.1h0M343.8 1622.7h0M310.5 1625.5h0M385.8 1607.1h0M388.6 1604.2h0M434.5 1601.3h0M427 1600.8h0M320.9 1602.6h0M380.9 1611.6h0M392.6 1608.6h0M390.6 1604h0M433.5 1606.1h0M353.8 1609h0M437.7 1598.5h0M317.3 1601.9h0M362.1 1616.4h0M324.3 1597.9h0M291.5 1625.6h0M349.9 1605.8h0M327.5 1592.6h0M320.6 1592.5h0M418.3 1574.5h0M332.9 1624.8h0M344.2 1620.2h0M309.8 1622.8h0M420 1586.6h0M411.4 1583.6h0M323.3 1589.7h0M308.2 1626.1h0M370.5 1618.8h0M395.5 1596.5h0M379.9 1612.7h0M309.6 1627.9h0M316.3 1613.7h0M402.8 1583.2h0M356.7 1604h0M309.6 1612h0M344.3 1609.5h0M343.9 1613.9h0M313.1 1608.3h0M353.6 1596.2h0M419.7 1573.8h0M323.1 1589.1h0M372.6 1605.6h0M293.3 1605.1h0M394 1587.8h0M352 1593.8h0M302.8 1616.5h0M419.3 1571.5h0M423.8 1577.1h0M426.8 1591.6h0M352.1 1587.7h0M335.4 1614h0M291.8 1614.2h0M371.2 1613.1h0M327.5 1581.9h0M314.6 1601.8h0M419.5 1571.9h0M308.2 1613.8h0M333 1612.1h0M395.1 1591.1h0M329.4 1589.3h0M397.3 1578.5h0M341.4 1611h0M321.8 1588.9h0M375.7 1609h0M379.4 1604.3h0M295.2 1617.4h0M350.8 1595.5h0M370.6 1610.1h0M382.4 1595.5h0M379.9 1600.5h0M306 1607.7h0M428.1 1588.3h0M412.8 1566.9h0M353.9 1596.2h0M360.8 1609.1h0M407.8 1562.7h0M366.4 1600.9h0M344.5 1611.8h0M352.6 1592.9h0M404.6 1574.4h0M292.5 1611.6h0M317.4 1589.9h0M373.6 1611.6h0M287.8 1618h0M288.2 1623.8h0M288.4 1630.2h0M287.7 1634.1h0M287.7 1639.7h0M288.2 1645.9h0M287.8 1649.6h0M288 1654.1h0M287.3 1658.8h0M287.6 1663.2h0M288.1 1668.4h0M288.1 1674.6h0M288.2 1679h0M287.6 1684.6h0M288.3 1689.2h0M288 1694.5h0M287.6 1699.6h0M288.4 1703.1h0M287.3 1709.1h0M288.2 1712.9h0M287.4 1717.6h0M287.2 1722.1h0M287.3 1725.8h0M287.7 1729.5h0M287.5 1735.9h0M288 1742.2h0M287.3 1748.5h0M287.5 1752.9h0M288.2 1759.1h0M287.5 1763.8h0M287.3 1769h0M287.9 1773.8h0M288.1 1777.8h0M288.1 1783.9h0M287.4 1790.1h0M288.1 1795.3h0M288.3 1798.8h0M440.1 1594.7h0M439.2 1601h0M439.4 1607.4h0M440.1 1612h0M439.8 1617.9h0M439 1622.3h0M439.2 1626.3h0M439.6 1630.4h0M439.2 1634.8h0M439.4 1641h0M438.9 1644.5h0M438.9 1649.6h0M438.9 1654.8h0M439.7 1659.7h0M439.2 1664.8h0M440.1 1670.9h0M440.1 1676.8h0M439.4 1683.2h0M439.4 1688.3h0M439.1 1694.2h0M439.5 1698.4h0M440.2 1703.5h0M438.9 1708h0M440 1712.7h0M439.5 1716.5h0M440 1721.8h0M439.7 1726.3h0M440.1 1732.6h0M439.3 1737.8h0M439.8 1743.3h0M439.7 1748.8h0M439.8 1753.4h0M439.2 1758h0M439.6 1761.8h0M439.2 1765.8h0M439.4 1770.2h0M440.1 1775h0M439.6 1780h0M439.6 1784.7h0M439.6 1790.7h0M439.3 1795.7h0M439.1 1799.8h0M288.7 1805.1h0M294.3 1805.1h0M301.4 1805.8h0M313.8 1805.7h0M324.3 1805h0M332.3 1805.3h0M340 1805.5h0M358.1 1805.3h0M362.2 1805.8h0M369.7 1805.3h0M377.3 1805.5h0M381.6 1805.3h0M388 1805.7h0M395.3 1805.4h0M413.7 1805.8h0M425.6 1805.9h0M431.5 1805.9h0M426.9 1542.8h0M427.2 1545.9h0M426.7 1548.6h0M426.8 1550.8h0M426.8 1553.3h0M426.9 1555.6h0M426.5 1558.3h0M427.1 1561.1h0M426.6 1563.4h0M426.8 1565.4h0M426.8 1568.2h0M427 1570.9h0M426.4 1573h0M427.3 1575.6h0M426.8 1578.4h0M426.5 1580.7h0M427.1 1583.5h0M426.5 1586h0M427.1 1588.3h0M426.8 1591.2h0M303.6 1470.7h0M412.1 1527.8h0M316.9 1539.9h0M316.9 1556h0M412.6 1548.2h0M379.4 1555.5h0M379.4 1571.1h0M389.3 1563.8h0M389.3 1574.2h0M325.2 1565.4h0M343.9 1567.7h0M343.9 1578.1h0M294.6 1576h0M294.6 1583.3h0M314 1574.2h0M293.3 1604.8h0M304.9 1604h0M425.6 1539.2h0M401.3 1053.8h0M400.7 1083.2h0M401.3 1093.4h0M400.9 1106.1h0M401.3 1125.4h0M401.3 1133h0M401.3 1136h0M401 1138.4h0M400.5 1141.1h0M401.1 1143.7h0M400.8 1146.4h0M401.3 1149h0M401.2 1151.4h0M400.8 1154.3h0M401 1156.8h0M400.7 1159.7h0M400.9 1161.9h0M400.6 1164.6h0M401 1167.6h0M400.9 1170.3h0M400.9 1172.3h0M400.5 1174.9h0M401.1 1177.9h0M400.4 1180.3h0M400.8 1182.6h0M400.6 1185.2h0M400.7 1187.7h0M401.2 1190.3h0M401.3 1192.8h0M400.5 1195.4h0M401 1198.1h0M401.5 1200.8h0M401.4 1203.2h0M401.2 1205.4h0M401.4 1207.4h0M400.9 1209.9h0M400.8 1212.4h0M401.2 1214.6h0M400.5 1217.2h0M401.5 1219.5h0M400.8 1221.8h0M400.8 1224.4h0M401.6 1227.3h0M400.7 1229.4h0M400.9 1246.5h0M401.2 1248.8h0M400.5 1251.7h0M400.5 1253.7h0M400.6 1256h0M400.8 1258.4h0M401.6 1261.2h0M400.9 1264.1h0M400.6 1266.8h0M401.5 1269.4h0M400.6 1272.3h0M401.5 1274.4h0M401.3 1277.1h0M401.1 1279.2h0M401.3 1281.2h0M400.8 1284h0M401.3 1286h0M401.1 1289h0M400.8 1291.4h0M401.6 1294.2h0M400.7 1296.6h0M400.9 1299.6h0M400.8 1302h0M401.6 1304.7h0M401.4 1307.2h0M400.9 1309.6h0M401.6 1312.4h0M401.2 1315.2h0M401.5 1318h0M401 1320.9h0M400.4 1323.3h0M400.8 1325.9h0M401.6 1327.9h0M401.5 1330.2h0M400.8 1332.2h0M401.2 1335h0M401 1337.6h0M401.4 1339.7h0M401 1342.5h0M401.4 1345.1h0M401 1347.5h0M401.3 1350h0M400.8 1352.8h0M400.9 1355.5h0M400.9 1358.2h0M401.5 1361.1h0M400.9 1363.9h0M400.9 1366.2h0M400.4 1368.9h0M401.5 1371.4h0M401.5 1373.5h0M401.6 1376h0M401.3 1378.8h0M400.9 1381.5h0M401.4 1383.6h0M401.3 1386.5h0M401 1388.7h0M400.8 1391.2h0M400.9 1393.7h0M401.2 1396.7h0M401.5 1399.7h0M401.3 1401.9h0M401.1 1404.2h0M401.3 1406.8h0M401.2 1409.1h0M401.3 1411.5h0M401.2 1414h0M400.7 1417h0M401.5 1419h0M401.2 1421.5h0M401.5 1438h0M401.6 1440.4h0M401.3 1442.8h0M400.8 1445.6h0M400.8 1448h0M400.9 1450.4h0M400.5 1453.2h0M401.3 1456.2h0M401.2 1458.8h0M401.3 1461.1h0M400.9 1463.9h0M400.7 1466.4h0M401.4 1468.7h0M400.9 1471.3h0M400.6 1474h0M400.8 1476h0M400.6 1478.6h0M400.8 1481.1h0M401.3 1483.4h0M401.3 1485.7h0M400.9 1488.5h0M401.4 1490.5h0M401.1 1493h0M401.1 1495.7h0M400.4 1498.6h0M401.1 1501.6h0M401.5 1504h0M401.1 1506.9h0M401.1 1508.9h0M401.1 1511.3h0M400.6 1514.2h0M400.8 1517h0M400.4 1519.3h0M400.7 1521.4h0M401.5 1523.9h0M400.7 1526.1h0M401.2 1528.4h0M401.2 1530.8h0M400.5 1532.9h0M401.3 1535.5h0M400.5 1537.7h0M400.5 1540.3h0M401.2 1543.3h0M400.9 1545.4h0M400.5 1547.5h0M401.5 1549.8h0M401.3 1552.7h0M401.1 1555.4h0M401.2 1557.9h0M400.9 1560.4h0M400.8 1563.2h0" stroke="#4682b4" stroke-width="9.8" stroke-linecap="round" fill="none"/></g>
<g><path d="M459.1 1802.1L459.1 1609L460.1 1609.3L461.1 1609.6L462.1 1609.9L463.1 1610.2L464.1 1610.5L465.1 1610.8L466.1 1611.2L467.1 1611.5L468.1 1611.8L469.1 1612.2L470.1 1612.5L471.1 1612.8L472.1 1614.1L473.1 1615.4L474.1 1616.8L475.1 1618.1L476.1 1619.4L477.1 1620.8L478.1 1622.1L479.1 1623.1L480.1 1623.1L481.1 1623.1L482.1 1623.1L483.1 1623.1L484.1 1623.1L485.1 1623.1L486.1 1623.1L487.1 1623.1L488.1 1623.1L489.1 1623.1L490.1 1622.5L491.1 1621.9L492.1 1621.3L493.1 1620.7L494.1 1620.1L495.1 1619.5L496.1 1618.9L497.1 1618.3L498.1 1617.7L499.1 1617.1L500.1 1616.5L501.1 1615.9L502.1 1615.4L503.1 1615.4L504.1 1615.4L505.1 1615.4L506.1 1615.4L507.1 1615.4L508.1 1615.4L509.1 1582.8L510.1 1555.7L511.1 1567.7L512.1 1581.7L513.1 1589.4L514.1 1589.4L515.1 1589.4L516.1 1589.4L517.1 1589.4L518.1 1589.4L519.1 1589.4L520.1 1589.4L521.1 1589.4L522.1 1589.4L523.1 1589.4L524.1 1589.2L525.1 1589L526.1 1588.8L527.1 1589.1L528.1 1590.6L529.1 1592.1L530.1 1593.6L531.1 1595.1L532.1 1596.6L533.1 1598.1L534.1 1599.6L535.1 1601.1L536.1 1602.8L537.1 1606.8L538.1 1610.8L539.1 1614.8L540.1 1618.8L541.1 1622.8L542.1 1622.8L543.1 1622.8L544.1 1622.8L545.1 1622.8L546.1 1622.8L547.1 1622.8L548.1 1622.8L549.1 1622.8L550.1 1622.8L551.1 1622.8L552.1 1622.3L553.1 1621.3L554.1 1620.3L555.1 1619.3L556.1 1618.3L557.1 1617.3L558.1 1616.3L559.1 1614.8L560.1 1609.8L561.1 1604.8L562.1 1599.8L563.1 1594.8L564.1 1589.8L565.1 1594L566.1 1620.6L567.1 1620.6L568.1 1620.6L569.1 1620.6L570.1 1620.6L571.1 1620.6L572.1 1620.6L573.1 1620.6L574.1 1620.6L575.1 1620.6L576.1 1620.6L577.1 1620.6L578.1 1620.6L579.1 1620.6L580.1 1620.6L581.1 1620.6L581.1 1802.1Z" fill="#0000ff" stroke="#0000ff" stroke-width="9.8" stroke-linejoin="round"/><path d="M514 1540.3h0M513.7 1542.5h0M514.4 1545.8h0M513.8 1548.1h0M514.1 1550.8h0M514.7 1553h0M513.8 1555.8h0M514.2 1558.1h0M514.4 1561.4h0M514.6 1564.6h0M513.5 1567.6h0M514.2 1570.2h0M513.7 1572.9h0M514.6 1575.2h0M564.6 1560.9h0M565.4 1563.7h0M565 1566.1h0M565.4 1568.5h0M565.5 1571.7h0M564.9 1574.4h0M564.7 1577h0M565.5 1580.3h0M569.9 1613.5h0M539.7 1615.6h0M511.7 1573.5h0M556.4 1607.8h0M503 1611.1h0M479.1 1612.7h0M482.7 1610.6h0M569.9 1620.6h0M559.2 1607.9h0M550.1 1618.5h0M513 1582.7h0M474.7 1606.8h0M501.1 1606.9h0M539.5 1606.2h0M488.1 1621.4h0M554.5 1618.9h0M554.1 1609h0M518.6 1587.1h0M557.5 1606h0M518 1583.7h0M460.5 1598.9h0M549.6 1618.2h0M513.7 1583.4h0M523.5 1580.1h0M469.5 1608.7h0M553.4 1612.9h0M553 1618.9h0M543.5 1620.2h0M577 1607.2h0M574 1613h0M554 1616.6h0M471.1 1607h0M470 1608.7h0M500.4 1607.5h0M492.4 1618.4h0M537.3 1597h0M549.5 1611.4h0M557 1611.8h0M552.6 1616.4h0M579.3 1616.4h0M515.7 1583.7h0M528.3 1580.6h0M496.5 1615.8h0M558.9 1614.3h0M542.8 1615.9h0M507.3 1611.3h0M538.3 1610h0M550.3 1614.2h0M493.1 1607.4h0M554.3 1612.3h0M507.2 1602.2h0M519.5 1565h0M492.9 1600.9h0M551.7 1604.4h0M531.8 1581.4h0M541.4 1605.4h0M577.1 1604h0M502.4 1590.6h0M535.3 1586h0M538.4 1599h0M482.1 1599.3h0M515.6 1568.3h0M485.3 1606.9h0M488 1602h0M532 1581.1h0M506 1601.3h0M484.8 1604.3h0M497.2 1604.8h0M506.2 1599.4h0M579.7 1605.2h0M508.3 1584.6h0M547.1 1606.8h0M507.7 1601.2h0M477.7 1605.2h0M537.2 1593.3h0M517.2 1575.5h0M532.5 1582.2h0M540.3 1598.2h0M508.5 1590.4h0M468.7 1597.8h0M535 1579.9h0M476 1587.8h0M570.6 1605.4h0M524.9 1570.4h0M499.3 1601.8h0M547.2 1606.5h0M512.4 1571.5h0M473.3 1599.3h0M495 1605.6h0M523.1 1570.4h0M523.3 1573h0M458 1596h0M457.6 1600.8h0M458.9 1604.9h0M458 1610.1h0M458.4 1614.8h0M458.6 1619.3h0M457.8 1625.2h0M458.2 1629.5h0M458.7 1634.4h0M458.2 1640.1h0M457.7 1646.6h0M458.6 1652.8h0M457.9 1656.6h0M458 1660.4h0M458 1664.5h0M458.8 1668.1h0M458.2 1674.2h0M457.6 1679.1h0M458.6 1684.9h0M458.4 1690.6h0M458.5 1695.5h0M458.5 1699.6h0M458.7 1704h0M458.4 1710.1h0M457.9 1715.3h0M458.7 1720.8h0M457.7 1727.1h0M458.5 1733.2h0M458.1 1739.2h0M458.4 1742.8h0M458.2 1748.3h0M457.9 1754.7h0M457.6 1760.7h0M457.7 1765.2h0M457.9 1768.7h0M458.3 1772.5h0M458.8 1777.3h0M457.9 1782.7h0M458.6 1786.9h0M458.2 1792.7h0M458.5 1796.3h0M581.7 1607.6h0M581.9 1612h0M582.4 1618.2h0M582.2 1622.8h0M581.4 1626.4h0M582.1 1631h0M581.4 1634.9h0M581.6 1641h0M581.4 1644.7h0M581.7 1648.4h0M582.2 1653.6h0M582 1658h0M582.1 1662.5h0M582.1 1666.3h0M582.5 1669.8h0M582 1673.9h0M581.9 1678h0M582.1 1682.3h0M582.4 1688.1h0M581.9 1694.6h0M581.8 1699.7h0M582 1704.1h0M581.4 1710.5h0M581.7 1716.2h0M581.7 1721.5h0M582 1727.2h0M581.9 1731.6h0M581.4 1735.1h0M581.4 1741.3h0M582.2 1746h0M582.5 1749.7h0M582.6 1753.8h0M582.1 1758.6h0M581.4 1763.9h0M582.3 1768.9h0M582.3 1774.8h0M581.5 1780.3h0M582 1785h0M582.3 1788.7h0M582 1792.5h0M581.5 1796.8h0M476.6 1805.3h0M482.9 1806.2h0M487.9 1806.2h0M494.8 1805.5h0M501.7 1805.9h0M518.3 1805.2h0M537.5 1805.9h0M543.1 1806.1h0M550 1805.6h0M556.7 1805.3h0M567.2 1805.6h0M464.2 1548h0M464.5 1550.1h0M465 1553.3h0M464.9 1555.8h0M464.1 1558.6h0M464.3 1561.7h0M464.1 1564.8h0M464.5 1567.9h0M464.2 1570.5h0M464.7 1573.1h0M465 1575.8h0M464.9 1578.4h0M464.7 1580.6h0M464.9 1583.3h0M464.5 1585.7h0M464.2 1588.7h0M464.8 1591.1h0M464.5 1593.9h0M464.8 1595.9h0M491.5 1535h0M491.4 1537.5h0M492 1540.5h0M491.9 1543.6h0M491.7 1545.8h0M491.2 1549h0M491.4 1551.4h0M491.5 1553.6h0M491.3 1556.4h0M491.7 1559.4h0M491.3 1561.6h0M491.6 1564.2h0M491.3 1566.8h0M491.7 1569.3h0M491.7 1571.4h0M491.8 1574.4h0M491.9 1576.5h0M491.4 1578.6h0M491.8 1580.6h0M491.5 1582.9h0M492.1 1585h0M491.9 1587.2h0M491.7 1590.1h0M491.6 1592.8h0M491.9 1595.8h0M491.9 1597.9h0M491.7 1600.1h0M491.7 1602.3h0M492 1605.1h0M491.3 1607.5h0M564.9 1469.1h0M524.2 1488.8h0M580.7 1498.4h0M580.7 1523.1h0M551.9 1525.9h0M568.3 1528h0M491.2 1529.3h0M524.2 1533.5h0M524.2 1540.5h0M538.4 1545.7h0M580.7 1541.5h0M464.5 1543.1h0M464.5 1574.2h0M564.4 1539.2h0M552.7 1574.2h0M552.7 1594.9h0M472.3 1610.5h0M481.4 1600.1h0" stroke="#0000ff" stroke-width="9.8" stroke-linecap="round" fill="none"/></g>
<g><path d="M598.1 1802.1L598.1 1615.4L599.1 1615.4L600.1 1615.4L601.1 1615.4L602.1 1615.4L603.1 1615.4L604.1 1615.4L605.1 1615.4L606.1 1615.4L607.1 1615.4L608.1 1615.4L609.1 1615.4L610.1 1615.4L611.1 1615.4L612.1 1612.4L613.1 1609.4L614.1 1606.4L615.1 1603.4L616.1 1600.4L617.1 1594.8L618.1 1588.8L619.1 1588.4L620.1 1596.4L621.1 1601.2L622.1 1603.6L623.1 1606L624.1 1608.4L625.1 1610.8L626.1 1613.2L627.1 1615.6L628.1 1617.1L629.1 1618.6L630.1 1620.1L631.1 1621.6L632.1 1623.1L633.1 1624.6L634.1 1626.1L635.1 1627.6L636.1 1629.1L637.1 1630.6L638.1 1631.1L639.1 1631.3L640.1 1631.5L641.1 1631.7L642.1 1631.9L643.1 1632.1L644.1 1632.3L645.1 1632.5L646.1 1632.7L647.1 1632.9L648.1 1633.1L649.1 1633.3L650.1 1633.5L651.1 1633.5L652.1 1633.5L653.1 1633.5L654.1 1633.5L655.1 1633.5L656.1 1633.5L657.1 1633.5L658.1 1633.5L659.1 1633.5L660.1 1633.5L661.1 1630.4L662.1 1626.1L663.1 1621.7L664.1 1617.4L665.1 1613.1L666.1 1608.7L667.1 1604.4L668.1 1600.1L669.1 1599.9L670.1 1599.9L671.1 1599.9L672.1 1599.9L673.1 1600.3L674.1 1600.8L675.1 1601.4L676.1 1602L677.1 1602.6L678.1 1603.1L679.1 1603.7L680.1 1604.3L681.1 1604.8L682.1 1614.8L683.1 1630.8L684.1 1646.6L685.1 1646.6L686.1 1646.6L687.1 1646.6L688.1 1646.6L689.1 1646.6L690.1 1646.6L691.1 1646.6L692.1 1646.6L693.1 1646.6L694.1 1646.6L695.1 1645.8L696.1 1645L697.1 1644.2L698.1 1643.4L699.1 1642.6L700.1 1641.8L701.1 1637.2L702.1 1629.2L703.1 1621.2L704.1 1613.2L705.1 1610.1L706.1 1610L707.1 1609.8L708.1 1609.6L709.1 1609.5L710.1 1609.3L711.1 1609.1L712.1 1609L713.1 1608.8L714.1 1608.6L715.1 1608.5L715.6 1608.4L715.6 1802.1Z" fill="#4682b4" stroke="#4682b4" stroke-width="9.8" stroke-linejoin="round"/><path d="M619.1 1555.7h0M618.7 1558.6h0M618.8 1561.7h0M619.2 1565.1h0M619 1568.1h0M618.2 1570.5h0M666.3 1606.8h0M689 1637.2h0M618.2 1584h0M611.1 1608.3h0M630.5 1612.4h0M674.9 1596.3h0M670.6 1586.7h0M703.1 1617h0M704.6 1604.8h0M674 1599.3h0M685.7 1641.4h0M602.8 1601.8h0M682.3 1612.6h0M643.5 1621.2h0M649.9 1631.3h0M686.8 1634.4h0M621.8 1591.4h0M685.6 1636.1h0M702.5 1616.9h0M620.7 1591.9h0M614.5 1603.2h0M600.8 1607.3h0M642.6 1618.6h0M624.1 1608.3h0M699 1634.4h0M700.7 1639.9h0M698.8 1638.7h0M664.7 1608.4h0M682.2 1609.2h0M712.4 1597.4h0M703.6 1613.7h0M650.1 1631.4h0M631.7 1613.8h0M665.8 1608.3h0M626.6 1612.3h0M675.3 1600.3h0M633.3 1619.9h0M702.5 1623.5h0M680.1 1602h0M672.6 1593.7h0M620.7 1593.3h0M712.8 1608.1h0M603 1605.7h0M626.2 1611h0M619.4 1589.2h0M621.1 1592h0M712.3 1596.6h0M666.4 1596.4h0M686.9 1633.5h0M677.6 1588.3h0M710.5 1594.2h0M676.7 1589.1h0M708.4 1591.5h0M705.5 1590.3h0M605.1 1595.6h0M642.8 1617.9h0M702.7 1606.7h0M639.1 1618h0M674.3 1587.8h0M626.2 1600h0M618.3 1568.9h0M629.5 1584.9h0M630.9 1600.5h0M684.5 1628.4h0M669.1 1586.1h0M695.4 1619.6h0M660.5 1618.5h0M608.2 1601h0M712.3 1594.1h0M631 1604.8h0M602.1 1594.6h0M689.7 1631.7h0M601.6 1590.9h0M693.2 1626.3h0M622.8 1576.4h0M673.4 1587.4h0M713.4 1589.7h0M619.7 1568.4h0M668.2 1582h0M601.3 1601.2h0M691.1 1633.5h0M620.8 1587.9h0M666.5 1592.8h0M690.2 1630.6h0M690 1621.3h0M712.2 1594.9h0M640.9 1610.8h0M637.1 1603.7h0M597.4 1602.4h0M597.5 1607.8h0M597.5 1613.5h0M596.9 1618.3h0M597.7 1624.2h0M597.6 1628.3h0M597 1634.1h0M596.8 1639.7h0M597.2 1643.9h0M597.4 1647.4h0M597.5 1652.7h0M597.6 1658.6h0M597 1663.4h0M597 1667.6h0M597.8 1672.3h0M597 1676.1h0M597 1682.1h0M597 1688.2h0M596.8 1694h0M597.2 1699.3h0M597.6 1703.3h0M597.7 1707h0M597.5 1711.7h0M596.8 1716.9h0M596.7 1721.2h0M597.6 1727.2h0M597.6 1732.5h0M597.6 1736.2h0M597.9 1740.3h0M596.8 1743.9h0M596.7 1750h0M597.8 1753.7h0M597.4 1759.8h0M596.9 1764.3h0M597.4 1769.4h0M597.7 1773.3h0M596.7 1779h0M597.6 1782.6h0M597.5 1787.7h0M597.2 1792.6h0M597.7 1796.9h0M596.8 1801.7h0M716.5 1595.4h0M716.5 1601.3h0M717 1605.9h0M717.1 1611.7h0M716.4 1616.1h0M716.9 1621h0M716.5 1626.3h0M716.9 1631.4h0M715.9 1635.9h0M716.1 1640h0M717 1643.7h0M716.8 1648.9h0M716.4 1653.8h0M716.9 1657.9h0M716.3 1662.7h0M716.9 1668.4h0M716.4 1674.9h0M716.8 1679.7h0M716 1684.5h0M716.2 1689.4h0M716.8 1693.7h0M716.6 1698.2h0M715.9 1702.6h0M716.8 1708.5h0M716.6 1714.1h0M716.4 1718.1h0M716.8 1724.1h0M716.6 1729.4h0M715.8 1733.4h0M715.8 1739.4h0M716.3 1743.7h0M716.7 1749.3h0M717 1755.4h0M716.1 1759.7h0M716.2 1763.6h0M717 1767.4h0M716.4 1772.6h0M716.9 1776.3h0M716.8 1780.5h0M716.1 1784.6h0M716.5 1788.5h0M716.5 1792.9h0M716.1 1798.5h0M598.1 1805.5h0M603.8 1805.2h0M621.4 1805.3h0M629.1 1805.6h0M634.1 1806.3h0M644.3 1805.4h0M649.2 1805.5h0M655.8 1806.1h0M671.7 1806.2h0M700 1805.4h0M715.1 1805.5h0M671.6 1479.2h0M671.6 1481.4h0M671.8 1483.8h0M671.9 1486.2h0M671.8 1488.3h0M671.5 1490.9h0M672.3 1493.5h0M672.4 1496.2h0M671.9 1499.3h0M671.5 1501.3h0M672.3 1504h0M671.6 1506.4h0M672 1509.3h0M671.6 1511.9h0M672 1514.5h0M672.3 1517.4h0M672.3 1519.5h0M671.8 1521.9h0M672.2 1524.3h0M671.5 1526.8h0M671.6 1529.4h0M671.5 1531.4h0M671.9 1533.8h0M671.6 1535.8h0M672 1538.9h0M672 1542.1h0M672.1 1545.3h0M671.5 1547.7h0M672.2 1549.9h0M671.7 1552.7h0M672.1 1554.9h0M671.7 1558h0M672 1561.2h0M671.6 1563.4h0M672.4 1566.3h0M671.7 1568.5h0M671.6 1570.7h0M671.8 1573h0M672.1 1575.3h0M671.7 1577.6h0M671.6 1580.1h0M671.5 1582.1h0M672.1 1584.1h0M671.9 1586.2h0M623.7 1528h0M662.6 1528h0M682.6 1536.1h0M708.8 1531.9h0M703.3 1553.4h0M703.3 1561.2h0M703.3 1569h0M598.2 1558.6h0M602.1 1574.2h0M611.2 1547h0M626.8 1547h0M637.2 1565.4h0M646.2 1569h0M646.2 1575.5h0M632 1588.5h0M661.8 1576.8h0M681.3 1576.8h0M689 1585.9h0M699.4 1584h0M709.8 1587.2h0M716.3 1588.5h0" stroke="#4682b4" stroke-width="9.8" stroke-linecap="round" fill="none"/></g>
<g><path d="M730.4 1802.1L730.4 1602.4L731.4 1605.9L732.4 1609.4L733.4 1612.8L734.4 1612.8L735.4 1612.8L736.4 1612.8L737.4 1612.8L738.4 1612.8L739.4 1612.8L740.4 1612.8L741.4 1614L742.4 1618.5L743.4 1623L744.4 1627.5L745.4 1632L746.4 1636L747.4 1636L748.4 1636L749.4 1636L750.4 1636L751.4 1636L752.4 1636L753.4 1636L754.4 1636L755.4 1636L756.4 1636L757.4 1633.4L758.4 1630.7L759.4 1628L760.4 1625.4L761.4 1622.7L762.4 1620L763.4 1617.4L764.4 1615.4L765.4 1615.4L766.4 1615.4L767.4 1615.4L768.4 1615.4L769.4 1615.4L770.4 1615.4L771.4 1615.4L772.4 1615.7L773.4 1618L774.4 1620.4L775.4 1622.7L776.4 1625L777.4 1627.4L778.4 1629.7L779.4 1632L780.4 1633.2L781.4 1633.2L782.4 1633.2L783.4 1633.2L784.4 1633.2L785.4 1633.2L786.4 1633.2L787.4 1633.2L788.4 1633.2L789.4 1633.2L790.4 1633.1L791.4 1631.7L792.4 1630.3L793.4 1628.9L794.4 1627.5L795.4 1626.1L796.4 1624.7L797.4 1623.3L798.4 1621.9L799.4 1620.5L800.4 1619.1L801.4 1617.7L802.4 1616.3L803.4 1614L804.4 1610L805.4 1606L806.4 1606.6L807.4 1610.6L808.4 1614.6L809.4 1615.4L810.4 1615.4L811.4 1615.4L812.4 1615.4L813.4 1615.4L814.4 1615.4L815.4 1615.4L816.4 1615.4L817.4 1615.4L818.4 1615.4L819.4 1615.2L820.4 1615L821.4 1614.7L822.4 1614.5L823.4 1614.2L824.4 1614L825.4 1613.7L826.4 1613.5L827.4 1613.2L828.4 1613L829.4 1608.2L830.4 1597.2L831.4 1586.2L832.4 1579.4L833.4 1591.9L834.4 1607.9L835.4 1610.3L836.4 1610.3L837.4 1610.3L838.4 1610.3L839.4 1610.3L840.4 1610.3L841.4 1610.3L842.4 1610.3L842.4 1802.1Z" fill="#0000ff" stroke="#0000ff" stroke-width="9.8" stroke-linejoin="round"/><path d="M730.4 1581.7h0M730.1 1584.3h0M730 1587h0M729.8 1589.2h0M805.2 1581.7h0M805.1 1584.3h0M805.2 1587.2h0M805.9 1590h0M806 1592.8h0M832.5 1555.7h0M832 1558.2h0M832.4 1561.2h0M832 1563.8h0M833.2 1566.2h0M825.2 1611.6h0M758.2 1619.9h0M829.7 1592h0M797.4 1622.4h0M782.5 1625.2h0M837.6 1608.3h0M834.2 1603.8h0M755.5 1622.7h0M732.8 1610.1h0M791.2 1630.1h0M837.6 1599.6h0M839 1600.1h0M750.4 1625.8h0M841.9 1609.4h0M769.8 1608.2h0M822.6 1611.6h0M830.9 1582.8h0M756.4 1629.2h0M835 1604.8h0M828 1601.9h0M787.2 1632h0M794.3 1624.6h0M820.8 1607.1h0M807.6 1606.3h0M779.6 1625.3h0M821.1 1613.2h0M840.9 1601.4h0M806.1 1598.3h0M825.8 1603h0M782.7 1622.8h0M820.3 1610.9h0M731.1 1591.7h0M746.2 1630.3h0M817.2 1606.2h0M739.3 1607h0M799.2 1612.6h0M760.7 1614.9h0M756.4 1633.4h0M773.1 1612.9h0M791.9 1620.2h0M761.7 1616.8h0M827 1612.2h0M747.6 1625.7h0M741.5 1602.6h0M773.7 1615.3h0M833 1578.2h0M746.7 1627.3h0M746.5 1621.4h0M794.7 1610.4h0M749.6 1621.4h0M830.7 1573.8h0M797.7 1607.7h0M763.9 1595.9h0M732.1 1589.4h0M837.5 1592.2h0M735.8 1599.7h0M818.3 1601.3h0M777.6 1610.3h0M806 1589.9h0M806.8 1583.4h0M782.8 1617.7h0M807.2 1587.3h0M807.3 1584.5h0M817.9 1586.7h0M758.4 1612.1h0M753.8 1622.4h0M768.6 1587.9h0M763.4 1602.5h0M834.2 1574.9h0M815.2 1600.2h0M822.6 1601.2h0M731.5 1592.6h0M767.9 1601.1h0M826.6 1597.5h0M825.7 1597.3h0M772.1 1600.4h0M735.7 1596.8h0M836.9 1579.4h0M834.7 1596.7h0M779.9 1611.2h0M747.6 1622.7h0M753.4 1622.6h0M813.3 1596.1h0M841.1 1597h0M729.3 1589.4h0M729.9 1595.3h0M728.9 1599.1h0M730.1 1604.9h0M729.3 1609h0M729.6 1613h0M730 1617h0M729.5 1621.9h0M730.2 1628h0M730.1 1632.5h0M730 1637.7h0M728.9 1642.2h0M729.3 1647.6h0M729.9 1652.9h0M728.9 1658.5h0M729.1 1662.3h0M729.9 1666.8h0M729.1 1672.3h0M729.9 1676.3h0M729.9 1681.3h0M728.9 1686.3h0M729.6 1689.9h0M729.9 1694h0M728.9 1699.2h0M729.4 1704.1h0M729 1709.7h0M729.7 1716.1h0M729 1720.2h0M729 1725.5h0M729.1 1729.4h0M730 1733.3h0M729.7 1737.1h0M729.3 1741.9h0M729.6 1748.2h0M729.6 1753.4h0M729.8 1758.1h0M729.8 1761.6h0M729.1 1767.3h0M729.6 1772.8h0M729.9 1777.6h0M728.9 1781.8h0M729.6 1787h0M729.5 1792.2h0M729.6 1796.5h0M729 1801.3h0M842.9 1597.3h0M842.9 1602.1h0M842.7 1608.5h0M842.6 1613.4h0M843.2 1618.3h0M842.8 1621.8h0M843.2 1626.8h0M842.6 1631.3h0M843 1635.7h0M843.3 1639.5h0M843.3 1643.7h0M842.6 1649.3h0M843.4 1654.3h0M843.5 1660.5h0M843.4 1666.5h0M843.6 1670.7h0M843.2 1676.5h0M842.6 1682.7h0M843 1689h0M843.6 1694.1h0M843.2 1698.1h0M842.6 1701.6h0M842.9 1708h0M842.7 1712.8h0M843.2 1719.1h0M842.9 1725.1h0M842.9 1730h0M843.5 1735.3h0M843.3 1740.5h0M843.8 1745h0M842.8 1748.5h0M843.8 1754h0M842.9 1760.1h0M843.2 1766.4h0M843.4 1771.6h0M843.7 1776.9h0M843 1783.1h0M843 1789.3h0M842.8 1794.9h0M843 1800.3h0M747 1805.6h0M762 1806.2h0M773.4 1805.4h0M777.5 1805.6h0M787.6 1805.7h0M794.4 1805.3h0M798.9 1805.5h0M806.1 1805.4h0M813 1805.1h0M826.2 1805.6h0M807.9 1453h0M807.9 1521.8h0M813.6 1521.8h0M826.5 1525.7h0M730.6 1536.1h0M746.9 1540.5h0M767.4 1548.2h0M813.1 1556h0M789.7 1563.8h0M732.4 1569h0M761.7 1570.3h0M761.7 1580.7h0M788.9 1575.5h0M807.9 1567.7h0M788.9 1579.4h0M826.5 1576.8h0M843.9 1582h0M833.8 1548.2h0M833.8 1556h0" stroke="#0000ff" stroke-width="9.8" stroke-linecap="round" fill="none"/></g>
<g><path d="M857.5 1802.1L857.5 1573.9L858.5 1573.9L859.5 1573.9L860.5 1573.9L861.5 1573.9L862.5 1573.9L863.5 1573.5L864.5 1573L865.5 1572.5L866.5 1572L867.5 1571.5L868.5 1571L869.5 1571.3L870.5 1571.7L871.5 1572.1L872.5 1572.5L873.5 1572.9L874.5 1573.3L875.5 1573.7L876.5 1579.5L877.5 1591.5L878.5 1603.5L879.5 1615.5L880.5 1627.5L881.5 1636.4L882.5 1637L883.5 1637.7L884.5 1638.4L885.5 1639L886.5 1639.7L887.5 1640.4L888.5 1641L889.5 1641.4L890.5 1641.4L891.5 1641.4L892.5 1641.4L893.5 1641.4L894.5 1641.4L895.5 1641.4L896.5 1641.4L897.5 1641.4L898.5 1641.4L899.5 1630.6L900.5 1608.6L901.5 1618.2L902.5 1625.7L903.5 1625.7L904.5 1625.7L905.5 1625.7L906.5 1625.7L907.5 1625.7L908.5 1625.7L909.5 1625.7L910.5 1625.7L911.5 1625.7L912.5 1622.7L913.5 1616.7L914.5 1610.7L915.5 1604.7L916.5 1598.7L917.5 1594.7L918.5 1594.7L919.5 1594.7L920.5 1594.7L921.5 1594.7L922.5 1594.7L923.5 1594.7L924.5 1594.7L925.5 1594.7L926.5 1594.7L927.5 1594.7L928.5 1599.9L929.5 1608.9L930.5 1617.9L931.5 1626.9L932.5 1635.9L933.5 1641.4L934.5 1641.4L935.5 1641.4L936.5 1641.4L937.5 1641.4L938.5 1641.4L939.5 1641.4L940.5 1641.4L941.5 1641.4L942.5 1641.4L943.5 1641.4L944.5 1641.4L945.5 1641.4L946.5 1641.4L947.5 1641.4L948.5 1641.4L949.5 1641.4L950.5 1641.4L951.5 1641.4L952.5 1641.4L953.5 1641.4L954.5 1641.4L955.5 1641.4L956.5 1636.6L957.5 1625.3L958.5 1614L959.5 1602.6L960.5 1597.2L961.5 1596.9L962.5 1596.7L962.5 1802.1Z" fill="#4682b4" stroke="#4682b4" stroke-width="9.8" stroke-linejoin="round"/><path d="M868.7 1555.8h0M900.3 1571.3h0M900.3 1574.3h0M901.1 1577.7h0M901.1 1580.4h0M900.1 1582.9h0M900.1 1585.8h0M901.2 1588.5h0M900.4 1591.4h0M900.8 1593.8h0M963.6 1581.7h0M906.4 1618h0M897.1 1630h0M897.7 1635h0M877.9 1588h0M912.8 1618.8h0M908.2 1616.5h0M861.1 1567.2h0M893.6 1629h0M907.3 1620.3h0M894.4 1637.7h0M923.8 1581.6h0M862.7 1567.3h0M921 1588.5h0M881.6 1627.2h0M932.8 1631.9h0M913 1608.9h0M923.5 1587.4h0M857.8 1570.5h0M941.8 1641.2h0M956.4 1632.5h0M906.5 1615.4h0M931.4 1618.8h0M891.4 1629h0M921.1 1590.6h0M938.3 1629.5h0M879 1604.4h0M871.1 1570.3h0M954.9 1636.2h0M884.9 1632.6h0M937.9 1632.2h0M925.7 1589.1h0M952.9 1638.2h0M927.7 1589h0M950.9 1635.8h0M929.8 1603.7h0M868.8 1564.9h0M880.8 1633.1h0M880.7 1626h0M892.5 1630.1h0M918.1 1585.2h0M961.8 1591.5h0M868.1 1561.6h0M869.2 1564h0M912.9 1610.1h0M928.1 1579.5h0M943.6 1622.7h0M884.6 1616.5h0M860.6 1559.6h0M860.5 1545.8h0M913.7 1594.5h0M961.4 1583.5h0M952 1628.3h0M931.1 1601.5h0M897.9 1617.3h0M938 1624.9h0M887 1626.2h0M865.5 1555.6h0M912.6 1608.7h0M913.2 1606.3h0M889.2 1622.8h0M873.4 1556.2h0M871.5 1548.4h0M879.7 1589.1h0M953.9 1611.7h0M887.1 1621.3h0M864.8 1541.9h0M930.2 1600.2h0M872 1558.8h0M894 1614.5h0M940.3 1626.4h0M942.5 1628.3h0M914.7 1595.2h0M865.4 1546.9h0M926.5 1559.7h0M924.7 1576.8h0M870.9 1555.7h0M951.6 1624.3h0M924.5 1578.6h0M895.1 1628.3h0M857 1560.9h0M857.2 1565h0M856.3 1568.7h0M856.4 1575.1h0M857 1581.1h0M856.8 1587.2h0M857 1593.2h0M856.6 1597.6h0M856.9 1601.8h0M856.3 1607.5h0M856.4 1613.9h0M856.7 1618.5h0M856.5 1623.7h0M856.5 1630h0M856.7 1636.4h0M857.2 1641.2h0M856.7 1645.7h0M856.7 1649.2h0M856.9 1653.1h0M856.1 1659.2h0M856.5 1663.1h0M857.2 1668h0M856.6 1672.4h0M856.5 1677.2h0M856.5 1680.9h0M857 1686.2h0M856.1 1691.4h0M856.5 1697.6h0M856.3 1702.7h0M856.4 1707.5h0M856.6 1712.2h0M856.5 1717.9h0M856.8 1723.2h0M856.4 1727.7h0M856.7 1732.5h0M856.9 1737.2h0M856.1 1742.6h0M856.4 1746.6h0M856.5 1751.7h0M856.8 1757.2h0M856.8 1760.8h0M856.5 1765.8h0M856.4 1772.1h0M856.8 1777.6h0M857.1 1783.5h0M856.6 1789.6h0M856.4 1794.5h0M856 1799.6h0M962.8 1583.7h0M963 1589h0M964 1593.2h0M963.1 1598.3h0M963 1602.9h0M962.9 1607.1h0M963.6 1613.6h0M962.8 1618.1h0M963.8 1624.6h0M963.8 1628.3h0M964 1633.5h0M963.2 1638.3h0M963.4 1641.8h0M963.8 1646.1h0M963.8 1650.2h0M963.7 1654.7h0M963.9 1660.4h0M963.2 1665.6h0M963 1669.9h0M963.1 1673.7h0M963.8 1678.1h0M963.3 1681.7h0M962.9 1686.7h0M963 1692.3h0M962.9 1698h0M963.1 1704.1h0M962.9 1707.9h0M962.9 1712h0M963.9 1716.5h0M963.2 1721.1h0M962.8 1726.9h0M963.8 1730.6h0M962.9 1735.1h0M963.7 1739.2h0M963.2 1745.6h0M963.3 1751.2h0M963.1 1755.3h0M963 1759.8h0M962.8 1765.7h0M963.6 1770.4h0M963.9 1774h0M963.5 1779.3h0M962.9 1783.4h0M964 1789.4h0M963.7 1793h0M962.8 1797.1h0M857.5 1806.1h0M864.9 1805.2h0M879.6 1805.2h0M883.9 1805.4h0M898.4 1805.8h0M903.8 1805.7h0M909.4 1806.1h0M924.8 1805.1h0M929.7 1806h0M943.8 1805.1h0M949.7 1806.1h0M957.3 1806h0M875.3 1480.5h0M875.8 1483h0M875.4 1486h0M875 1489.2h0M875.4 1492.1h0M874.9 1494.5h0M875.7 1497.2h0M875.7 1499.4h0M875 1502.6h0M875.3 1505.2h0M874.9 1507.6h0M875.8 1510h0M875.8 1513h0M875.3 1515.6h0M875.2 1517.7h0M875.8 1520.3h0M875.5 1522.4h0M875.8 1524.5h0M875.5 1526.7h0M875 1529.5h0M875.2 1532h0M875.2 1534.3h0M875.5 1536.3h0M875.4 1539.5h0M875.3 1542h0M875.6 1544.1h0M874.9 1547h0M874.9 1549.4h0M874.8 1552.3h0M874.9 1555.3h0M875 1558.3h0M875.3 1432.8h0M875.3 1443.2h0M875.3 1453.6h0M900 1480.8h0M900 1487.3h0M900 1493.8h0M900 1527.5h0M900 1535.3h0M913.4 1514h0M913.4 1537.9h0M913.4 1556h0M960.1 1506.7h0M960.1 1511.9h0M856.9 1523.6h0M856.9 1537.9h0M889.6 1534h0M930.8 1523.9h0M960.1 1533.5h0M950.3 1546.2h0M960.1 1551.4h0M931.6 1565.4h0M938.1 1566.4h0M945.9 1569.5h0M955 1579.4h0" stroke="#4682b4" stroke-width="9.8" stroke-linecap="round" fill="none"/></g>
<g><path d="M975.9 1802.1L975.9 1606.4L976.9 1606.5L977.9 1606.7L978.9 1606.9L979.9 1607L980.9 1607.2L981.9 1607.4L982.9 1607.5L983.9 1607.6L984.9 1607.6L985.9 1607.6L986.9 1607.6L987.9 1607.6L988.9 1607.6L989.9 1607.6L990.9 1607.6L991.9 1607.6L992.9 1607.6L993.9 1607.1L994.9 1605.6L995.9 1604.1L996.9 1603.4L997.9 1603.8L998.9 1604.2L999.9 1604.7L1000.9 1605.1L1001.9 1605.5L1002.9 1605.9L1003.9 1606.4L1004.9 1606.8L1005.9 1607.2L1006.9 1607.7L1007.9 1608.1L1008.9 1608.5L1009.9 1608.9L1010.9 1609.3L1011.9 1609.7L1012.9 1610.1L1013.9 1610.5L1014.9 1610.9L1015.9 1611.3L1016.9 1611.7L1017.9 1612.1L1018.9 1612.5L1019.9 1613L1020.9 1615.6L1021.9 1618.3L1022.9 1621L1023.9 1623.6L1024.9 1626.3L1025.9 1629L1026.9 1631.6L1027.9 1633L1028.9 1633L1029.9 1633L1030.9 1633L1031.9 1633L1032.9 1633L1033.9 1633L1034.9 1633L1035.9 1633L1036.9 1633L1037.9 1632.4L1038.9 1627.9L1039.9 1623.4L1040.9 1618.9L1041.9 1614.4L1042.9 1610.1L1043.9 1608.6L1044.9 1607.1L1045.9 1605.6L1046.9 1604.1L1047.9 1602.6L1048.9 1602.2L1049.9 1602L1050.9 1601.7L1051.9 1601.5L1052.9 1601.2L1053.9 1601L1054.9 1600.7L1055.9 1600.5L1056.9 1600.2L1057.9 1600L1058.9 1596.5L1059.9 1589.9L1060.9 1590.9L1061.9 1594.7L1062.9 1594.7L1063.9 1594.7L1064.9 1594.7L1065.9 1594.7L1066.9 1596.5L1067.9 1601.9L1068.9 1607.2L1069.9 1612.5L1070.9 1615.4L1071.9 1615.4L1072.9 1615.4L1073.9 1615.4L1074.9 1615.4L1075.4 1615.4L1075.4 1802.1Z" fill="#0000ff" stroke="#0000ff" stroke-width="9.8" stroke-linejoin="round"/><path d="M995.2 1586.9h0M995.4 1590.3h0M1060.7 1560.9h0M1059.9 1563.6h0M1061 1566.4h0M1060.7 1568.6h0M1060.9 1571.5h0M1000.7 1603h0M986.7 1603.3h0M1005.1 1593.6h0M992.6 1605.5h0M991.5 1606.5h0M990.6 1606.6h0M981.1 1602.4h0M1029 1627.3h0M1068 1591h0M1074.7 1609.4h0M1056.4 1589.9h0M1075.1 1611.5h0M1022.8 1610h0M1063.3 1588.5h0M1074.3 1613.8h0M1050.4 1598h0M992.6 1605.3h0M1047 1591.5h0M982.8 1595h0M997.7 1600.5h0M1052.3 1597.1h0M1012.6 1609h0M991 1596.8h0M1019.8 1602.6h0M1049.1 1599.9h0M1049.9 1592.5h0M1033.6 1623.4h0M1030.5 1626.4h0M991.1 1605.5h0M1056.7 1597.1h0M985 1596.9h0M1050.5 1599.2h0M1037.3 1632h0M1018.3 1601.4h0M1023.1 1611.2h0M1013.8 1607.4h0M1008.1 1604h0M1034.9 1619.3h0M1026.7 1629.8h0M1040.3 1619.1h0M1039.5 1625.6h0M979.8 1591.3h0M995.6 1584.8h0M1005.2 1588.6h0M1041.1 1605.9h0M1037 1618h0M1001.1 1586.9h0M1038.8 1613.7h0M1046.6 1591.5h0M981.4 1583.4h0M1068.3 1576.8h0M1074.9 1595.7h0M1032.5 1616.2h0M1029.1 1605.6h0M1072.1 1599.6h0M996 1587.3h0M1018 1590.8h0M1067.6 1584h0M984.1 1590.8h0M988.7 1590.8h0M1057.4 1581.5h0M1022.4 1605.8h0M1068.5 1581.3h0M1024.5 1611.7h0M1043.2 1593.8h0M1015.4 1595.7h0M1003.3 1592.4h0M1040.6 1604.5h0M1018.8 1592.5h0M1025.9 1615.1h0M1002.6 1588.6h0M1042.2 1594.2h0M1050.1 1586.8h0M1052.2 1584h0M975.4 1593.4h0M974.9 1597.3h0M974.5 1603.3h0M974.6 1609.3h0M975.4 1614.5h0M974.6 1618.9h0M975.1 1623.2h0M975.7 1628.4h0M975.4 1632.2h0M974.7 1638.1h0M975.5 1641.9h0M975.5 1648.3h0M974.9 1654.2h0M974.7 1660.3h0M974.7 1664.1h0M975.6 1669.8h0M975.3 1676.1h0M975 1681h0M975 1686.2h0M974.6 1689.9h0M975.6 1694.9h0M975.4 1699.9h0M974.8 1704.7h0M975.5 1710.5h0M974.4 1714.9h0M975.5 1720.2h0M975.4 1725.6h0M974.8 1729.3h0M975.5 1733.1h0M974.4 1738.7h0M974.7 1742.4h0M975.6 1746.3h0M975.7 1749.8h0M974.5 1755.5h0M975.5 1759.1h0M975.2 1762.7h0M975.4 1767.2h0M975.6 1773.1h0M975.5 1778.5h0M975.5 1784h0M974.4 1788.1h0M975.1 1792.4h0M974.4 1797.9h0M1075.7 1602.4h0M1076.5 1607.9h0M1076.1 1613.2h0M1075.7 1619.2h0M1076.3 1624.3h0M1076.6 1630.6h0M1076.1 1634.8h0M1076.1 1640.1h0M1076.9 1643.7h0M1075.8 1648.6h0M1075.6 1652.6h0M1075.8 1658.8h0M1076.8 1664h0M1076.4 1669.8h0M1076.5 1674.1h0M1075.9 1680.1h0M1076.1 1684.3h0M1076.8 1689.5h0M1075.9 1694.8h0M1075.8 1700.5h0M1075.6 1704.3h0M1076.3 1709.5h0M1076.3 1714.4h0M1075.9 1718.5h0M1076.1 1723.8h0M1076.8 1728.8h0M1076.6 1733.7h0M1076.2 1737.3h0M1075.9 1741h0M1076.1 1745.1h0M1076.8 1749h0M1076 1753.4h0M1076.1 1757.2h0M1076.3 1763h0M1076.4 1769.2h0M1076.2 1774.6h0M1076.2 1780.6h0M1075.9 1784.6h0M1075.7 1790.4h0M1076.4 1794.5h0M1076.2 1800h0M975.9 1805.8h0M980.1 1806.3h0M986.4 1805.8h0M994.3 1805.5h0M1011.6 1806h0M1027.6 1805h0M1040.9 1806.3h0M1046.5 1805.2h0M1007.5 1545.1h0M1007.5 1552.9h0M1044.3 1569.5h0M1011.9 1574.2h0M1018.4 1576.3h0M993.2 1582.5h0M1070.3 1576.3h0M1062.5 1554.7h0M1074.1 1597.5h0M1035.2 1592.4h0" stroke="#0000ff" stroke-width="9.8" stroke-linecap="round" fill="none"/></g>
<g><path d="M1089 1802.1L1089 1605.1L1090 1605.1L1091 1605.1L1092 1605.3L1093 1605.6L1094 1605.9L1095 1606.1L1096 1606.4L1097 1606.7L1098 1607L1099 1607.3L1100 1607.6L1101 1610.6L1102 1614.6L1103 1618.6L1104 1622.6L1105 1626.6L1106 1628.4L1107 1628.4L1108 1628.4L1109 1628.4L1110 1628.4L1111 1628.4L1112 1628.4L1113 1628.4L1114 1628.4L1115 1628.4L1116 1628.4L1117 1628.4L1118 1628.4L1119 1628.4L1120 1628.4L1121 1628.4L1122 1628.4L1123 1628.4L1124 1628.4L1125 1628.4L1126 1628.4L1127 1628.4L1128 1628.4L1129 1628.4L1130 1628.4L1131 1628.4L1132 1627.4L1133 1626.4L1134 1625.4L1135 1624.4L1136 1623.4L1137 1622.4L1138 1621.4L1139 1621.8L1140 1622.3L1141 1622.8L1142 1623.3L1143 1623.6L1144 1624L1145 1624.3L1146 1624.6L1147 1625L1148 1625.3L1149 1625.6L1150 1626L1151 1626.3L1152 1626.6L1153 1627L1154 1627.3L1155 1627.6L1156 1628L1157 1628.3L1158 1628.3L1159 1628.3L1160 1628.3L1161 1628.3L1162 1628.3L1163 1628.3L1164 1628.3L1165 1628.3L1166 1628.3L1167 1628.3L1168 1627.4L1169 1625.9L1170 1624.4L1171 1622.9L1172 1621.4L1173 1620.6L1174 1620.6L1175 1620.6L1176 1620.6L1177 1620.6L1178 1620.6L1178 1802.1Z" fill="#4682b4" stroke="#4682b4" stroke-width="9.8" stroke-linejoin="round"/><path d="M1137.2 1605.1h0M1137.5 1607.8h0M1109 1623.9h0M1177.4 1608.2h0M1148.2 1618.3h0M1092.4 1593.7h0M1116.2 1624.1h0M1100.8 1601.8h0M1144.2 1620.5h0M1177.6 1618.4h0M1106 1622.2h0M1142.9 1617.4h0M1142.2 1614.7h0M1110.2 1623.8h0M1166.7 1623.8h0M1147.6 1624.5h0M1111.6 1622.5h0M1162.6 1623.4h0M1089.1 1598.2h0M1161.7 1617.1h0M1124.1 1628.2h0M1129.4 1622h0M1142.2 1621.2h0M1129.6 1627h0M1151.8 1618.1h0M1143.7 1614h0M1093.6 1598.5h0M1093.1 1595.8h0M1164.1 1627.9h0M1106.6 1616.7h0M1120.4 1620.7h0M1101.6 1609.9h0M1103 1612.1h0M1113.2 1623.5h0M1099.3 1600.4h0M1164.5 1614.5h0M1106.2 1615.4h0M1163.4 1623.7h0M1110.6 1627h0M1104.4 1608.2h0M1154 1609.7h0M1094.9 1592.9h0M1105.4 1600.8h0M1169 1611.1h0M1093.3 1587.7h0M1106.7 1604.3h0M1170.8 1602.3h0M1158.1 1607.8h0M1163 1612.9h0M1153.3 1614.1h0M1150.8 1610.4h0M1176.6 1599.9h0M1129.3 1609.3h0M1141.1 1605h0M1089.7 1590.8h0M1111.9 1609.3h0M1170.5 1605.7h0M1156.5 1610.1h0M1102 1600.1h0M1140.8 1602.8h0M1126.3 1609.5h0M1118.7 1613.5h0M1104 1606.9h0M1140.6 1609h0M1171.8 1608.4h0M1154.1 1612.2h0M1172.5 1606h0M1091.3 1586.3h0M1088.3 1592.1h0M1087.9 1598h0M1087.9 1602.8h0M1088.4 1608.4h0M1088 1612.5h0M1088.7 1617.7h0M1088.2 1621.7h0M1088.1 1625.4h0M1088.4 1630.1h0M1087.8 1635.9h0M1088 1639.6h0M1088 1646h0M1088.5 1652.5h0M1088.4 1656.7h0M1088.6 1660.9h0M1088.2 1665.1h0M1087.8 1671.1h0M1087.8 1674.7h0M1088.5 1680.1h0M1087.7 1683.6h0M1088.5 1687.5h0M1087.8 1691.9h0M1087.6 1698.3h0M1087.7 1704.3h0M1088.7 1709.2h0M1088.6 1713.4h0M1088.6 1717.3h0M1088.7 1721.7h0M1087.7 1726.1h0M1088.1 1730.4h0M1088.8 1736.4h0M1088.1 1742.1h0M1087.6 1745.7h0M1088.7 1751.6h0M1088.1 1758h0M1088.5 1763.4h0M1087.9 1767h0M1088.6 1772.6h0M1088.1 1776.2h0M1088.4 1780.6h0M1088.1 1786.7h0M1087.9 1790.6h0M1088.1 1796.2h0M1178.8 1607.6h0M1178.3 1613.1h0M1178.6 1617.5h0M1178.9 1622.3h0M1179.1 1626.1h0M1178.5 1629.8h0M1178.2 1635h0M1179.3 1639.5h0M1178.7 1645.2h0M1179.2 1649.2h0M1178.3 1655.3h0M1178.9 1660.1h0M1178.5 1665.7h0M1179 1671.6h0M1179.4 1677.5h0M1179.1 1683.1h0M1178.6 1687.5h0M1179.3 1692.1h0M1178.6 1697.4h0M1178.9 1703.6h0M1179.1 1710h0M1178.7 1715.7h0M1178.8 1722.2h0M1178.7 1727.7h0M1178.4 1732.8h0M1178.7 1737.4h0M1178.4 1743.1h0M1179 1747.2h0M1179.4 1752.1h0M1178.8 1755.7h0M1179.2 1761.7h0M1178.9 1766.2h0M1178.2 1770.9h0M1178.5 1774.7h0M1178.5 1780.8h0M1178.9 1785.2h0M1179 1790.7h0M1178.6 1795.2h0M1179.2 1798.7h0M1089 1805.3h0M1095 1805.4h0M1099.4 1805.7h0M1104.7 1806.1h0M1108.9 1805.4h0M1113.2 1805.6h0M1119.9 1805.5h0M1133.3 1806h0M1141 1806.1h0M1146.5 1805h0M1151.5 1805.3h0M1169.3 1805.3h0M1176.9 1805.8h0M1091.8 1555.7h0M1092 1558.3h0M1091.9 1560.9h0M1091.4 1563.3h0M1092.3 1565.5h0M1091.3 1568.2h0M1091.9 1570.5h0M1092.3 1573.1h0M1091.4 1576.2h0M1092.3 1579.1h0M1092.2 1582h0M1091.9 1584.5h0M1092.1 1587.3h0M1092.1 1590.2h0M1176.1 1566.1h0M1176.3 1568.8h0M1176 1571.2h0M1176.1 1574.3h0M1175.5 1577.1h0M1175.7 1579.3h0M1175.4 1582.1h0M1175.5 1584.9h0M1175.6 1587.1h0M1176.1 1589.7h0M1175.6 1592.9h0M1176.2 1595h0M1176.3 1597.7h0M1175.5 1600.6h0M1175.6 1603h0M1175.6 1605.5h0M1171.9 1484.2h0M1132.5 1533.2h0M1176.6 1546.4h0M1091.8 1550.1h0M1104.8 1555.3h0M1126 1567.2h0M1140.8 1565.9h0M1159.2 1567.7h0M1150.7 1576.3h0M1150.7 1583.3h0M1104.8 1576.8h0M1132 1583.3h0M1132 1588.5h0M1123.4 1600.1h0M1105.3 1589.8h0" stroke="#4682b4" stroke-width="9.8" stroke-linecap="round" fill="none"/></g>
<g><path d="M1190.2 1802.1L1190.2 1612.8L1191.2 1612.8L1192.2 1612.8L1193.2 1612.8L1194.2 1612.8L1195.2 1612.8L1196.2 1612.8L1197.2 1614.5L1198.2 1619.2L1199.2 1623.9L1200.2 1628.5L1201.2 1630.5L1202.2 1632.5L1203.2 1634.5L1204.2 1636.5L1205.2 1638.5L1206.2 1640.5L1207.2 1643.5L1208.2 1647.5L1209.2 1651.5L1210.2 1655.5L1211.2 1656.9L1212.2 1656.9L1213.2 1656.9L1214.2 1656.9L1215.2 1656.9L1215.7 1656.9L1215.7 1802.1Z" fill="#0000ff" stroke="#0000ff" stroke-width="9.8" stroke-linejoin="round"/><path d="M1201 1597.3h0M1201.1 1599.7h0M1200.3 1603.1h0M1201.1 1606.3h0M1200.2 1609.4h0M1200.8 1612.3h0M1200.4 1615h0M1194.2 1610h0M1198 1615h0M1201.1 1626.4h0M1197.5 1604.1h0M1207.2 1633.1h0M1195.4 1605.3h0M1202.8 1631.9h0M1208 1639.6h0M1201.4 1624.9h0M1193.5 1603h0M1205.6 1612.4h0M1205.5 1625.3h0M1214.9 1636h0M1195.9 1597.5h0M1191 1592.7h0M1195.7 1591.1h0M1208.5 1629h0M1204.6 1623.1h0M1189.9 1599.8h0M1190 1605.1h0M1189 1610.2h0M1189.4 1614.1h0M1189.8 1619.2h0M1189.2 1623.3h0M1189.8 1627.4h0M1188.8 1631.5h0M1189.8 1637.7h0M1189.4 1642.9h0M1189.7 1646.5h0M1190 1652h0M1189.6 1658.3h0M1188.7 1662.9h0M1189.8 1666.8h0M1189.6 1671.7h0M1189.2 1676.2h0M1189.4 1682.5h0M1189.5 1686.2h0M1189.4 1692.2h0M1189.7 1695.9h0M1189.5 1700.1h0M1189.1 1704.5h0M1189.9 1710.2h0M1188.9 1714.1h0M1189 1720.3h0M1189.1 1724.3h0M1189.1 1728h0M1188.9 1732.2h0M1189.4 1738.2h0M1188.8 1743.9h0M1189.1 1750.1h0M1189.5 1755.4h0M1189.8 1761h0M1189.9 1765.8h0M1189.1 1769.6h0M1189.7 1774.4h0M1189.6 1780.7h0M1189.3 1785.9h0M1188.7 1789.9h0M1188.8 1795.7h0M1188.8 1800.1h0M1217.1 1643.9h0M1216.1 1648h0M1216 1651.7h0M1215.9 1657.3h0M1216.3 1662.2h0M1215.9 1667.9h0M1217.1 1673.6h0M1216.4 1678h0M1216.3 1683.7h0M1217.2 1689.7h0M1216.5 1693.9h0M1216.6 1697.8h0M1217.1 1702.5h0M1217.2 1708.2h0M1217 1714.1h0M1216.7 1718.8h0M1216.3 1722.6h0M1217.2 1728.9h0M1216.5 1732.9h0M1216.7 1737.6h0M1216.2 1742.9h0M1216.5 1749h0M1216.8 1754.9h0M1216.5 1761.3h0M1216.9 1766.6h0M1215.9 1770.8h0M1216.8 1776.7h0M1216.9 1782.4h0M1217 1786.5h0M1217.1 1792h0M1217 1797.1h0M1216.1 1800.8h0M1195.7 1806.2h0M1211.3 1805.4h0M1190.9 1560.9h0M1190.9 1563.3h0M1190.5 1565.6h0M1190.6 1568.4h0M1190.8 1571.6h0M1191.1 1573.9h0M1190.9 1535.3h0M1190.9 1547.5h0M1214.2 1567.7h0M1207.7 1571.6h0M1202.6 1576.3h0M1209.6 1587.7h0M1215 1596.8h0M1206.5 1610.5h0M1214.2 1620.9h0M1215.5 1640.3h0" stroke="#0000ff" stroke-width="9.8" stroke-linecap="round" fill="none"/></g>
<g><path d="M1232.2 1802.1L1232.2 1667.3L1233.2 1667.3L1234.2 1667.3L1235.2 1667.3L1236.2 1664.3L1237.2 1636.3L1238.2 1630.2L1239.2 1629.2L1240.2 1628.2L1241.2 1627.2L1242.2 1626.2L1243.2 1625.2L1244.2 1624.2L1245.2 1623.1L1246.2 1619.6L1247.2 1616.1L1248.2 1612.6L1249.2 1609.1L1250.2 1605.6L1251.2 1595L1252.2 1583L1253.2 1573.2L1254.2 1570.2L1255.2 1567.2L1256.2 1564.2L1257.2 1561.2L1258.2 1564.2L1259.2 1570.2L1260.2 1573.6L1261.2 1573.6L1262.2 1573.6L1263.2 1573.6L1264.2 1573.6L1265.2 1573.6L1266.2 1573.6L1267.2 1573.6L1268.2 1573.6L1269.2 1573.6L1270.2 1573.6L1271.2 1572.8L1272.2 1572L1273.2 1571.2L1274.2 1570.4L1275.2 1569.6L1276.2 1568.8L1276.2 1802.1Z" fill="#0000ff" stroke="#0000ff" stroke-width="9.8" stroke-linejoin="round"/><path d="M1257.5 1545.4h0M1276.2 1535h0M1276.2 1538.4h0M1275.8 1540.6h0M1276.6 1543.5h0M1276.3 1546h0M1276.3 1548.7h0M1276.5 1551.1h0M1275.8 1554.1h0M1243.6 1617.3h0M1241.8 1622.1h0M1250.1 1599.8h0M1250.2 1598.7h0M1236 1664h0M1250.9 1591.6h0M1269.5 1563.7h0M1267 1565.6h0M1237.3 1630.3h0M1244.5 1612.5h0M1275.8 1568.3h0M1253 1574.3h0M1261.7 1563.9h0M1237.9 1624.8h0M1240.6 1624.3h0M1258.4 1553.3h0M1266.4 1573.2h0M1253.3 1572.8h0M1252 1569.9h0M1252.5 1561.8h0M1272.6 1554.9h0M1274.5 1556.1h0M1249.1 1596h0M1234.5 1648.1h0M1233.7 1653.1h0M1251.3 1569.3h0M1242.6 1612.7h0M1263.1 1554.7h0M1238.3 1604h0M1270.3 1546.9h0M1268.5 1556.7h0M1263.1 1560h0M1231.2 1654.3h0M1231.6 1658.9h0M1231.9 1663.3h0M1231 1669.3h0M1231.3 1672.8h0M1231.3 1676.4h0M1230.8 1680.4h0M1231.3 1684.8h0M1230.8 1689.1h0M1231.6 1692.6h0M1231 1696.8h0M1230.9 1701.4h0M1231.8 1705.9h0M1231.9 1710.8h0M1231.3 1714.7h0M1231.7 1719.9h0M1231.3 1724h0M1231.4 1728.8h0M1231.8 1734.3h0M1231.9 1737.9h0M1231.1 1743.8h0M1231.6 1747.7h0M1230.8 1752.1h0M1231.1 1756.9h0M1232 1760.6h0M1231.2 1764.8h0M1230.9 1769.6h0M1231.1 1775.6h0M1230.8 1782.1h0M1231.9 1788.3h0M1231.8 1793h0M1231.3 1798.3h0M1231.9 1802.1h0M1277.2 1555.8h0M1277 1560.5h0M1277.3 1565.9h0M1276.9 1571.6h0M1277.5 1575.6h0M1276.7 1579.2h0M1277.2 1583.3h0M1276.5 1588.6h0M1277.2 1593.7h0M1276.5 1599.2h0M1276.8 1604.9h0M1276.6 1609.6h0M1277.2 1615.6h0M1277.1 1621.5h0M1276.9 1625.4h0M1276.5 1629.1h0M1276.4 1635h0M1276.5 1639.7h0M1277.7 1645.5h0M1276.9 1649.1h0M1276.7 1655.5h0M1277.7 1659.9h0M1276.9 1666.2h0M1277.4 1671.7h0M1276.4 1676.3h0M1277.3 1680.9h0M1277 1687.3h0M1276.9 1692h0M1276.4 1697.4h0M1277.6 1703.6h0M1276.4 1707.2h0M1276.6 1711.6h0M1277.5 1717.4h0M1277.6 1722.6h0M1276.7 1726.8h0M1277 1731.4h0M1277.6 1735.5h0M1276.8 1741.3h0M1276.8 1745.4h0M1277.3 1750.1h0M1277.6 1756h0M1276.7 1759.7h0M1277.6 1764.3h0M1277.3 1769.2h0M1277 1775.2h0M1277.4 1779.8h0M1277.7 1785.2h0M1277.6 1789.6h0M1277.5 1794.5h0M1277.1 1799.9h0M1232.2 1805.4h0M1247.3 1805.6h0M1254.1 1806.1h0M1260.9 1805.7h0M1271.7 1805.3h0M1277 1528.3h0M1277 1532.2h0M1255.7 1535.3h0M1260.9 1536.1h0M1239.4 1566.9h0M1231.9 1585.6h0M1246.7 1555h0M1235 1611.8h0" stroke="#0000ff" stroke-width="9.8" stroke-linecap="round" fill="none"/></g>
<g><path d="M1288.8 1802.1L1288.8 1602.5L1289.8 1602.5L1290.8 1602.5L1291.8 1602.5L1292.8 1602.5L1293.8 1602.5L1294.8 1602.5L1295.8 1602.5L1296.8 1602.5L1297.8 1602.5L1298.8 1602.5L1299.8 1602.4L1300.8 1602.1L1301.8 1601.8L1302.8 1601.4L1303.8 1601.1L1304.8 1600.8L1305.8 1600.4L1306.8 1612.7L1307.8 1622.7L1308.8 1632.7L1309.8 1642.7L1310.8 1647.7L1311.8 1647.7L1312.8 1647.7L1313.8 1647.7L1314.8 1647.7L1315.8 1647.7L1316.8 1647.7L1317.8 1647.7L1318.8 1647.7L1319.8 1647.7L1320.8 1645.2L1321.8 1633.9L1322.8 1622.5L1323.8 1611.2L1324.8 1606.4L1325.8 1607.4L1326.8 1608.4L1327.8 1609.4L1328.8 1610.7L1329.8 1613.2L1330.8 1615.7L1331.8 1618.2L1332.8 1620.7L1333.8 1623.2L1334.8 1623.2L1335.8 1623.2L1336.8 1623.2L1337.8 1623.2L1338.8 1623.2L1339.8 1623.2L1340.8 1623.2L1341.8 1623.2L1342.8 1623.2L1343.8 1623.2L1344.8 1616.7L1345.8 1610.2L1346.8 1603.7L1347.8 1597.2L1348.8 1590.7L1349.8 1589.5L1350.8 1589.5L1351.8 1589.5L1352.8 1589.5L1353.8 1589.5L1354.8 1589.5L1355.8 1589.5L1356.8 1589.5L1357.8 1589.5L1358.8 1589.5L1359.8 1590.2L1360.8 1602.2L1361.8 1614.2L1362.8 1620.9L1363.8 1621.4L1364.8 1621.9L1365.8 1622.4L1366.8 1622.9L1367.8 1623.2L1368.8 1623.2L1369.8 1623.2L1370.8 1623.2L1371.3 1623.2L1371.3 1802.1Z" fill="#4682b4" stroke="#4682b4" stroke-width="9.8" stroke-linejoin="round"/><path d="M1307.2 1571.3h0M1306.4 1574.3h0M1307.3 1577h0M1306.4 1580.4h0M1306.1 1583.7h0M1306.5 1587.1h0M1306.1 1590.5h0M1307.4 1593.5h0M1306.9 1596.7h0M1306.4 1599.1h0M1360.3 1585.3h0M1317.1 1642.3h0M1313.8 1636.7h0M1360.4 1583.8h0M1341 1614.9h0M1327.6 1607.6h0M1350.3 1586.3h0M1290.1 1599.8h0M1354.2 1575.5h0M1307.4 1613.9h0M1360.5 1589.8h0M1362.1 1607.4h0M1310.2 1645.2h0M1354.2 1578.6h0M1335.7 1615.3h0M1349.7 1581.1h0M1315.1 1644.3h0M1346.2 1598h0M1347.7 1586.9h0M1330.1 1603.1h0M1317.1 1639.5h0M1296 1592.8h0M1317.8 1638.2h0M1330.6 1614.3h0M1358.9 1579.6h0M1299.9 1589.7h0M1361.8 1610.9h0M1349.7 1588.2h0M1321.9 1622.3h0M1296.3 1594.1h0M1352.1 1576.7h0M1324.9 1593.6h0M1306.4 1598.8h0M1342.4 1622.4h0M1315.2 1633.3h0M1293.8 1588.4h0M1291.6 1589.5h0M1298.3 1585.6h0M1326.4 1583.1h0M1328.8 1597.3h0M1300.8 1583.1h0M1369.6 1603.3h0M1308.1 1612.5h0M1324.8 1590.6h0M1312.1 1633.8h0M1290.9 1578.9h0M1369.2 1591.1h0M1320.1 1628.9h0M1305.8 1586.8h0M1289 1587.4h0M1354.6 1572.7h0M1308 1611.4h0M1333.4 1607.9h0M1325.7 1581.2h0M1325.7 1572.4h0M1348.4 1580.3h0M1364.5 1603h0M1325.3 1592.9h0M1343.1 1609.2h0M1326.8 1594.6h0M1322.9 1592.4h0M1287.8 1589.5h0M1287.8 1594.5h0M1287.8 1600h0M1288.3 1604.3h0M1287.4 1609.6h0M1287.9 1615.8h0M1287.8 1620.1h0M1287.9 1623.8h0M1287.3 1629.6h0M1288.3 1633.4h0M1287.8 1638.3h0M1288.4 1644.7h0M1287.9 1648.6h0M1288.5 1654.5h0M1287.6 1659.1h0M1288.3 1663.9h0M1287.6 1667.6h0M1287.9 1672.7h0M1287.6 1678.2h0M1288.1 1682.9h0M1288.5 1689.2h0M1288 1695h0M1288.2 1700.1h0M1288.2 1706.4h0M1288.5 1710.9h0M1287.5 1717.1h0M1288.4 1720.7h0M1288.5 1725.1h0M1287.5 1730.1h0M1287.9 1735.7h0M1288.2 1742.2h0M1288.2 1746.6h0M1288 1751.9h0M1287.9 1755.8h0M1287.4 1762.2h0M1287.4 1767.6h0M1287.9 1772.5h0M1288.3 1778.1h0M1287.9 1783.4h0M1287.9 1787.8h0M1287.7 1791.8h0M1288 1795.7h0M1287.9 1799.3h0M1372.5 1610.2h0M1372.5 1613.8h0M1372.7 1618.2h0M1371.6 1622.7h0M1371.8 1628.2h0M1372.1 1634.1h0M1372.2 1638.4h0M1371.8 1642.6h0M1371.8 1646.3h0M1371.7 1650.5h0M1372 1655.2h0M1372.2 1660.5h0M1372.3 1666.1h0M1372.6 1671h0M1371.8 1674.9h0M1372.6 1678.4h0M1372 1684.6h0M1372.2 1690.6h0M1372.6 1696.9h0M1371.8 1701.4h0M1372.7 1706.1h0M1371.9 1711h0M1372 1714.6h0M1372 1720.9h0M1372.6 1726.8h0M1372.4 1733.1h0M1371.9 1738.1h0M1372.5 1744.4h0M1371.5 1750.1h0M1372.4 1755.6h0M1371.9 1759.5h0M1371.8 1764.3h0M1371.7 1768.2h0M1371.5 1773h0M1372 1778.9h0M1371.8 1783.2h0M1372.2 1787.7h0M1372 1793.3h0M1372.2 1799h0M1295.8 1805.5h0M1310.3 1805.9h0M1315.1 1805.6h0M1321.6 1805.9h0M1335.2 1805.6h0M1361.6 1805.9h0M1369.2 1806.1h0M1322.9 1555.7h0M1323.2 1558.8h0M1323.3 1561.9h0M1322.8 1564.2h0M1322.9 1567.3h0M1323.2 1569.5h0M1323.3 1572.4h0M1323.5 1574.4h0M1323 1577.2h0M1323.2 1580.3h0M1322.8 1583.3h0M1323.4 1585.6h0M1323.4 1588.5h0M1322.7 1591.3h0M1322.7 1594.3h0M1323 1596.6h0M1322.8 1599.2h0M1322.8 1601.7h0M1290 1536.8h0M1324 1546.4h0M1288.2 1561.2h0M1303.7 1558.6h0M1308.9 1553.4h0M1314.1 1552.1h0M1324 1561.2h0M1338.8 1568.5h0M1349.1 1569h0M1363.4 1569h0M1372 1581.2h0M1372.5 1605.8h0M1356.9 1576.8h0" stroke="#4682b4" stroke-width="9.8" stroke-linecap="round" fill="none"/></g>
<g><path d="M1383.2 1802.1L1383.2 1571.3L1384.2 1571.3L1385.2 1571.3L1386.2 1573.3L1387.2 1576.8L1388.2 1580.3L1389.2 1583.8L1390.2 1587.3L1391.2 1591.7L1392.2 1597.7L1393.2 1603.7L1394.2 1609.7L1395.2 1615.7L1396.2 1620.5L1397.2 1620.5L1398.2 1620.5L1399.2 1620.5L1400.2 1620.5L1401.2 1620.5L1402.2 1620.5L1403.2 1620.5L1404.2 1620.5L1405.2 1620.5L1406.2 1620.5L1407.2 1619.5L1408.2 1618.5L1409.2 1617.5L1410.2 1616.5L1411.2 1615.5L1412.2 1610.5L1413.2 1605.5L1414.2 1600.5L1415.2 1595.5L1416.2 1590.5L1417.2 1587.1L1418.2 1584.1L1419.2 1581.1L1420.2 1586.3L1421.2 1601.3L1422.2 1611.8L1423.2 1611.8L1424.2 1611.8L1425.2 1611.8L1426.2 1611.8L1427.2 1611.8L1428.2 1611.8L1429.2 1611.8L1430.2 1611.8L1431.2 1611.8L1432.2 1611.8L1433.2 1607.3L1434.2 1602.8L1435.2 1598.3L1436.2 1593.8L1437.2 1589.4L1438.2 1587.4L1439.2 1585.4L1440.2 1583.4L1441.2 1594.1L1442.2 1608.1L1443.2 1615.9L1444.2 1616.9L1445.2 1617.9L1446.2 1618.9L1447.2 1619.9L1448.2 1620.9L1449.2 1621.9L1450.2 1622.9L1451.2 1622.9L1452.2 1622.9L1453.2 1622.9L1454.2 1622.9L1455.2 1622.9L1456.2 1622.9L1457.2 1622.9L1458.2 1622.9L1459.2 1622.9L1460.2 1622.9L1461.2 1622.2L1462.2 1620.7L1463.2 1619.2L1463.7 1618.4L1463.7 1802.1Z" fill="#0000ff" stroke="#0000ff" stroke-width="9.8" stroke-linejoin="round"/><path d="M1419.7 1560.9h0M1420.4 1563.3h0M1419.5 1565.5h0M1419.8 1568.8h0M1419.7 1572.1h0M1441 1566.1h0M1441.6 1568.8h0M1441.4 1571.5h0M1440.7 1574.3h0M1441.5 1577.5h0M1441.1 1579.7h0M1464.1 1602.4h0M1464.4 1605.1h0M1421.4 1590.1h0M1452.8 1619.9h0M1415.1 1592.5h0M1426.9 1607h0M1402.4 1617.3h0M1435.4 1598.3h0M1404.3 1612.1h0M1445.9 1608h0M1444.8 1615.3h0M1396.6 1616.6h0M1406.6 1609.8h0M1411.5 1609.9h0M1434.6 1591.9h0M1438.1 1584.8h0M1399 1618.6h0M1425.1 1606.7h0M1452.5 1611.9h0M1420.9 1589.7h0M1384.5 1562.8h0M1426.8 1604.1h0M1423.8 1609.5h0M1392.4 1593.7h0M1405.9 1607.6h0M1420.4 1574.1h0M1420.1 1574.6h0M1419 1569h0M1463.4 1608.1h0M1418.9 1577.1h0M1437.4 1576.2h0M1451.4 1614.1h0M1389.9 1577.5h0M1433.3 1598.4h0M1441.8 1591.4h0M1448.9 1594.9h0M1448.9 1608.6h0M1417 1570.3h0M1414 1586.5h0M1430.6 1598.2h0M1396.7 1604.7h0M1463.4 1603.8h0M1460.9 1604.3h0M1435.2 1573.1h0M1430.1 1592.1h0M1421.2 1580.3h0M1453.6 1609.9h0M1458.4 1609.8h0M1434.7 1587.2h0M1444.1 1601.1h0M1394.2 1587.4h0M1403.1 1595.9h0M1414.1 1583.4h0M1419 1560.9h0M1411.7 1596.4h0M1401.7 1605.4h0M1392.1 1583.1h0M1405.6 1601.6h0M1394.9 1598.8h0M1461.5 1603.3h0M1390.1 1564.2h0M1382 1558.3h0M1381.7 1563.7h0M1382.8 1568.8h0M1382.9 1572.3h0M1382.3 1577.2h0M1382.9 1583.2h0M1382.9 1586.9h0M1381.8 1591.5h0M1382.9 1597.3h0M1382.8 1602.6h0M1382.6 1606.8h0M1382.6 1611h0M1382.5 1615.2h0M1382.3 1620.5h0M1382.6 1626.2h0M1382.2 1629.7h0M1382.7 1634.2h0M1381.8 1638.9h0M1382.1 1644.2h0M1382.3 1647.8h0M1381.9 1653.4h0M1382.9 1659.2h0M1383 1665.7h0M1382.4 1671.5h0M1381.8 1677.8h0M1382.9 1683.5h0M1382.8 1689h0M1382.8 1693.7h0M1382.9 1698.1h0M1382.9 1703.3h0M1382 1707.5h0M1382.2 1711.9h0M1382.2 1718h0M1381.8 1723.9h0M1382.7 1728.2h0M1381.8 1734.6h0M1381.8 1739.1h0M1382.7 1742.9h0M1382.9 1749h0M1382.7 1755h0M1382.8 1760.8h0M1382.2 1765.8h0M1381.9 1771h0M1382.1 1774.6h0M1382.3 1780.7h0M1382 1784.9h0M1382.7 1789.7h0M1382 1795.5h0M1382.3 1801.5h0M1463.9 1605.4h0M1463.9 1610.6h0M1464.1 1616h0M1463.9 1621.8h0M1464.2 1627.4h0M1464.5 1633.9h0M1465 1638.9h0M1465.2 1643.3h0M1463.9 1647.6h0M1464.4 1652h0M1464 1657.3h0M1464.9 1663.5h0M1465.2 1669.2h0M1464.8 1672.9h0M1464.1 1678.9h0M1464.2 1683.7h0M1464.5 1690h0M1464.2 1695.9h0M1464.9 1701.3h0M1464.2 1705.8h0M1464.7 1709.5h0M1464.2 1714.3h0M1464.3 1718.7h0M1464.7 1722.6h0M1464.2 1726.6h0M1465.2 1731.1h0M1464.2 1736.8h0M1465.1 1742.8h0M1464.9 1747.3h0M1464.6 1752.7h0M1464.8 1758.9h0M1465.1 1764.3h0M1464 1769.2h0M1464.8 1772.7h0M1465 1777.6h0M1464.2 1784.1h0M1464.6 1788.2h0M1464 1791.7h0M1464.3 1795.4h0M1464.1 1800.3h0M1390.5 1806h0M1403 1806.1h0M1408 1805h0M1414.4 1805.6h0M1419.1 1806.2h0M1431.4 1805.6h0M1442.7 1805.4h0M1447.5 1806h0M1455.2 1805.2h0M1459.9 1805.5h0M1465.1 1568.7h0M1465.2 1571.3h0M1465 1573.5h0M1464.7 1576h0M1465.2 1578.4h0M1464.9 1581.1h0M1465.2 1583.2h0M1464.6 1585.4h0M1465.3 1588.6h0M1464.9 1591.7h0M1465.4 1594.6h0M1464.6 1597.4h0M1465 1599.7h0M1465.2 1602.2h0M1464.8 1604.4h0M1420.5 1458.2h0M1389.3 1467.6h0M1389.3 1499.7h0M1381 1512.7h0M1389.3 1517.1h0M1389.3 1532.7h0M1412.7 1526.7h0M1420.5 1530.1h0M1411.9 1541h0M1465.1 1538.4h0M1465.1 1547h0M1434 1552.1h0M1442 1561.2h0M1456.8 1592.9h0M1398.4 1574.2h0" stroke="#0000ff" stroke-width="9.8" stroke-linecap="round" fill="none"/></g>
<g><path d="M1477.5 1802.1L1477.5 1589.5L1478.5 1589.5L1479.5 1589.5L1480.5 1589.5L1481.5 1589.5L1482.5 1589.5L1483.5 1589.5L1484.5 1589.5L1485.5 1589.5L1486.5 1589.5L1487.5 1589.5L1488.5 1589.5L1489.5 1589.5L1490.5 1588.8L1491.5 1587.9L1492.5 1587.1L1493.5 1586.2L1494.5 1585.4L1495.5 1584.5L1496.5 1583.7L1497.5 1583.8L1498.5 1588.8L1499.5 1593.8L1500.5 1598.8L1501.5 1603.8L1502.5 1613.6L1503.5 1625L1504.5 1636.3L1505.5 1647.6L1506.5 1649.7L1507.5 1650.4L1508.5 1651.1L1509.5 1651.7L1510.5 1651.7L1511.5 1651.7L1512.5 1651.7L1513.5 1651.7L1514.5 1651.7L1515.5 1651.7L1516.5 1651.7L1517.5 1651.7L1518.5 1651.7L1519.5 1651.7L1520.5 1618.7L1521.5 1609.3L1522.5 1609.5L1523.5 1609.6L1524.5 1609.8L1525.5 1609.9L1526.5 1610.1L1527.5 1610.2L1528.5 1610.5L1529.5 1610.7L1530.5 1611L1531.5 1611.2L1532.5 1611.5L1533.5 1611.7L1534.5 1612L1535.5 1612.2L1536.5 1612.5L1537.5 1612.7L1538.5 1612.8L1539.5 1612.8L1540.5 1612.8L1541.5 1612.8L1542.5 1612.8L1543.5 1612.8L1544.5 1612.8L1545.5 1612.8L1546.5 1612.8L1547.5 1612.8L1548.5 1604.1L1549.5 1586L1550.5 1579.3L1551.5 1572.6L1552.5 1588.8L1553.5 1607.8L1554.5 1610.3L1555.5 1610.3L1556.5 1610.3L1557.5 1610.3L1558.5 1610.3L1558.5 1802.1Z" fill="#4682b4" stroke="#4682b4" stroke-width="9.8" stroke-linejoin="round"/><path d="M1498.3 1566.1h0M1498.1 1568.5h0M1498.9 1570.7h0M1498.5 1573.2h0M1551.1 1548h0M1552.1 1550.8h0M1551.9 1553.3h0M1551.8 1556.4h0M1551.7 1559h0M1512.9 1648.1h0M1538.1 1609.3h0M1512.6 1639.8h0M1491.5 1578.1h0M1523 1596.4h0M1502.6 1601.7h0M1520.8 1598h0M1544.1 1599.7h0M1506.4 1646.2h0M1545 1604.3h0M1553.8 1608.6h0M1523 1600.2h0M1493.1 1582.3h0M1482.3 1584.6h0M1496 1572.7h0M1527.3 1601.7h0M1482 1577.6h0M1541.4 1604.3h0M1540.6 1607.5h0M1477.7 1580.3h0M1526 1599.4h0M1488.2 1589.5h0M1503.7 1625.9h0M1513.2 1651.6h0M1495.8 1570.5h0M1530.1 1606.5h0M1545.1 1600.4h0M1491.7 1580.2h0M1500 1584.2h0M1488.9 1576.1h0M1512.1 1639.6h0M1479.8 1576.8h0M1534.4 1607h0M1505.4 1644.9h0M1481.1 1573.8h0M1553 1585h0M1489.5 1573.2h0M1505.9 1636.1h0M1545.4 1592h0M1525 1594.1h0M1522.5 1593h0M1523.5 1594.7h0M1543.5 1596.2h0M1496.6 1566.3h0M1540.5 1596.4h0M1503.7 1613.7h0M1533.3 1597.7h0M1549.2 1570.3h0M1511.4 1635.1h0M1539 1598.9h0M1492.3 1570.7h0M1478.7 1573.6h0M1487.8 1575.4h0M1507.1 1625.8h0M1527 1595.5h0M1529.1 1594h0M1477.6 1573.6h0M1534.3 1590.7h0M1555.7 1597.2h0M1519.1 1636.3h0M1513.5 1630.2h0M1476.7 1576.5h0M1476.3 1581.6h0M1476.5 1587.7h0M1477.1 1592.8h0M1477 1597.4h0M1476.4 1603.3h0M1476.5 1607.2h0M1476.1 1613.3h0M1476.8 1617.9h0M1476.7 1623h0M1476.1 1629.4h0M1476 1635.6h0M1476 1639.4h0M1476.9 1644h0M1476.7 1649.3h0M1476 1653.4h0M1477.1 1657.5h0M1476.2 1662.2h0M1476.7 1668.1h0M1477.1 1672.8h0M1476.3 1678.7h0M1476.4 1682.8h0M1476.8 1689h0M1476.3 1693.2h0M1476.7 1698.6h0M1476.8 1702.1h0M1477 1707.7h0M1476.3 1712.7h0M1477.1 1717.2h0M1476.4 1722.7h0M1476.1 1728.1h0M1476.6 1732.7h0M1476.1 1737.5h0M1476.9 1742h0M1476.2 1746.6h0M1477 1752.3h0M1476 1758.3h0M1476.2 1762.8h0M1476.5 1768.4h0M1477.3 1772.6h0M1476.8 1778.7h0M1476.1 1784.7h0M1476.3 1790.7h0M1476.2 1796.4h0M1559.8 1597.3h0M1559.1 1603.4h0M1558.8 1609.7h0M1559.8 1613.7h0M1559.9 1618.8h0M1558.7 1623.3h0M1559.8 1627.3h0M1559.2 1633.2h0M1558.7 1638.7h0M1559 1645h0M1559.3 1649.1h0M1559.3 1654h0M1558.9 1659.7h0M1559.1 1665.6h0M1559.8 1670.3h0M1559.6 1676h0M1559.2 1681.9h0M1559.3 1686.4h0M1558.9 1692.4h0M1559.3 1698h0M1559.6 1704.4h0M1559.2 1710.6h0M1559 1715.5h0M1559.1 1719.7h0M1559.5 1723.8h0M1559.6 1729h0M1559.9 1734.8h0M1559.5 1739.8h0M1559.3 1744.9h0M1559.1 1749.4h0M1559.3 1753.9h0M1559.4 1758.8h0M1559.9 1764.3h0M1559.9 1769.5h0M1559.4 1774h0M1559.2 1779.2h0M1559 1784.1h0M1558.7 1790.6h0M1559.3 1796.5h0M1559.1 1801h0M1477.5 1805.8h0M1489.3 1805.1h0M1497.5 1805.4h0M1504.4 1805.1h0M1509.1 1805.8h0M1523.7 1805.1h0M1530.4 1805.8h0M1535.1 1805.3h0M1547.2 1805.8h0M1554.3 1805.3h0M1478.5 1519.4h0M1478.8 1522h0M1479.2 1524.7h0M1478.4 1527.1h0M1479.1 1529.6h0M1478.2 1532.6h0M1478.4 1534.8h0M1478.9 1537.8h0M1479 1540h0M1479 1543h0M1479 1545.4h0M1479.1 1547.7h0M1478.6 1549.9h0M1479 1552.3h0M1478.7 1555.2h0M1478.5 1557.8h0M1478.2 1560.5h0M1479.1 1563.4h0M1478.6 1565.9h0M1478.6 1568.6h0M1478.4 1571.8h0M1478.9 1574.3h0M1477.6 1497.1h0M1479.7 1508h0M1552.1 1512.4h0M1520.2 1545.7h0M1524.3 1551.4h0M1504.9 1551.4h0M1504.1 1559.9h0M1523.6 1569h0M1523.6 1582h0M1517.1 1591.1h0M1528.7 1592.4h0M1552.1 1541.8h0" stroke="#4682b4" stroke-width="9.8" stroke-linecap="round" fill="none"/></g>
<g><path d="M1582.3 1802.1L1582.3 1596.3L1583.3 1596.7L1584.3 1597.1L1585.3 1598.2L1586.3 1600L1587.3 1601.7L1588.3 1603.5L1589.3 1605.2L1590.3 1607L1591.3 1608.7L1592.3 1610.5L1593.3 1612.2L1594.3 1614L1595.3 1614.9L1596.3 1614.9L1597.3 1614.9L1598.3 1614.9L1599.3 1614.9L1600.3 1614.9L1601.3 1614.9L1602.3 1614.9L1603.3 1614.9L1604.3 1614.9L1605.3 1612.7L1606.3 1609L1607.3 1618.3L1608.3 1624.2L1609.3 1624.2L1610.3 1624.2L1611.3 1624.2L1612.3 1624.2L1613.3 1624.2L1614.3 1624.2L1615.3 1624.2L1616.3 1624.2L1617.3 1624.2L1618.3 1624.2L1619.3 1616.2L1620.3 1608.2L1621.3 1604.8L1622.3 1604.3L1623.3 1606.6L1624.3 1609.6L1625.3 1612.6L1626.3 1615.4L1627.3 1615.4L1628.3 1615.4L1629.3 1615.4L1630.3 1615.4L1631.3 1615.4L1632.3 1615.4L1633.3 1615.4L1634.3 1615.4L1635.3 1615.4L1636.3 1615.4L1637.3 1615.4L1638.3 1615.4L1639.3 1615.4L1640.3 1615.4L1640.3 1802.1Z" fill="#0000ff" stroke="#0000ff" stroke-width="9.8" stroke-linejoin="round"/><path d="M1605.5 1576.8h0M1606 1579.1h0M1606.2 1581.5h0M1606.3 1583.7h0M1605.8 1586.9h0M1606.2 1590.1h0M1623.9 1587h0M1623.7 1589.3h0M1624.5 1591.6h0M1624.9 1594.7h0M1603.3 1612.9h0M1628.2 1615.2h0M1582.8 1595.9h0M1606.2 1606.2h0M1594.3 1607.6h0M1625.9 1610.1h0M1622.6 1592.3h0M1635.3 1602.2h0M1629.8 1609.4h0M1618.3 1613.3h0M1628 1612.1h0M1596.7 1613.9h0M1606.4 1607.1h0M1595.7 1606.1h0M1594.6 1601.3h0M1590.5 1595.1h0M1612.2 1617h0M1588.4 1602.3h0M1619.1 1609.5h0M1598.1 1606.7h0M1635.1 1607.4h0M1611.4 1623.1h0M1605.4 1610.7h0M1586.2 1595.9h0M1589.3 1590.6h0M1587.2 1578.1h0M1634.1 1594.6h0M1611.2 1610.6h0M1612.4 1599.8h0M1624.1 1596.5h0M1639.5 1587.6h0M1616.4 1611.1h0M1623.6 1590.2h0M1582.5 1580.4h0M1583.3 1583.4h0M1621.6 1584.3h0M1601.1 1601h0M1598.1 1600.6h0M1614.5 1609.6h0M1635.2 1602.4h0M1595.6 1597h0M1608.2 1610.8h0M1604.7 1600.2h0M1581 1583.3h0M1581.2 1587.5h0M1581.5 1593h0M1581.4 1596.7h0M1581.7 1600.5h0M1581.8 1606.8h0M1581.9 1613.1h0M1582 1616.7h0M1580.9 1622.8h0M1581.6 1627.1h0M1581.2 1631.6h0M1581.5 1636h0M1581.7 1641.5h0M1581.2 1645.4h0M1582.1 1650.8h0M1581 1655.6h0M1581.2 1660.9h0M1581.8 1667.3h0M1581.9 1672h0M1581.3 1678.2h0M1581.2 1684.3h0M1581.1 1688.9h0M1581.4 1693.2h0M1581.1 1698.6h0M1581.1 1702.8h0M1581.2 1707.9h0M1581.4 1711.7h0M1581.2 1715.5h0M1581.6 1721.4h0M1581.2 1726.2h0M1580.8 1731.3h0M1581.2 1737.4h0M1582 1741.9h0M1581.8 1747.4h0M1581.2 1753.1h0M1582 1759.1h0M1581.6 1764.1h0M1581.7 1768.6h0M1581.5 1774.6h0M1581.9 1779.8h0M1581.2 1784.9h0M1581.6 1788.8h0M1581.3 1793.1h0M1580.8 1796.8h0M1580.9 1801.5h0M1641.4 1602.4h0M1641 1608.6h0M1641.3 1613.3h0M1640.8 1617.7h0M1641.3 1623.9h0M1641.1 1628.9h0M1641.4 1634.8h0M1640.9 1639.1h0M1640.5 1643.9h0M1640.6 1648.6h0M1640.9 1654.1h0M1640.7 1658.6h0M1640.8 1662.9h0M1641.1 1669h0M1640.9 1674.2h0M1641.2 1680.5h0M1641.3 1684.5h0M1641.8 1688h0M1640.7 1693.8h0M1641.6 1698.5h0M1641.5 1704.4h0M1640.7 1709.6h0M1641.2 1715.1h0M1640.5 1719h0M1641.7 1724.1h0M1641.3 1728.6h0M1641.6 1732.4h0M1640.9 1738.5h0M1641.4 1744.2h0M1641.6 1749h0M1640.8 1752.6h0M1641.5 1756.5h0M1640.8 1762.2h0M1641.1 1767.7h0M1641 1772.9h0M1641.2 1778.1h0M1640.9 1782.5h0M1641.3 1786.5h0M1640.8 1792.5h0M1641 1797.8h0M1640.5 1801.8h0M1586.8 1805.7h0M1591.6 1805.6h0M1614.9 1805h0M1620.1 1805.1h0M1628.9 1805.3h0M1635.1 1805.3h0M1604.8 1489.1h0M1604.8 1509.6h0M1636.4 1545.7h0M1622.1 1558.9h0M1584.5 1572.4h0M1606.6 1569.8h0M1641.1 1578.9h0M1620.8 1579.4h0M1596.2 1583.3h0M1636.4 1591.1h0M1614.9 1589h0" stroke="#0000ff" stroke-width="9.8" stroke-linecap="round" fill="none"/></g>
<g><path d="M1663.5 1802.1L1663.5 1615.4L1664.5 1615.4L1665.5 1615.4L1666.5 1615.4L1667.5 1615.4L1668.5 1615.4L1669.5 1615.4L1670.5 1615.4L1671.5 1615.4L1672.5 1615.4L1673.5 1610.8L1674.5 1605.8L1675.5 1600.8L1676.5 1595.8L1677.5 1590.8L1678.5 1589.5L1679.5 1589.5L1680.5 1589.5L1681.5 1593.3L1682.5 1598.3L1683.5 1603.3L1684.5 1608.3L1685.5 1613.3L1686.5 1615.3L1687.5 1615.3L1688.5 1615.3L1689.5 1615.3L1690.5 1615.3L1691.5 1615.3L1692.5 1615.3L1693.5 1615.3L1694.5 1615.3L1695.5 1615.3L1696.5 1614.1L1697.5 1611.8L1698.5 1609.6L1699.5 1607.3L1700.5 1605L1701.5 1602.7L1702.5 1608.9L1703.5 1617.9L1704.5 1623.2L1705.5 1623.2L1706.5 1623.2L1707.5 1623.2L1708.5 1623.2L1709.5 1623.2L1710.5 1623.2L1711.5 1623.2L1712.5 1623.2L1713.5 1623.2L1714.5 1623.2L1715.5 1623.2L1715.5 1802.1Z" fill="#4682b4" stroke="#4682b4" stroke-width="9.8" stroke-linejoin="round"/><path d="M1701.6 1581.7h0M1701.9 1585h0M1702.3 1587.4h0M1702.3 1589.8h0M1711.4 1616.5h0M1702.3 1606h0M1705.8 1617.7h0M1710 1619.7h0M1683.3 1594.5h0M1707.1 1622.2h0M1683.1 1599.7h0M1704.7 1619h0M1681.1 1580.7h0M1678.5 1585.1h0M1687.5 1604.4h0M1671.1 1612.8h0M1673.4 1599.2h0M1691.1 1602h0M1684.5 1597.1h0M1708.1 1617h0M1689.1 1607.8h0M1664.4 1613.3h0M1712.6 1609.3h0M1692.8 1612.3h0M1707.5 1622.6h0M1710.5 1599.4h0M1671.1 1580.4h0M1714.7 1605.1h0M1709.1 1608.7h0M1685.9 1601.7h0M1688 1580.3h0M1700.1 1590.1h0M1679.8 1575.3h0M1685.8 1600.6h0M1688.9 1598h0M1684.5 1590.8h0M1685 1594.4h0M1688.7 1593h0M1710 1605.8h0M1702.9 1598.6h0M1671.9 1600.6h0M1670.7 1595.2h0M1662.1 1602.4h0M1663 1607.9h0M1662.3 1611.8h0M1663.1 1617h0M1662.3 1623.5h0M1662 1629.8h0M1662.1 1635.7h0M1663.1 1642h0M1662.6 1646.6h0M1663.1 1652h0M1662.3 1656.3h0M1662.6 1662.7h0M1662.1 1669h0M1663 1675.2h0M1662.4 1679.9h0M1662.2 1685.8h0M1662.4 1689.7h0M1662.9 1693.2h0M1662.6 1696.9h0M1662.4 1700.8h0M1662.2 1705.5h0M1662 1710h0M1663.2 1713.8h0M1662.6 1718.8h0M1663.2 1724.8h0M1662.9 1728.9h0M1662.2 1733.7h0M1663 1739.2h0M1662.3 1743.8h0M1663.1 1749h0M1663.2 1753.6h0M1663 1758.5h0M1662.8 1762.9h0M1663.2 1769h0M1663.1 1772.7h0M1662.7 1777.5h0M1662.3 1783.8h0M1663.1 1788.1h0M1662.2 1793.3h0M1662.3 1797.4h0M1662 1802h0M1715.9 1610.2h0M1716.4 1616.1h0M1716.3 1620.8h0M1716.3 1627h0M1716.3 1632.2h0M1716.6 1635.8h0M1716.8 1639.6h0M1716.4 1643.1h0M1716.5 1647.4h0M1716.6 1652.8h0M1716.9 1658.7h0M1716 1662.6h0M1716.9 1667.5h0M1715.9 1672.2h0M1716.1 1677.3h0M1716.7 1681h0M1716.8 1685.9h0M1716.1 1689.7h0M1716.8 1693.6h0M1716.4 1698.4h0M1716.2 1702h0M1716.6 1706.7h0M1716.9 1710.9h0M1716.3 1715.4h0M1716.1 1720.3h0M1715.7 1724h0M1716.9 1730.2h0M1715.8 1735.6h0M1716.1 1739.7h0M1716.1 1743.3h0M1716.1 1747.6h0M1716.4 1753.6h0M1716.1 1760.1h0M1716.7 1763.8h0M1716.7 1769.5h0M1716.7 1774.1h0M1716.6 1777.9h0M1716.4 1783.5h0M1716.3 1788.8h0M1716.3 1793.6h0M1716.8 1799h0M1663.5 1805.5h0M1676.4 1806h0M1682.1 1805.6h0M1700.2 1806h0M1679 1548h0M1679.6 1551.1h0M1679.3 1554.2h0M1679.1 1557.1h0M1679.6 1559.6h0M1679.7 1562.4h0M1679.1 1564.6h0M1679.6 1567.7h0M1679.6 1570.7h0M1679.4 1573h0M1679.2 1575.2h0M1695.2 1550.6h0M1695.2 1552.8h0M1695.5 1555.6h0M1695.7 1558.7h0M1695.1 1561h0M1695.1 1563.5h0M1695.6 1566.5h0M1695.4 1569.3h0M1695.1 1571.7h0M1694.9 1574.6h0M1694.9 1577.8h0M1695.6 1580h0M1695 1583.1h0M1695.3 1586.3h0M1695.3 1588.4h0M1695.4 1590.7h0M1695.6 1593.4h0M1695.7 1596.5h0M1695.5 1599.4h0M1694.8 1493h0M1712.9 1535.3h0M1708.3 1541.2h0M1664.4 1565.9h0M1664.4 1582h0M1683.6 1557.3h0M1703.9 1576.8h0M1709.6 1583.3h0M1714.8 1596.2h0M1663.6 1598.8h0" stroke="#4682b4" stroke-width="9.8" stroke-linecap="round" fill="none"/></g>
<g><path d="M1737.4 1802.1L1737.4 1623.2L1738.4 1623.2L1739.4 1623.2L1740.4 1623.2L1741.4 1623.2L1742.4 1623.2L1743.4 1623.2L1744.4 1623.2L1745.4 1623.2L1746.4 1623.2L1747.4 1623.2L1748.4 1623.2L1749.4 1623.2L1750.4 1623.2L1751.4 1622.2L1752.4 1621.2L1753.4 1619.1L1754.4 1615.6L1755.4 1612.1L1756.4 1608.6L1757.4 1605.1L1758.4 1601.7L1759.4 1598.7L1760.4 1595.7L1761.4 1592.7L1762.4 1589.7L1763.4 1586.7L1764.4 1583.7L1765.4 1586.5L1766.4 1589.2L1767.4 1589.2L1768.4 1589.2L1769.4 1589.2L1770.4 1589.2L1771.4 1589.2L1772.4 1589.2L1773.4 1589.2L1774.4 1589.2L1775.4 1589.2L1776.4 1589.2L1777.4 1585.2L1778.4 1581.2L1779.4 1577.2L1780.4 1573.9L1781.4 1573.5L1782.4 1573.1L1783.4 1572.7L1784.4 1572.3L1785.4 1571.9L1786.4 1571.5L1787.4 1571.3L1787.4 1802.1Z" fill="#0000ff" stroke="#0000ff" stroke-width="9.8" stroke-linejoin="round"/><path d="M1765.1 1563.5h0M1765.3 1566.3h0M1764.2 1569.7h0M1768.1 1582.8h0M1758.5 1594.7h0M1747.8 1615.1h0M1767.1 1585.7h0M1772.7 1576.6h0M1747.9 1616h0M1776 1579h0M1774.3 1578.4h0M1752.6 1619.1h0M1747.2 1621h0M1764.9 1571.1h0M1760.9 1587.8h0M1743.6 1614.4h0M1761.7 1583.9h0M1783.5 1564.1h0M1782.2 1563.1h0M1774.7 1577.3h0M1766.6 1585.6h0M1778.8 1565.9h0M1774.6 1577.3h0M1785.7 1561.9h0M1780.1 1561.3h0M1786.7 1554.5h0M1748.4 1597.9h0M1776.9 1567.7h0M1758.8 1585.9h0M1769.2 1566.7h0M1774.3 1569.9h0M1740.5 1607.1h0M1751.9 1604.9h0M1770.8 1571.6h0M1737.5 1608.4h0M1751.7 1606h0M1751.6 1607.6h0M1748.5 1606.8h0M1781.5 1559.2h0M1785.4 1553.4h0M1736 1610.2h0M1736.2 1616.4h0M1736.9 1622.6h0M1736.7 1628h0M1736.8 1632h0M1737 1637.5h0M1736.1 1641.3h0M1737.2 1647.2h0M1737.2 1651.3h0M1735.9 1656.4h0M1736.4 1660.4h0M1736.2 1665.2h0M1736.2 1670.5h0M1735.9 1674.3h0M1737.1 1680.1h0M1736.1 1683.7h0M1736.7 1689.5h0M1736.4 1695.8h0M1737.1 1700.8h0M1736.7 1705.8h0M1736.7 1710.6h0M1736.7 1716.6h0M1736.9 1720.4h0M1736.5 1726.4h0M1736.1 1731h0M1736.7 1737.4h0M1736.8 1741.3h0M1736.1 1745.2h0M1736.8 1750.8h0M1736.1 1756.3h0M1737 1762.7h0M1736.4 1767.6h0M1736.5 1772.5h0M1736.7 1777.3h0M1736.7 1782.5h0M1736.7 1786.9h0M1737 1792.8h0M1736.9 1797.7h0M1787.6 1558.3h0M1788.8 1562.9h0M1787.9 1568.5h0M1788.2 1574.2h0M1787.7 1578h0M1788 1581.6h0M1788.9 1586.4h0M1788.3 1592.5h0M1788.4 1598h0M1788.1 1604h0M1787.9 1609.4h0M1787.9 1613.6h0M1788 1618.3h0M1787.6 1623.6h0M1788.4 1628.1h0M1788.6 1633.9h0M1788.4 1638.7h0M1788.8 1642.3h0M1788.6 1647.8h0M1788.1 1651.6h0M1788.7 1656h0M1787.8 1661.8h0M1787.9 1668.2h0M1788.3 1672.1h0M1788.8 1676.9h0M1788.8 1680.6h0M1788 1686.2h0M1788.5 1690.2h0M1788 1693.8h0M1788 1697.5h0M1788.7 1704h0M1788.4 1709.1h0M1788.6 1714.5h0M1788.8 1720.5h0M1788 1726.9h0M1787.9 1733.2h0M1788.4 1737h0M1788.7 1740.7h0M1788.6 1747.1h0M1788.3 1751.4h0M1788.2 1755.1h0M1787.8 1761h0M1788.1 1765h0M1788 1769.5h0M1787.7 1774h0M1788.2 1779.4h0M1788 1784.8h0M1788.6 1791h0M1788.1 1796.2h0M1737.4 1805.5h0M1743.7 1805.6h0M1755.2 1805.3h0M1761.8 1805.5h0M1767.5 1805.5h0M1771.7 1805.3h0M1775.8 1805.3h0M1781.2 1806.3h0M1740 1529.8h0M1739.9 1532.5h0M1739.2 1535.2h0M1739.3 1537.7h0M1739.5 1540.5h0M1739.3 1543h0M1739.4 1546.2h0M1739.5 1548.3h0M1739.3 1550.7h0M1739.6 1553.6h0M1740.1 1555.6h0M1740 1557.7h0M1739.7 1560.9h0M1739.2 1563.8h0M1740 1566.1h0M1739.3 1568.9h0M1739.2 1571.2h0M1739.8 1574.2h0M1739.7 1576.6h0M1739.4 1579.2h0M1739.2 1581.8h0M1740.1 1584.7h0M1739.6 1586.9h0M1739.8 1589.6h0M1739.5 1592.5h0M1739.5 1595.4h0M1739.7 1598.4h0M1740.1 1601.1h0M1739.7 1603.3h0M1739.2 1605.7h0M1739.4 1608.6h0M1787.3 1503.9h0M1787.9 1506.8h0M1787.6 1509.2h0M1787.6 1511.6h0M1787.4 1513.7h0M1787.5 1516.8h0M1787.8 1519.7h0M1787.8 1522.2h0M1787.7 1525h0M1787.5 1528h0M1787.6 1530.3h0M1787.6 1533.2h0M1787.6 1535.2h0M1787.3 1538.3h0M1787.4 1541h0M1787.9 1543.6h0M1787.3 1546h0M1788.1 1548.6h0M1787.5 1550.6h0M1787.6 1552.9h0M1787.7 1555.8h0M1787.7 1467.8h0M1787.7 1471.7h0M1787.7 1475.6h0M1787.7 1479.5h0M1787.7 1482.9h0M1744.6 1509.9h0M1764 1558.1h0M1744.6 1569h0M1739.7 1591.1h0M1778.6 1556h0M1751.9 1587.2h0" stroke="#0000ff" stroke-width="9.8" stroke-linecap="round" fill="none"/></g>
<g><path d="M1799.7 1802.1L1799.7 1599.9L1800.7 1599.9L1801.7 1599.9L1802.7 1599.9L1803.7 1599.9L1804.7 1599.9L1805.7 1600.7L1806.7 1602.7L1807.7 1604.7L1808.7 1606.7L1809.7 1608.7L1810.7 1610.3L1811.7 1610.3L1812.7 1610.3L1813.7 1610.3L1814.7 1610.3L1815.2 1610.3L1815.2 1802.1Z" fill="#4682b4" stroke="#4682b4" stroke-width="9.8" stroke-linejoin="round"/><path d="M1803.1 1593.3h0M1811.3 1600.9h0M1800 1599.5h0M1807.5 1604.3h0M1809.1 1598.5h0M1802.4 1598.9h0M1811.5 1593h0M1799.9 1585.1h0M1806.2 1588.3h0M1807 1587.6h0M1802.8 1583.1h0M1798.2 1586.9h0M1798.4 1593h0M1799.2 1597.4h0M1798.2 1602.3h0M1799.4 1606.5h0M1799.4 1612.5h0M1798.2 1617.6h0M1799.4 1622.8h0M1798.5 1627.2h0M1799.3 1632.7h0M1798.8 1637.6h0M1799.3 1641.6h0M1798.9 1646h0M1799 1652.4h0M1799.4 1658.6h0M1799.3 1663.5h0M1799.1 1667.2h0M1798.7 1672.7h0M1798.5 1677.1h0M1798.3 1682.7h0M1799.3 1688.3h0M1798.2 1694.1h0M1798.6 1700.3h0M1798.3 1704.1h0M1798.5 1709.1h0M1799.2 1715.4h0M1798.2 1719h0M1799.3 1725.2h0M1798.3 1730h0M1798.8 1735.4h0M1799.4 1741.9h0M1799.3 1746.5h0M1798.7 1752.9h0M1798.3 1757.1h0M1798.8 1763.4h0M1799.2 1769.7h0M1798.2 1775.3h0M1798.5 1779.5h0M1798.3 1785.5h0M1799 1789.8h0M1798.8 1793.6h0M1799.1 1799.7h0M1815.7 1597.3h0M1816.2 1602.2h0M1816.6 1608.1h0M1815.9 1612.7h0M1816.4 1618.4h0M1815.7 1624.3h0M1816.3 1630.4h0M1815.8 1635.7h0M1815.4 1641.4h0M1815.9 1647.1h0M1816.1 1652.9h0M1815.8 1657.4h0M1815.5 1662.4h0M1816.2 1666.7h0M1816.6 1670.8h0M1815.8 1675.9h0M1815.7 1679.9h0M1815.5 1684.6h0M1816.6 1689h0M1816.5 1695.3h0M1816.3 1701.7h0M1816.2 1708.1h0M1815.6 1712.8h0M1816.6 1718.3h0M1816.6 1724.6h0M1816.2 1729.4h0M1816.3 1735.9h0M1816.5 1742h0M1816.5 1747.1h0M1816.4 1751.7h0M1815.6 1756.5h0M1816.4 1762.5h0M1816 1767.9h0M1816.5 1772.2h0M1816.2 1777.7h0M1815.4 1783.6h0M1816.5 1789.5h0M1815.4 1793.4h0M1815.7 1799.5h0M1804.4 1805.1h0M1800.9 1512.4h0M1812.8 1537.1h0M1798.5 1556h0M1797.3 1569h0M1797.3 1575.5h0M1808.9 1571.6h0" stroke="#4682b4" stroke-width="9.8" stroke-linecap="round" fill="none"/></g>
<g><path d="M1828.2 1802.1L1828.2 1615.4L1829.2 1615.4L1830.2 1615.4L1831.2 1615.4L1832.2 1615.4L1833.2 1615.4L1834.2 1615.4L1835.2 1615.4L1836.2 1615.4L1837.2 1615.4L1838.2 1615.4L1839.2 1615.4L1840.2 1615.4L1841.2 1615.4L1842.2 1612.7L1843.2 1610L1844.2 1607.4L1845.2 1603.1L1846.2 1589.1L1847.2 1575.1L1848.2 1568L1849.2 1566.7L1850.2 1565.4L1851.2 1564L1851.2 1802.1Z" fill="#4682b4" stroke="#4682b4" stroke-width="9.8" stroke-linejoin="round"/><path d="M1846.4 1577.2h0M1846.8 1579.5h0M1845 1589.6h0M1835.1 1610.7h0M1847.3 1568h0M1844 1599.7h0M1841.6 1604h0M1832.8 1613.6h0M1840.9 1605.9h0M1835 1600.4h0M1840.1 1601.6h0M1838.6 1600.3h0M1837.1 1600.2h0M1829.2 1591.6h0M1835.2 1595.6h0M1849.9 1550.6h0M1827.5 1602.4h0M1826.8 1608h0M1827.2 1613.1h0M1827.6 1616.9h0M1827.1 1621.8h0M1827 1626.4h0M1827.7 1632.4h0M1827.9 1637.5h0M1827.2 1642h0M1827.7 1647.9h0M1827.1 1653.8h0M1827.9 1659.8h0M1827.8 1664.9h0M1827.1 1670.7h0M1826.7 1674.9h0M1827.5 1681.1h0M1827 1685.2h0M1826.9 1689.7h0M1826.9 1694.1h0M1827.2 1698.6h0M1827.2 1703.1h0M1827.5 1706.7h0M1827.2 1711.3h0M1827.4 1717.2h0M1827.8 1723.6h0M1827.5 1729.3h0M1827.6 1733.4h0M1827.4 1738h0M1827 1743h0M1827.5 1748.9h0M1827.2 1754.7h0M1826.9 1758.3h0M1827.2 1764.4h0M1826.8 1769.5h0M1827.2 1775.9h0M1827.3 1779.6h0M1827.4 1783.7h0M1827.7 1789h0M1827.3 1792.7h0M1827.3 1798.2h0M1852.7 1551h0M1851.8 1557.4h0M1852.1 1562.3h0M1852.6 1566.4h0M1852.6 1572.2h0M1852 1576.9h0M1851.5 1582h0M1852.2 1586.2h0M1851.5 1592.5h0M1852.1 1597h0M1851.7 1601.8h0M1851.8 1605.8h0M1851.8 1609.4h0M1852.5 1613.1h0M1852 1618.6h0M1852.3 1623h0M1852.5 1627.6h0M1851.7 1633.6h0M1851.9 1638.6h0M1851.7 1645.1h0M1851.7 1648.7h0M1852.2 1655h0M1852 1660.7h0M1852 1666.4h0M1852.2 1671.4h0M1852.6 1677.3h0M1852.5 1682.7h0M1851.7 1686.7h0M1851.5 1692.9h0M1851.7 1697.8h0M1851.8 1703h0M1851.5 1709.2h0M1852.6 1715.2h0M1852.4 1719.9h0M1851.7 1725.2h0M1851.6 1730.3h0M1851.5 1734.7h0M1852.5 1738.8h0M1852.5 1743.8h0M1851.8 1748.7h0M1851.9 1753.6h0M1851.4 1760h0M1851.7 1764.1h0M1851.9 1769.2h0M1852.2 1773h0M1852.1 1779.2h0M1852 1783.7h0M1851.4 1787.9h0M1851.9 1792.3h0M1851.9 1798.2h0M1828.2 1805.4h0M1837.6 1805.7h0M1844.5 1805.4h0M1851.7 1532.4h0M1851.8 1534.6h0M1851.3 1537.2h0M1851.7 1539.3h0M1851.6 1542.1h0M1851.5 1544.9h0M1852 1547.8h0M1852.1 1550.4h0M1851.7 1450.4h0M1851.7 1467h0M1851.7 1487.3h0M1852.5 1515.8h0M1834.3 1536.6h0M1843.9 1535.3h0M1833.6 1585.1h0" stroke="#4682b4" stroke-width="9.8" stroke-linecap="round" fill="none"/></g>
<g><path d="M1861.4 1802.1L1861.4 1617.2L1862.4 1623.8L1863.4 1629.8L1864.4 1635.8L1865.4 1641.8L1866.4 1647.8L1867.4 1653.8L1868.4 1653.8L1869.4 1653.8L1870.4 1653.8L1871.4 1653.8L1872.4 1653.8L1873.4 1653.8L1874.4 1653.8L1875.4 1653.8L1876.4 1653.8L1877.4 1653.8L1878.4 1634.2L1879.4 1612.2L1880.4 1602.9L1881.4 1604.5L1882.4 1606.1L1883.4 1607.7L1884.4 1609.3L1885.4 1610.9L1886.4 1612.5L1887.4 1614.1L1888.4 1615.7L1889.4 1617.4L1890.4 1619L1891.4 1620.7L1892.4 1622.4L1893.4 1624L1894.4 1625.7L1895.4 1627.4L1896.4 1628.2L1897.4 1628.2L1898.4 1628.2L1899.4 1628.2L1900.4 1628.2L1901.4 1628.2L1902.4 1628.2L1903.4 1628.2L1904.4 1628.2L1905.4 1628.2L1906.4 1617.8L1907.4 1592.1L1907.4 1802.1Z" fill="#0000ff" stroke="#0000ff" stroke-width="9.8" stroke-linejoin="round"/><path d="M1861.1 1584.3h0M1861.1 1586.5h0M1861.7 1589.6h0M1861.2 1592.3h0M1860.7 1595.3h0M1861.8 1598.1h0M1860.7 1600.4h0M1861.5 1603.2h0M1879.3 1581.9h0M1880.1 1585.2h0M1878.9 1588.6h0M1879.1 1591.2h0M1879.6 1594.4h0M1878.8 1597.3h0M1906.3 1607h0M1874.8 1640h0M1900.2 1617.5h0M1869.2 1652h0M1892.4 1614.6h0M1872.5 1653.2h0M1877.2 1650.2h0M1890.8 1611.3h0M1906.2 1609.6h0M1873.3 1643h0M1863 1619.2h0M1904.2 1624.4h0M1877.4 1644.1h0M1898.4 1625.7h0M1875.8 1643.4h0M1873.5 1651.2h0M1883.4 1603.1h0M1892.6 1619.6h0M1886.3 1598.8h0M1891.9 1607.2h0M1900.7 1610.8h0M1893 1604.4h0M1900.6 1606.7h0M1903.6 1606.5h0M1873.1 1634h0M1877.6 1633.9h0M1887 1596h0M1865.7 1630.8h0M1867.3 1640.3h0M1901.3 1603.2h0M1877.5 1637.8h0M1887.8 1596h0M1865.3 1610.9h0M1862.8 1613.2h0M1860.3 1604.2h0M1860.4 1608.7h0M1860.6 1613.9h0M1860.1 1619h0M1860.2 1623.7h0M1860 1628.9h0M1860.8 1632.8h0M1861.2 1636.3h0M1860.6 1641.5h0M1861 1645.5h0M1860 1649.6h0M1860.7 1654.8h0M1860.6 1660h0M1861.1 1665h0M1860.4 1671.4h0M1860 1677.1h0M1861.1 1680.9h0M1861 1685.1h0M1860.7 1689.2h0M1860.4 1695.2h0M1860.6 1700.8h0M1860.1 1707.1h0M1860.3 1711h0M1860.1 1717.3h0M1860.7 1722.5h0M1860.8 1726.3h0M1861.1 1730h0M1860.5 1735.9h0M1860.3 1740.5h0M1860 1744.9h0M1860.9 1749.1h0M1860 1753.3h0M1860.9 1759.4h0M1861.2 1765.7h0M1860.6 1771.3h0M1860.4 1775.5h0M1860.5 1779.7h0M1860.7 1785.4h0M1860 1791.6h0M1860.9 1795.7h0M1860.7 1799.2h0M1908 1579.1h0M1908.2 1583h0M1908.8 1587.2h0M1908.1 1593.1h0M1907.7 1598.2h0M1908.7 1601.9h0M1908.1 1605.7h0M1907.9 1609.9h0M1907.9 1614h0M1907.9 1620.3h0M1907.9 1625.8h0M1908.8 1632.1h0M1908.8 1637.1h0M1908.8 1642.8h0M1907.7 1647.9h0M1908.7 1651.6h0M1908.1 1658h0M1908.8 1664.1h0M1908.6 1668.6h0M1908.5 1674.4h0M1907.7 1678.6h0M1907.9 1683.1h0M1908.1 1688.2h0M1908 1692.9h0M1908 1696.8h0M1908 1702.3h0M1908.7 1708.5h0M1908 1713.3h0M1908.8 1718.8h0M1907.9 1724.7h0M1907.7 1728.9h0M1908 1735.2h0M1908.6 1739.9h0M1908.5 1744.3h0M1908.1 1747.8h0M1908.7 1751.4h0M1908.7 1755.8h0M1907.7 1761.5h0M1908.6 1765.9h0M1908.1 1771.5h0M1907.8 1775.4h0M1908.2 1779.9h0M1908.7 1785.4h0M1908.3 1791h0M1908.4 1796h0M1907.7 1799.7h0M1861.4 1806.1h0M1866.3 1805.3h0M1877.3 1805.9h0M1887.1 1418.8h0M1887.7 1421.2h0M1887.2 1423.4h0M1887.3 1425.9h0M1886.8 1428.7h0M1886.9 1431h0M1887.4 1433.6h0M1887.5 1436.5h0M1887.8 1438.7h0M1887 1440.8h0M1887.4 1443.5h0M1887.5 1446h0M1887.1 1448.5h0M1887.2 1450.9h0M1887.5 1453h0M1887.4 1455.2h0M1887.6 1458.3h0M1887 1461.3h0M1886.8 1464.3h0M1887 1466.6h0M1887.8 1469.4h0M1887.3 1471.6h0M1887.5 1474h0M1887.7 1476h0M1886.9 1478.4h0M1887.5 1481.3h0M1887.6 1484.3h0M1887.2 1486.8h0M1887.3 1489.8h0M1887.4 1492.1h0M1887.5 1494.6h0M1887.6 1497.7h0M1887.3 1499.7h0M1886.8 1502.3h0M1886.8 1504.6h0M1887 1507.5h0M1887.6 1509.7h0M1887.5 1512h0M1887.4 1514.8h0M1887 1516.9h0M1887.2 1519.9h0M1887.3 1522.2h0M1887.5 1524.3h0M1887.7 1527.2h0M1887.5 1529.6h0M1887.6 1532.7h0M1887.7 1535.3h0M1887.3 1537.9h0M1887 1540.6h0M1887.3 1543.1h0M1887.3 1546h0M1887.7 1548.4h0M1886.9 1550.5h0M1887.8 1552.9h0M1887.2 1555.5h0M1887 1558.5h0M1886.8 1561.5h0M1887.7 1564.2h0M1887 1566.9h0M1887.6 1569.1h0M1887.7 1571.5h0M1886.9 1574h0M1887.5 1576.9h0M1886.8 1579.7h0M1887.3 1582.1h0M1886.9 1585.2h0M1887.1 1587.7h0M1887.2 1590.5h0M1887.3 1592.9h0M1886.8 1595.5h0M1887 1597.9h0M1887.1 1600.2h0M1887.3 1403.5h0M1867.8 1524.4h0M1866.5 1573.4h0M1881.6 1535.3h0M1881.6 1553.4h0M1894.5 1597.5h0M1860.8 1582h0" stroke="#0000ff" stroke-width="9.8" stroke-linecap="round" fill="none"/></g>
<g><path d="M1917.7 1802.1L1917.7 1610.3L1918.7 1610.3L1919.7 1612.5L1920.7 1619.5L1921.7 1626.5L1922.7 1626.5L1923.7 1626.5L1924.7 1626.5L1925.7 1626.5L1926.7 1626.5L1927.7 1626.5L1928.7 1626.5L1929.7 1626.5L1930.7 1626.5L1931.7 1626.5L1932.7 1622.1L1933.7 1620.6L1934.7 1620.6L1935.7 1620.6L1936.7 1620.6L1937.7 1620.6L1938.7 1620.6L1939.7 1620.6L1940.7 1620.6L1941.7 1620.6L1942.7 1620.6L1943.7 1620.6L1944.7 1620.6L1945.7 1620.6L1946.7 1620.6L1947.7 1620.6L1948.7 1620.6L1949.7 1620.6L1950.7 1611.5L1951.7 1596.7L1952.7 1597.3L1953.7 1597.3L1954.7 1597.3L1955.7 1597.3L1956.7 1597.3L1957.7 1597.3L1958.7 1597.3L1959.7 1597.3L1960.7 1597.3L1961.7 1597.3L1961.7 1802.1Z" fill="#4682b4" stroke="#4682b4" stroke-width="9.8" stroke-linejoin="round"/><path d="M1932.3 1581.7h0M1932.1 1584.7h0M1931.9 1588h0M1932.8 1590.6h0M1932.2 1593.6h0M1932.7 1596.1h0M1932.9 1598.8h0M1932 1602.1h0M1932.1 1605.1h0M1933 1608h0M1952.2 1563.6h0M1951.4 1566.2h0M1951.5 1569.1h0M1951.3 1571.9h0M1951.8 1574.4h0M1951.3 1576.7h0M1952 1579h0M1951.4 1581.4h0M1940.6 1613.2h0M1932.1 1619.6h0M1951.9 1587.8h0M1923.8 1615.1h0M1948.5 1613.3h0M1958.6 1586.4h0M1949.1 1612.1h0M1930.1 1622.6h0M1931.8 1615.6h0M1937.4 1612.6h0M1921.4 1622.8h0M1935.2 1611.7h0M1923.3 1614.6h0M1925.8 1613.5h0M1941.8 1615.7h0M1955.1 1586.9h0M1953.1 1593.7h0M1920.2 1604.8h0M1926.6 1603.3h0M1950.5 1598.1h0M1928.4 1612.6h0M1945.3 1604.8h0M1959.2 1575.2h0M1930.3 1611.9h0M1939.8 1605h0M1952.7 1583.2h0M1955.8 1579.8h0M1935 1590.5h0M1933 1600.3h0M1960.1 1573.1h0M1961 1581.4h0M1951.8 1574.8h0M1917.1 1597.3h0M1916.3 1602.1h0M1917.1 1608h0M1917.3 1613.8h0M1916.7 1618.5h0M1917.5 1622.9h0M1916.7 1628.1h0M1917.3 1633.6h0M1917.4 1637.3h0M1917.4 1642.4h0M1916.8 1646.5h0M1916.6 1651.2h0M1916.8 1655.1h0M1917.2 1659.8h0M1916.3 1666.1h0M1917.2 1672.5h0M1916.6 1676h0M1917 1682.2h0M1916.4 1686.6h0M1916.7 1691.8h0M1916.8 1697.4h0M1916.8 1703.4h0M1917.5 1709.1h0M1916.3 1714h0M1916.6 1719h0M1916.3 1724.1h0M1917.1 1727.8h0M1916.4 1731.8h0M1917.2 1738.2h0M1917.2 1742.6h0M1916.6 1747.9h0M1916.4 1752.2h0M1916.8 1757h0M1916.9 1761.6h0M1917.4 1765.2h0M1917.1 1771.6h0M1916.2 1776.2h0M1917.4 1780.6h0M1917 1786.7h0M1917.1 1792.2h0M1917.2 1796.1h0M1916.8 1801.9h0M1962.8 1584.3h0M1962.8 1589.5h0M1962.1 1593.6h0M1963 1598.4h0M1962.9 1602.6h0M1962.9 1608.5h0M1962.1 1612.4h0M1962.2 1618.3h0M1962.7 1621.9h0M1963 1627.4h0M1962.7 1633.1h0M1963.1 1637.7h0M1962.5 1642h0M1962.6 1645.8h0M1962.6 1651.4h0M1962 1656h0M1961.9 1661.4h0M1962.7 1667.2h0M1962.8 1673.3h0M1962.3 1679h0M1962.7 1685.4h0M1962.4 1690.5h0M1962.7 1696.5h0M1962.7 1701.7h0M1963.2 1707.6h0M1963.1 1711.7h0M1962.5 1716h0M1963 1721.7h0M1962.3 1726.2h0M1962.5 1731.3h0M1962.3 1736h0M1963.1 1739.6h0M1963.1 1744.1h0M1962 1749.5h0M1962.4 1753.5h0M1962 1757.6h0M1962.5 1763.4h0M1962.6 1767.4h0M1963 1772.9h0M1962.2 1777.7h0M1962.7 1781.3h0M1963.2 1786.4h0M1962 1790.7h0M1962.8 1795.7h0M1962.3 1800h0M1924 1805.5h0M1929 1806.1h0M1936.1 1805.4h0M1943.8 1805.9h0M1951.5 1806h0M1961.3 1805.9h0M1915.8 1506.5h0M1915.5 1509.5h0M1915.9 1511.8h0M1915.8 1514h0M1915.9 1516.3h0M1915.4 1519.1h0M1916.2 1522h0M1916.1 1524.4h0M1916.2 1526.8h0M1916 1529.9h0M1915.7 1532.4h0M1916.2 1534.6h0M1916 1537.7h0M1915.6 1540.8h0M1915.8 1542.9h0M1915.9 1546.1h0M1916 1549.1h0M1915.8 1551.6h0M1915.7 1553.9h0M1916.2 1557.1h0M1916 1559.8h0M1916 1562.2h0M1915.4 1565.3h0M1915.5 1568.5h0M1915.3 1570.5h0M1916 1573h0M1916.3 1575.3h0M1915.8 1485.2h0M1915.8 1494.3h0M1948.2 1531.9h0M1938.6 1540.5h0M1951.6 1557.3h0M1949 1569h0M1933.4 1575.5h0M1958.1 1576.8h0M1964.6 1584.6h0" stroke="#4682b4" stroke-width="9.8" stroke-linecap="round" fill="none"/></g>
<g><path d="M1971.9 1802.1L1971.9 1622.6L1972.9 1622.6L1973.9 1622.6L1974.9 1622.6L1975.9 1622.6L1976.9 1622.6L1977.9 1622.4L1978.9 1621.8L1979.9 1621.7L1980.9 1622.3L1981.9 1625.5L1982.9 1630.5L1983.9 1635.5L1984.9 1640.5L1985.9 1645.5L1986.9 1648.8L1987.9 1652.1L1988.9 1655.5L1989.9 1655.5L1990.9 1655.5L1991.9 1655.5L1992.9 1655.5L1993.9 1655.5L1994.9 1655.5L1995.9 1655.5L1996.9 1655.5L1997.9 1655.5L1998.9 1655.5L1999.9 1626L2000.9 1595.2L2001.9 1595.2L2002.9 1595.2L2003.9 1595.2L2003.9 1802.1Z" fill="#0000ff" stroke="#0000ff" stroke-width="9.8" stroke-linejoin="round"/><path d="M1978.9 1605.1h0M1979 1608.2h0M1973.5 1619.8h0M1983 1626.1h0M1974.1 1615.6h0M1984.2 1626h0M1985.4 1642.6h0M1973 1622.1h0M1982.8 1627.7h0M1997.9 1649.6h0M1991.6 1655.1h0M1986.1 1642.8h0M1987.3 1641h0M2003.7 1583.1h0M2002.3 1591.6h0M1977.5 1598.6h0M1973.1 1603.3h0M2002.6 1575h0M2001.2 1576.2h0M1995.2 1630.6h0M2001.6 1579.9h0M1977.4 1607.2h0M1975.2 1597.9h0M1985.6 1611.1h0M1975.4 1606.6h0M1970.9 1609.6h0M1970.7 1614.2h0M1971.6 1618.5h0M1971 1624.7h0M1970.6 1629.2h0M1971.3 1633h0M1970.5 1637.9h0M1971.1 1643.2h0M1970.4 1648.6h0M1971.4 1653.2h0M1971.5 1658.3h0M1970.8 1662.6h0M1971.4 1667.4h0M1970.4 1670.9h0M1970.8 1676.9h0M1971 1682.1h0M1970.4 1688.5h0M1970.8 1694.9h0M1970.5 1700.3h0M1971 1704.5h0M1971.2 1709.7h0M1970.9 1715h0M1971.1 1721.3h0M1970.9 1726h0M1971.6 1729.5h0M1970.5 1733.1h0M1970.7 1739.2h0M1970.9 1743.5h0M1971 1747.4h0M1970.8 1752.5h0M1970.5 1756.4h0M1970.4 1761.6h0M1970.7 1765.4h0M1970.4 1771.4h0M1971.2 1775.6h0M1970.7 1781.8h0M1970.9 1785.6h0M1970.6 1790h0M1970.7 1793.8h0M1971.5 1798.5h0M2005.1 1582.2h0M2005.3 1588.5h0M2005.2 1592.1h0M2004.6 1597.5h0M2005 1601.1h0M2004.3 1606.3h0M2004.2 1611.4h0M2005.2 1617.7h0M2005.3 1623.4h0M2004.7 1627.4h0M2005.2 1633.8h0M2004.2 1639.2h0M2004.8 1644.2h0M2004.4 1649.3h0M2004.4 1653.5h0M2005.3 1657.7h0M2004.3 1661.7h0M2004.2 1668.2h0M2004.6 1671.8h0M2004.9 1676.9h0M2005.2 1683h0M2005.1 1686.6h0M2004.8 1690.7h0M2004.2 1696.7h0M2005.3 1701.8h0M2004.9 1706.6h0M2004.5 1712.4h0M2005 1716.2h0M2005.3 1719.8h0M2004.8 1724.7h0M2004.8 1728.6h0M2004.9 1733.4h0M2004.4 1737.2h0M2005.1 1742.3h0M2004.1 1747.8h0M2004.6 1754.2h0M2005.3 1759.6h0M2004.5 1765.6h0M2004.7 1769.8h0M2004.2 1774.8h0M2005.2 1780.2h0M2004.9 1784.2h0M2004.3 1789.3h0M2004.2 1795.4h0M2004.2 1801.2h0M1971.9 1805.9h0M1985.6 1805.6h0M1997.6 1805.8h0M2002 1805.5h0M1998.9 1539.6h0M2000 1544.1h0M1995.4 1549.9h0M1970.3 1593.3h0M1978.3 1600.6h0M1989.7 1607h0M2000.7 1575h0" stroke="#0000ff" stroke-width="9.8" stroke-linecap="round" fill="none"/></g>
<g><path d="M2014.1 1802.1L2014.1 1618L2015.1 1618L2016.1 1618L2017.1 1618L2018.1 1618L2019.1 1618L2020.1 1618L2021.1 1616.9L2022.1 1608.9L2023.1 1600.9L2024.1 1599.8L2025.1 1599.8L2026.1 1599.8L2027.1 1599.8L2028.1 1599.8L2029.1 1599.8L2030.1 1599.8L2031.1 1599.8L2032.1 1599.8L2033.1 1599.5L2034.1 1599.2L2035.1 1598.9L2036.1 1598.5L2037.1 1598.2L2038.1 1597.9L2039.1 1597.5L2040.1 1595.8L2041.1 1593.8L2042.1 1599.8L2043.1 1606.6L2044.1 1606.6L2045.1 1606.6L2046.1 1606.6L2047.1 1606.6L2048.1 1606.6L2049.1 1606.6L2050.1 1606.6L2050.1 1802.1Z" fill="#4682b4" stroke="#4682b4" stroke-width="9.8" stroke-linejoin="round"/><path d="M2041.7 1575.3h0M2042.2 1577.6h0M2041.3 1580.2h0M2042.5 1582.4h0M2041.4 1585.2h0M2034.2 1591.3h0M2015.8 1611.6h0M2032.4 1593.8h0M2018.1 1604.1h0M2036.6 1584.4h0M2032.5 1591.1h0M2045.3 1600h0M2019.4 1606.1h0M2043.7 1595.8h0M2035.6 1589.6h0M2025.1 1590.9h0M2036.4 1589.4h0M2026.2 1590.8h0M2044.7 1606.3h0M2041.5 1592.4h0M2027.8 1580.2h0M2038.4 1562.9h0M2022.8 1591.9h0M2032.6 1580.5h0M2025.6 1568.8h0M2021.3 1598.8h0M2044.8 1572.6h0M2028 1580.2h0M2019.3 1601.6h0M2019 1597.6h0M2033.4 1586.2h0M2012.7 1605h0M2012.8 1610h0M2013.2 1616.3h0M2013.1 1621.1h0M2013.7 1626.1h0M2012.9 1629.6h0M2013 1635.8h0M2012.9 1640.9h0M2013.6 1645.4h0M2012.8 1651.3h0M2013.3 1656.5h0M2013.4 1661.8h0M2013.9 1666.6h0M2012.9 1671.8h0M2013 1676.4h0M2013 1682.1h0M2013.4 1686.1h0M2012.8 1691.4h0M2013.8 1695h0M2012.9 1699.1h0M2013.2 1703h0M2013 1707.4h0M2013.6 1712.2h0M2012.8 1717.3h0M2013.2 1723.4h0M2012.7 1729.1h0M2013.1 1734.7h0M2013.8 1740.5h0M2013.6 1745.7h0M2013.8 1750.7h0M2013.3 1755.1h0M2012.7 1761h0M2013.1 1767.4h0M2013.4 1773.4h0M2013.5 1777.2h0M2013.2 1782.8h0M2013.7 1786.6h0M2012.7 1792.1h0M2013.3 1797h0M2051.3 1593.6h0M2051 1599.1h0M2050.8 1605.1h0M2051.4 1608.7h0M2050.5 1614.3h0M2050.9 1620.6h0M2050.4 1625.5h0M2051.4 1629.4h0M2051.1 1635h0M2050.8 1640.1h0M2051.6 1646h0M2050.7 1649.8h0M2051.2 1655.6h0M2050.5 1661.4h0M2051 1666.2h0M2051.1 1669.7h0M2051 1673.7h0M2050.5 1679.5h0M2051.3 1685.8h0M2050.5 1690.4h0M2050.9 1696h0M2051 1702.5h0M2050.8 1707.8h0M2050.9 1711.8h0M2051 1715.9h0M2051.3 1720.2h0M2051.2 1726.2h0M2050.4 1730.6h0M2050.9 1736.3h0M2050.5 1742.8h0M2051.5 1748.1h0M2050.9 1752.5h0M2050.4 1756.8h0M2050.9 1763.2h0M2050.3 1769.2h0M2051 1775.4h0M2050.7 1781.4h0M2050.9 1785.6h0M2050.8 1790.3h0M2050.4 1794.3h0M2050.5 1797.9h0M2051.4 1802h0M2014.1 1805.1h0M2043.6 1805.1h0M2048.5 1805.7h0M2043.9 1543.5h0M2043.4 1564h0M2048.5 1565.2h0M2018.3 1580.7h0M2036.6 1575h0M2011.4 1600.1h0M2013.7 1618.4h0" stroke="#4682b4" stroke-width="9.8" stroke-linecap="round" fill="none"/></g>
<g><path d="M2062.6 1802.1L2062.6 1631.8L2063.6 1631.8L2064.6 1631.8L2065.6 1631.8L2066.6 1631.8L2067.6 1631.8L2068.6 1631.8L2069.6 1626.4L2070.6 1617.4L2071.6 1609.7L2072.6 1605.1L2073.6 1600.4L2074.6 1595.7L2075.6 1602.4L2076.6 1614.4L2077.6 1623.2L2078.6 1625.2L2079.6 1627.2L2080.6 1629.2L2081.6 1631.2L2082.6 1631.8L2083.6 1631.8L2084.6 1631.8L2085.1 1631.8L2085.1 1802.1Z" fill="#0000ff" stroke="#0000ff" stroke-width="9.8" stroke-linejoin="round"/><path d="M2071 1605.8h0M2075.3 1587.4h0M2070.4 1611.4h0M2076.7 1610.7h0M2076.8 1602.1h0M2070.6 1612.3h0M2078.6 1623.9h0M2079.1 1620.6h0M2076.3 1598.2h0M2075.5 1587.1h0M2070.1 1607.6h0M2084.1 1601.6h0M2069.5 1609.7h0M2064.1 1609.9h0M2068.6 1609.2h0M2067.9 1615.2h0M2061.5 1618.8h0M2061.2 1624h0M2061.8 1629.7h0M2061.9 1634.4h0M2061.3 1639.3h0M2062 1642.9h0M2062.3 1648.5h0M2061.9 1654.4h0M2062.1 1660.5h0M2061.3 1666.3h0M2061.7 1670.8h0M2061.2 1676.6h0M2061.2 1681.9h0M2061.1 1688h0M2061.8 1692.1h0M2061.6 1697.5h0M2061.7 1701.3h0M2061.7 1707.6h0M2062 1711.6h0M2061.9 1717.8h0M2062 1721.6h0M2062.2 1726.8h0M2061.8 1731.8h0M2062 1737.3h0M2061.8 1741.3h0M2061.7 1745.4h0M2061.3 1750.1h0M2061.7 1754.1h0M2062.2 1758.4h0M2061.7 1762.3h0M2061.6 1767.4h0M2062.3 1772.9h0M2061.2 1779.4h0M2062.2 1783.6h0M2062.3 1789.5h0M2062 1794.9h0M2062.2 1801.3h0M2085.5 1618.8h0M2086.2 1622.6h0M2085.5 1628.5h0M2085.5 1635h0M2085.6 1639.4h0M2086.1 1643.6h0M2086.3 1647.2h0M2086.5 1653.1h0M2085.5 1658.6h0M2085.5 1662.9h0M2086.1 1669.2h0M2086.3 1674.9h0M2086.6 1680.6h0M2085.8 1684.7h0M2086.1 1689.6h0M2085.6 1694.6h0M2086.2 1699h0M2086.4 1702.8h0M2085.9 1706.5h0M2085.5 1712.6h0M2085.6 1717.7h0M2086.1 1721.5h0M2085.8 1727.7h0M2085.7 1734h0M2086.4 1739.5h0M2086.2 1743.6h0M2085.8 1747.9h0M2086.5 1751.8h0M2085.8 1756.2h0M2085.8 1762.2h0M2086.1 1767.5h0M2085.9 1773.3h0M2085.6 1779.5h0M2085.3 1786h0M2086 1791.9h0M2085.5 1798h0M2086.3 1801.8h0M2062.6 1806.1h0M2069 1805.8h0M2075.4 1805.7h0M2081.8 1806.2h0M2081.6 1520.6h0M2071.3 1548.7h0M2081.6 1551h0M2071.3 1556.7h0M2071.3 1562.4h0M2070.9 1567h0M2078.9 1568.6h0M2085.3 1568.6h0M2070.9 1580.7h0M2082.3 1581.9h0M2075.4 1584.1h0M2066.3 1595.6h0M2078.9 1607h0M2085.7 1615h0" stroke="#0000ff" stroke-width="9.8" stroke-linecap="round" fill="none"/></g>
<g><path d="M2101 1802.1L2101 1599.8L2102 1599.8L2103 1599.8L2104 1599.8L2105 1599.8L2106 1599.8L2107 1599.8L2108 1599.8L2109 1599.8L2110 1599.8L2111 1599.8L2112 1599.8L2113 1599.8L2114 1599.8L2115 1599.8L2116 1599.8L2117 1599.8L2118 1599.8L2119 1599.8L2120 1599.6L2121 1599.5L2122 1599.3L2123 1599.2L2124 1599L2124 1802.1Z" fill="#4682b4" stroke="#4682b4" stroke-width="9.8" stroke-linejoin="round"/><path d="M2113.9 1590.2h0M2110.9 1599.5h0M2109.8 1592.3h0M2106.9 1591.5h0M2107.6 1599.2h0M2122.5 1587.3h0M2118.7 1598.3h0M2116.4 1598.9h0M2107.2 1598.5h0M2119 1581h0M2111.6 1580.3h0M2122.7 1585.3h0M2101.6 1581.7h0M2102.5 1575.3h0M2120.6 1564.6h0M2104 1584h0M2100.7 1586.8h0M2100.7 1592.4h0M2100.5 1596.2h0M2099.7 1600.2h0M2099.9 1606.4h0M2100.2 1612h0M2100.5 1616.2h0M2100.7 1619.9h0M2100.1 1624.2h0M2100.1 1628h0M2100.4 1633h0M2100.3 1636.7h0M2099.8 1642.7h0M2100.4 1648.4h0M2099.8 1652.4h0M2100.2 1656.1h0M2100.6 1660.7h0M2100.4 1664.4h0M2100.1 1669.6h0M2100 1675.5h0M2100.5 1681.9h0M2100.3 1686.3h0M2100.4 1690.3h0M2100.3 1695.3h0M2099.8 1699.6h0M2099.6 1705.3h0M2100 1710.5h0M2099.6 1715.7h0M2099.7 1720.2h0M2099.8 1725.3h0M2100.4 1731.1h0M2100.2 1736.4h0M2100.3 1740.4h0M2100.4 1746.7h0M2099.9 1750.6h0M2100 1755.6h0M2100.1 1759.4h0M2100.1 1764.3h0M2100.1 1769.2h0M2100.7 1775.7h0M2100.3 1779.3h0M2100.8 1783.2h0M2099.7 1788.9h0M2100.6 1792.5h0M2100.3 1796.6h0M2124.3 1586h0M2124.9 1590.7h0M2124.6 1594.8h0M2125.1 1600.4h0M2125.1 1606.3h0M2124.4 1610.8h0M2125.1 1614.4h0M2125.1 1620.2h0M2124.7 1625.6h0M2124.8 1629.2h0M2124.6 1633h0M2125 1638.8h0M2125.3 1645h0M2125.4 1650.7h0M2125.2 1654.6h0M2124.9 1660h0M2124.8 1663.9h0M2125.1 1670.1h0M2125.2 1676.4h0M2124.7 1680.1h0M2125.1 1686.1h0M2124.8 1691.1h0M2124.7 1695.8h0M2124.8 1700.3h0M2124.4 1705.6h0M2125 1709.6h0M2124.8 1714.8h0M2124.7 1719.9h0M2124.6 1726.4h0M2124.6 1731.5h0M2124.6 1736.8h0M2124.3 1741.6h0M2124.8 1746.1h0M2125.2 1751.4h0M2124.6 1755.1h0M2124.8 1759.3h0M2125.4 1765.5h0M2125.4 1771.2h0M2125 1776.2h0M2125.1 1780.1h0M2124.9 1784.4h0M2124.9 1788.6h0M2125.3 1793.3h0M2125.2 1798.4h0M2101 1805.7h0M2106.2 1805h0M2110.8 1805.9h0M2121.5 1806.2h0M2105.1 1538h0M2105.1 1549.9h0M2105.1 1556.7h0M2100.6 1559h0M2107.4 1561.7h0M2118.9 1579.6h0" stroke="#4682b4" stroke-width="9.8" stroke-linecap="round" fill="none"/></g>
<path d="M112.5 1347.6H2126" stroke="#dd0f29" stroke-width="2.6" stroke-dasharray="7.9 7.2" fill="none"/>
<path d="M112.5 1053.3V1821M97.5 1806H2126M97.5 1053.3h15M97.5 1748.7h15M97.5 1691.4h15M97.5 1634.1h15M97.5 1576.8h15M97.5 1519.5h15M97.5 1462.2h15M97.5 1404.9h15M97.5 1347.6h15M97.5 1290.3h15M97.5 1233h15M97.5 1175.7h15M97.5 1118.4h15M97.5 1061.1h15M430.6 1806v15M748.6 1806v15M1066.7 1806v15M1384.8 1806v15M1702.8 1806v15M2020.9 1806v15M2124.6 1806v15" stroke="#808080" stroke-width="2.4" fill="none"/>
<text x="89.6" y="1815.3" font-family='"DejaVu Sans", "Liberation Sans", sans-serif' font-size="27.6" font-weight="normal" text-anchor="end" fill="#000">0</text>
<text x="89.6" y="1758" font-family='"DejaVu Sans", "Liberation Sans", sans-serif' font-size="27.6" font-weight="normal" text-anchor="end" fill="#000">1</text>
<text x="89.6" y="1700.7" font-family='"DejaVu Sans", "Liberation Sans", sans-serif' font-size="27.6" font-weight="normal" text-anchor="end" fill="#000">2</text>
<text x="89.6" y="1643.4" font-family='"DejaVu Sans", "Liberation Sans", sans-serif' font-size="27.6" font-weight="normal" text-anchor="end" fill="#000">3</text>
<text x="89.6" y="1586.1" font-family='"DejaVu Sans", "Liberation Sans", sans-serif' font-size="27.6" font-weight="normal" text-anchor="end" fill="#000">4</text>
<text x="89.6" y="1528.8" font-family='"DejaVu Sans", "Liberation Sans", sans-serif' font-size="27.6" font-weight="normal" text-anchor="end" fill="#000">5</text>
<text x="89.6" y="1471.5" font-family='"DejaVu Sans", "Liberation Sans", sans-serif' font-size="27.6" font-weight="normal" text-anchor="end" fill="#000">6</text>
<text x="89.6" y="1414.2" font-family='"DejaVu Sans", "Liberation Sans", sans-serif' font-size="27.6" font-weight="normal" text-anchor="end" fill="#000">7</text>
<text x="89.6" y="1356.9" font-family='"DejaVu Sans", "Liberation Sans", sans-serif' font-size="27.6" font-weight="normal" text-anchor="end" fill="#000">8</text>
<text x="89.6" y="1299.6" font-family='"DejaVu Sans", "Liberation Sans", sans-serif' font-size="27.6" font-weight="normal" text-anchor="end" fill="#000">9</text>
<text x="89.6" y="1242.3" font-family='"DejaVu Sans", "Liberation Sans", sans-serif' font-size="27.6" font-weight="normal" text-anchor="end" fill="#000">10</text>
<text x="89.6" y="1185" font-family='"DejaVu Sans", "Liberation Sans", sans-serif' font-size="27.6" font-weight="normal" text-anchor="end" fill="#000">11</text>
<text x="89.6" y="1127.7" font-family='"DejaVu Sans", "Liberation Sans", sans-serif' font-size="27.6" font-weight="normal" text-anchor="end" fill="#000">12</text>
<text x="89.6" y="1070.4" font-family='"DejaVu Sans", "Liberation Sans", sans-serif' font-size="27.6" font-weight="normal" text-anchor="end" fill="#000">13</text>
<text x="199.3" y="1856" font-family='"DejaVu Sans", "Liberation Sans", sans-serif' font-size="25" font-weight="normal" text-anchor="middle" fill="#000">1</text>
<text x="371.2" y="1856" font-family='"DejaVu Sans", "Liberation Sans", sans-serif' font-size="25" font-weight="normal" text-anchor="middle" fill="#000">2</text>
<text x="525.8" y="1856" font-family='"DejaVu Sans", "Liberation Sans", sans-serif' font-size="25" font-weight="normal" text-anchor="middle" fill="#000">3</text>
<text x="661.3" y="1856" font-family='"DejaVu Sans", "Liberation Sans", sans-serif' font-size="25" font-weight="normal" text-anchor="middle" fill="#000">4</text>
<text x="791.4" y="1856" font-family='"DejaVu Sans", "Liberation Sans", sans-serif' font-size="25" font-weight="normal" text-anchor="middle" fill="#000">5</text>
<text x="914.8" y="1856" font-family='"DejaVu Sans", "Liberation Sans", sans-serif' font-size="25" font-weight="normal" text-anchor="middle" fill="#000">6</text>
<text x="1030.2" y="1856" font-family='"DejaVu Sans", "Liberation Sans", sans-serif' font-size="25" font-weight="normal" text-anchor="middle" fill="#000">7</text>
<text x="1137.2" y="1856" font-family='"DejaVu Sans", "Liberation Sans", sans-serif' font-size="25" font-weight="normal" text-anchor="middle" fill="#000">8</text>
<text x="1236.9" y="1856" font-family='"DejaVu Sans", "Liberation Sans", sans-serif' font-size="25" font-weight="normal" text-anchor="middle" fill="#000">9</text>
<text x="1333.5" y="1856" font-family='"DejaVu Sans", "Liberation Sans", sans-serif' font-size="25" font-weight="normal" text-anchor="middle" fill="#000">10</text>
<text x="1428.9" y="1856" font-family='"DejaVu Sans", "Liberation Sans", sans-serif' font-size="25" font-weight="normal" text-anchor="middle" fill="#000">11</text>
<text x="1522" y="1856" font-family='"DejaVu Sans", "Liberation Sans", sans-serif' font-size="25" font-weight="normal" text-anchor="middle" fill="#000">12</text>
<text x="1609.2" y="1856" font-family='"DejaVu Sans", "Liberation Sans", sans-serif' font-size="25" font-weight="normal" text-anchor="middle" fill="#000">13</text>
<text x="1687" y="1856" font-family='"DejaVu Sans", "Liberation Sans", sans-serif' font-size="25" font-weight="normal" text-anchor="middle" fill="#000">14</text>
<text x="1760" y="1856" font-family='"DejaVu Sans", "Liberation Sans", sans-serif' font-size="25" font-weight="normal" text-anchor="middle" fill="#000">15</text>
<text x="1827.5" y="1856" font-family='"DejaVu Sans", "Liberation Sans", sans-serif' font-size="25" font-weight="normal" text-anchor="middle" fill="#000">16</text>
<text x="1886.9" y="1856" font-family='"DejaVu Sans", "Liberation Sans", sans-serif' font-size="25" font-weight="normal" text-anchor="middle" fill="#000">17</text>
<text x="1943.2" y="1856" font-family='"DejaVu Sans", "Liberation Sans", sans-serif' font-size="25" font-weight="normal" text-anchor="middle" fill="#000">18</text>
<text x="1991.2" y="1856" font-family='"DejaVu Sans", "Liberation Sans", sans-serif' font-size="25" font-weight="normal" text-anchor="middle" fill="#000">19</text>
<text x="2032.9" y="1856" font-family='"DejaVu Sans", "Liberation Sans", sans-serif' font-size="25" font-weight="normal" text-anchor="middle" fill="#000">20</text>
<text x="2071.8" y="1856" font-family='"DejaVu Sans", "Liberation Sans", sans-serif' font-size="25" font-weight="normal" text-anchor="middle" fill="#000">21</text>
<text x="2106.5" y="1856" font-family='"DejaVu Sans", "Liberation Sans", sans-serif' font-size="25" font-weight="normal" text-anchor="middle" fill="#000">22</text>
<text x="1118.6" y="1894.6" font-family='"DejaVu Sans", "Liberation Sans", sans-serif' font-size="30" font-weight="normal" text-anchor="middle" fill="#000">Chromosome</text>
<text x="25" y="1430" font-family='"DejaVu Sans", "Liberation Sans", sans-serif' font-size="30" font-weight="normal" text-anchor="middle" fill="#000" transform="rotate(-90 25 1430)">-log10 P-value</text>
<rect x="1445" y="0" width="436" height="412" fill="#fff"/>
<path d="M1502.8 14.2V356.6M1502.8 356.6H1845.9M1496.8 14.2h6M1496.8 356.6h6M1496.8 306.4h6M1496.8 256.2h6M1496.8 206h6M1496.8 155.8h6M1496.8 105.6h6M1496.8 55.4h6M1502.8 356.6v7M1553.8 356.6v7M1604.9 356.6v7M1655.9 356.6v7M1707 356.6v7M1758 356.6v7M1809.1 356.6v7M1845.9 356.6v7" stroke="#858585" stroke-width="1.5" fill="none"/>
<text x="1492.3" y="360.6" font-family='"DejaVu Sans", "Liberation Sans", sans-serif' font-size="13" font-weight="normal" text-anchor="end" fill="#1a1a1a">0</text>
<text x="1492.3" y="310.4" font-family='"DejaVu Sans", "Liberation Sans", sans-serif' font-size="13" font-weight="normal" text-anchor="end" fill="#1a1a1a">2</text>
<text x="1492.3" y="260.2" font-family='"DejaVu Sans", "Liberation Sans", sans-serif' font-size="13" font-weight="normal" text-anchor="end" fill="#1a1a1a">4</text>
<text x="1492.3" y="210" font-family='"DejaVu Sans", "Liberation Sans", sans-serif' font-size="13" font-weight="normal" text-anchor="end" fill="#1a1a1a">6</text>
<text x="1492.3" y="159.8" font-family='"DejaVu Sans", "Liberation Sans", sans-serif' font-size="13" font-weight="normal" text-anchor="end" fill="#1a1a1a">8</text>
<text x="1492.3" y="109.6" font-family='"DejaVu Sans", "Liberation Sans", sans-serif' font-size="13" font-weight="normal" text-anchor="end" fill="#1a1a1a">10</text>
<text x="1492.3" y="59.4" font-family='"DejaVu Sans", "Liberation Sans", sans-serif' font-size="13" font-weight="normal" text-anchor="end" fill="#1a1a1a">12</text>
<text x="1502.8" y="376.4" font-family='"DejaVu Sans", "Liberation Sans", sans-serif' font-size="12.6" font-weight="normal" text-anchor="middle" fill="#1a1a1a">0</text>
<text x="1553.8" y="376.4" font-family='"DejaVu Sans", "Liberation Sans", sans-serif' font-size="12.6" font-weight="normal" text-anchor="middle" fill="#1a1a1a">1</text>
<text x="1604.9" y="376.4" font-family='"DejaVu Sans", "Liberation Sans", sans-serif' font-size="12.6" font-weight="normal" text-anchor="middle" fill="#1a1a1a">2</text>
<text x="1655.9" y="376.4" font-family='"DejaVu Sans", "Liberation Sans", sans-serif' font-size="12.6" font-weight="normal" text-anchor="middle" fill="#1a1a1a">3</text>
<text x="1707" y="376.4" font-family='"DejaVu Sans", "Liberation Sans", sans-serif' font-size="12.6" font-weight="normal" text-anchor="middle" fill="#1a1a1a">4</text>
<text x="1758" y="376.4" font-family='"DejaVu Sans", "Liberation Sans", sans-serif' font-size="12.6" font-weight="normal" text-anchor="middle" fill="#1a1a1a">5</text>
<text x="1809.1" y="376.4" font-family='"DejaVu Sans", "Liberation Sans", sans-serif' font-size="12.6" font-weight="normal" text-anchor="middle" fill="#1a1a1a">6</text>
<text x="1674.2" y="396.9" font-family='"DejaVu Sans", "Liberation Sans", sans-serif' font-size="13.75" font-weight="normal" text-anchor="middle" fill="#1a1a1a">Expected -log10 P-value</text>
<text x="1462.6" y="185.4" font-family='"DejaVu Sans", "Liberation Sans", sans-serif' font-size="13.75" font-weight="normal" text-anchor="middle" fill="#1a1a1a" transform="rotate(-90 1462.6 185.4)">Observed -log10 P-value</text>
<path d="M1502.8 356.6L1845.9 187.9" stroke="#e2404a" stroke-width="1.4" stroke-dasharray="2.6 2.6" fill="none"/>
<path d="M1502.8 356.6L1553.5 330.9L1604.6 303.5L1630.1 287.6L1655.8 270.5L1665.6 259.4L1669.2 252.1L1672.9 244.8L1676.6 232.5L1680.2 226.4L1686.4 224.7L1693.7 224L1706.9 222.2L1718.2 216.6L1730.4 208L1736.5 203.1L1738.5 198.3" stroke="#767676" stroke-width="4.0" stroke-linecap="round" stroke-linejoin="round" fill="none"/>
<path d="M1819.7 32.3h0M1821.4 31.8h0M1827.1 27.7h0M1833.7 24.5h0M1842.5 17.6h0" stroke="#767676" stroke-width="4.4" stroke-linecap="round" fill="none"/><path d="M1740.2 186L1741.4 176.2" stroke="#767676" stroke-width="3.8" stroke-linecap="round" stroke-linejoin="round" fill="none"/><path d="M1742.6 166.4L1744.6 154.2" stroke="#767676" stroke-width="3.8" stroke-linecap="round" stroke-linejoin="round" fill="none"/><path d="M1745.8 145.6L1747.5 137.1L1750 132.2L1753.7 122.4L1757.8 112.6L1761.7 105.3L1764.2 90.6L1767.1 82L1772 73.4L1778.1 67.3L1786.7 61.2L1796.5 55.1L1806.3 49L1814.8 43.6" stroke="#767676" stroke-width="3.8" stroke-linecap="round" stroke-linejoin="round" fill="none"/>
<rect x="1445" y="1000" width="436" height="412" fill="#fff"/>
<path d="M1502.8 1011.5V1355.4M1502.8 1355.4H1845.9M1496.8 1011.5h6M1496.8 1355.4h6M1496.8 1329.5h6M1496.8 1303.5h6M1496.8 1277.6h6M1496.8 1251.6h6M1496.8 1225.7h6M1496.8 1199.7h6M1496.8 1173.8h6M1496.8 1147.8h6M1496.8 1121.9h6M1496.8 1095.9h6M1496.8 1070h6M1496.8 1044h6M1496.8 1018.1h6M1502.8 1355.4v7M1554.1 1355.4v7M1605.5 1355.4v7M1656.8 1355.4v7M1708.2 1355.4v7M1759.5 1355.4v7M1810.9 1355.4v7M1845.9 1355.4v7" stroke="#858585" stroke-width="1.5" fill="none"/>
<text x="1492.3" y="1359.4" font-family='"DejaVu Sans", "Liberation Sans", sans-serif' font-size="13" font-weight="normal" text-anchor="end" fill="#1a1a1a">0</text>
<text x="1492.3" y="1333.5" font-family='"DejaVu Sans", "Liberation Sans", sans-serif' font-size="13" font-weight="normal" text-anchor="end" fill="#1a1a1a">1</text>
<text x="1492.3" y="1307.5" font-family='"DejaVu Sans", "Liberation Sans", sans-serif' font-size="13" font-weight="normal" text-anchor="end" fill="#1a1a1a">2</text>
<text x="1492.3" y="1281.6" font-family='"DejaVu Sans", "Liberation Sans", sans-serif' font-size="13" font-weight="normal" text-anchor="end" fill="#1a1a1a">3</text>
<text x="1492.3" y="1255.6" font-family='"DejaVu Sans", "Liberation Sans", sans-serif' font-size="13" font-weight="normal" text-anchor="end" fill="#1a1a1a">4</text>
<text x="1492.3" y="1229.7" font-family='"DejaVu Sans", "Liberation Sans", sans-serif' font-size="13" font-weight="normal" text-anchor="end" fill="#1a1a1a">5</text>
<text x="1492.3" y="1203.7" font-family='"DejaVu Sans", "Liberation Sans", sans-serif' font-size="13" font-weight="normal" text-anchor="end" fill="#1a1a1a">6</text>
<text x="1492.3" y="1177.8" font-family='"DejaVu Sans", "Liberation Sans", sans-serif' font-size="13" font-weight="normal" text-anchor="end" fill="#1a1a1a">7</text>
<text x="1492.3" y="1151.8" font-family='"DejaVu Sans", "Liberation Sans", sans-serif' font-size="13" font-weight="normal" text-anchor="end" fill="#1a1a1a">8</text>
<text x="1492.3" y="1125.9" font-family='"DejaVu Sans", "Liberation Sans", sans-serif' font-size="13" font-weight="normal" text-anchor="end" fill="#1a1a1a">9</text>
<text x="1492.3" y="1099.9" font-family='"DejaVu Sans", "Liberation Sans", sans-serif' font-size="13" font-weight="normal" text-anchor="end" fill="#1a1a1a">10</text>
<text x="1492.3" y="1074" font-family='"DejaVu Sans", "Liberation Sans", sans-serif' font-size="13" font-weight="normal" text-anchor="end" fill="#1a1a1a">11</text>
<text x="1492.3" y="1048" font-family='"DejaVu Sans", "Liberation Sans", sans-serif' font-size="13" font-weight="normal" text-anchor="end" fill="#1a1a1a">12</text>
<text x="1492.3" y="1022.1" font-family='"DejaVu Sans", "Liberation Sans", sans-serif' font-size="13" font-weight="normal" text-anchor="end" fill="#1a1a1a">13</text>
<text x="1502.8" y="1375.2" font-family='"DejaVu Sans", "Liberation Sans", sans-serif' font-size="12.6" font-weight="normal" text-anchor="middle" fill="#1a1a1a">0</text>
<text x="1554.1" y="1375.2" font-family='"DejaVu Sans", "Liberation Sans", sans-serif' font-size="12.6" font-weight="normal" text-anchor="middle" fill="#1a1a1a">1</text>
<text x="1605.5" y="1375.2" font-family='"DejaVu Sans", "Liberation Sans", sans-serif' font-size="12.6" font-weight="normal" text-anchor="middle" fill="#1a1a1a">2</text>
<text x="1656.8" y="1375.2" font-family='"DejaVu Sans", "Liberation Sans", sans-serif' font-size="12.6" font-weight="normal" text-anchor="middle" fill="#1a1a1a">3</text>
<text x="1708.2" y="1375.2" font-family='"DejaVu Sans", "Liberation Sans", sans-serif' font-size="12.6" font-weight="normal" text-anchor="middle" fill="#1a1a1a">4</text>
<text x="1759.5" y="1375.2" font-family='"DejaVu Sans", "Liberation Sans", sans-serif' font-size="12.6" font-weight="normal" text-anchor="middle" fill="#1a1a1a">5</text>
<text x="1810.9" y="1375.2" font-family='"DejaVu Sans", "Liberation Sans", sans-serif' font-size="12.6" font-weight="normal" text-anchor="middle" fill="#1a1a1a">6</text>
<text x="1674.2" y="1395.7" font-family='"DejaVu Sans", "Liberation Sans", sans-serif' font-size="13.75" font-weight="normal" text-anchor="middle" fill="#1a1a1a">Expected -log10 P-value</text>
<text x="1462.6" y="1183.5" font-family='"DejaVu Sans", "Liberation Sans", sans-serif' font-size="13.75" font-weight="normal" text-anchor="middle" fill="#1a1a1a" transform="rotate(-90 1462.6 1183.5)">Observed -log10 P-value</text>
<path d="M1502.8 1355.4L1845.9 1182" stroke="#e2404a" stroke-width="1.4" stroke-dasharray="2.6 2.6" fill="none"/>
<path d="M1502.8 1355.4L1553.5 1329L1604.6 1300.3L1630.1 1284.4L1655.8 1267.3L1664.3 1252.6L1669.2 1242.8L1671.2 1231.8L1675.3 1224.5L1677.8 1212.2L1683.9 1209L1696.1 1203.7L1708.4 1202.9L1718.2 1201.2L1730.4 1195.8L1737.7 1190.2L1740.7 1181.6L1743.9 1167L1747.5 1152.3L1750 1140L1754.9 1130.2L1759.8 1120.5L1763.4 1113.1L1765.2 1103.3" stroke="#767676" stroke-width="4.0" stroke-linecap="round" stroke-linejoin="round" fill="none"/>
<path d="M1819 1039.7h0M1822.2 1039.7h0M1827.1 1033.6h0M1833.7 1029.4h0M1842.5 1015.9h0" stroke="#767676" stroke-width="4.4" stroke-linecap="round" fill="none"/><path d="M1766.4 1094.8L1769.6 1083.7L1774.5 1078.8L1781.8 1070.3L1786.7 1066.6L1796.5 1060.5L1806.3 1054.4L1813.6 1048.3" stroke="#767676" stroke-width="3.8" stroke-linecap="round" stroke-linejoin="round" fill="none"/>
<text x="723.5" y="52.8" font-family='"Liberation Sans", Arial, Helvetica, sans-serif' font-size="58.1" font-weight="bold" text-anchor="start" fill="#000">Left ventricular mass (LVM)</text>
<text x="913.4" y="1026" font-family='"Liberation Sans", Arial, Helvetica, sans-serif' font-size="58.7" font-weight="bold" text-anchor="start" fill="#000">LVM (MTAG9)</text>
<g transform="translate(14.7 57.0) scale(1.02 1)"><text x="0" y="0" font-family='"Liberation Sans", Arial, Helvetica, sans-serif' font-size="75.4" font-weight="bold" text-anchor="start" fill="#000">A</text></g>
<g transform="translate(17.3 1029.0) scale(0.926 1)"><text x="0" y="0" font-family='"Liberation Sans", Arial, Helvetica, sans-serif' font-size="76" font-weight="bold" text-anchor="start" fill="#000">B</text></g>
<g transform="translate(401.6 72.8) scale(0.885 1)"><text x="0" y="0" font-family='"Liberation Sans", Arial, Helvetica, sans-serif' font-size="44.2" font-weight="bold" text-anchor="middle" fill="#000">4</text></g>
<g transform="translate(401.6 1029.3) scale(0.885 1)"><text x="0" y="0" font-family='"Liberation Sans", Arial, Helvetica, sans-serif' font-size="44.2" font-weight="bold" text-anchor="middle" fill="#000">4</text></g>
</svg>
</body></html>
